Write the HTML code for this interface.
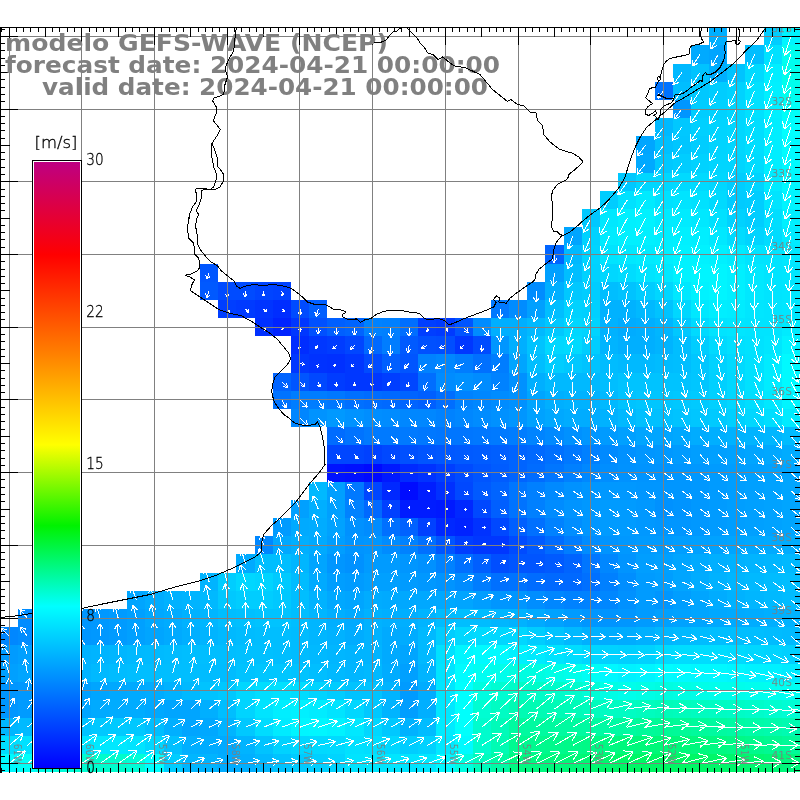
<!DOCTYPE html>
<html lang="pt"><head><meta charset="utf-8"><title>modelo GEFS-WAVE (NCEP)</title>
<style>html,body{margin:0;padding:0;background:#fff}svg{display:block;will-change:transform}.t{font-family:"DejaVu Sans","Liberation Sans",sans-serif;font-weight:bold;font-size:23.5px;fill:#808080}.h{font-family:"DejaVu Sans Light","DejaVu Sans","Liberation Sans",sans-serif;font-weight:200;fill:#000;stroke:#000;stroke-width:0.3px}.g{font-family:"DejaVu Sans Light","DejaVu Sans","Liberation Sans",sans-serif;font-weight:200;fill:#787878;stroke:#808080;stroke-width:0.25px}</style></head><body>
<svg width="800" height="800" viewBox="0 0 800 800">
<rect width="800" height="800" fill="#fff"/>
<g shape-rendering="crispEdges">
<rect x="709" y="28" width="18" height="17" fill="#00afff"/>
<rect x="764" y="28" width="18" height="17" fill="#00cdff"/>
<rect x="782" y="28" width="18" height="17" fill="#00f5ff"/>
<rect x="691" y="45" width="18" height="19" fill="#00aaff"/>
<rect x="709" y="45" width="18" height="19" fill="#00a5ff"/>
<rect x="745" y="45" width="19" height="19" fill="#00beff"/>
<rect x="764" y="45" width="18" height="19" fill="#00e1ff"/>
<rect x="782" y="45" width="18" height="19" fill="#00fef0"/>
<rect x="673" y="64" width="18" height="18" fill="#00b9ff"/>
<rect x="691" y="64" width="18" height="18" fill="#00c3ff"/>
<rect x="709" y="64" width="18" height="18" fill="#00afff"/>
<rect x="727" y="64" width="18" height="18" fill="#00c3ff"/>
<rect x="745" y="64" width="19" height="18" fill="#00daff"/>
<rect x="764" y="64" width="18" height="18" fill="#00eeff"/>
<rect x="782" y="64" width="18" height="18" fill="#00feeb"/>
<rect x="655" y="82" width="18" height="18" fill="#0073ff"/>
<rect x="673" y="82" width="18" height="18" fill="#00beff"/>
<rect x="691" y="82" width="18" height="18" fill="#00c8ff"/>
<rect x="709" y="82" width="18" height="18" fill="#00cdff"/>
<rect x="727" y="82" width="18" height="18" fill="#00d2ff"/>
<rect x="745" y="82" width="19" height="18" fill="#00e1ff"/>
<rect x="764" y="82" width="18" height="18" fill="#00f0ff"/>
<rect x="782" y="82" width="18" height="18" fill="#00feee"/>
<rect x="673" y="100" width="18" height="18" fill="#0096ff"/>
<rect x="691" y="100" width="18" height="18" fill="#00cdff"/>
<rect x="709" y="100" width="18" height="18" fill="#00d2ff"/>
<rect x="727" y="100" width="18" height="18" fill="#00d7ff"/>
<rect x="745" y="100" width="19" height="18" fill="#00e1ff"/>
<rect x="764" y="100" width="18" height="18" fill="#00f0ff"/>
<rect x="782" y="100" width="18" height="18" fill="#00fff8"/>
<rect x="655" y="118" width="18" height="18" fill="#00b9ff"/>
<rect x="673" y="118" width="18" height="18" fill="#00c8ff"/>
<rect x="691" y="118" width="18" height="18" fill="#00d0ff"/>
<rect x="709" y="118" width="18" height="18" fill="#00d4ff"/>
<rect x="727" y="118" width="18" height="18" fill="#00d7ff"/>
<rect x="745" y="118" width="19" height="18" fill="#00deff"/>
<rect x="764" y="118" width="18" height="18" fill="#00eeff"/>
<rect x="782" y="118" width="18" height="18" fill="#00ffff"/>
<rect x="636" y="136" width="19" height="18" fill="#00a6ff"/>
<rect x="655" y="136" width="18" height="18" fill="#00c0ff"/>
<rect x="673" y="136" width="18" height="18" fill="#00c6ff"/>
<rect x="691" y="136" width="18" height="18" fill="#00cdff"/>
<rect x="709" y="136" width="18" height="18" fill="#00d4ff"/>
<rect x="727" y="136" width="18" height="18" fill="#00d7ff"/>
<rect x="745" y="136" width="19" height="18" fill="#00deff"/>
<rect x="764" y="136" width="18" height="18" fill="#00eeff"/>
<rect x="782" y="136" width="18" height="18" fill="#00fcff"/>
<rect x="636" y="154" width="19" height="19" fill="#00a9ff"/>
<rect x="655" y="154" width="18" height="19" fill="#00c8ff"/>
<rect x="673" y="154" width="18" height="19" fill="#00cdff"/>
<rect x="691" y="154" width="18" height="19" fill="#00d2ff"/>
<rect x="709" y="154" width="18" height="19" fill="#00d5ff"/>
<rect x="727" y="154" width="18" height="19" fill="#00d5ff"/>
<rect x="745" y="154" width="19" height="19" fill="#00dcff"/>
<rect x="764" y="154" width="18" height="19" fill="#00eeff"/>
<rect x="782" y="154" width="18" height="19" fill="#00faff"/>
<rect x="618" y="173" width="18" height="18" fill="#00c8ff"/>
<rect x="636" y="173" width="19" height="18" fill="#00d7ff"/>
<rect x="655" y="173" width="18" height="18" fill="#00d7ff"/>
<rect x="673" y="173" width="18" height="18" fill="#00daff"/>
<rect x="691" y="173" width="18" height="18" fill="#00daff"/>
<rect x="709" y="173" width="18" height="18" fill="#00d7ff"/>
<rect x="727" y="173" width="18" height="18" fill="#00cdff"/>
<rect x="745" y="173" width="19" height="18" fill="#00d4ff"/>
<rect x="764" y="173" width="18" height="18" fill="#00ebff"/>
<rect x="782" y="173" width="18" height="18" fill="#00f8ff"/>
<rect x="600" y="191" width="18" height="18" fill="#00cdff"/>
<rect x="618" y="191" width="18" height="18" fill="#00e1ff"/>
<rect x="636" y="191" width="19" height="18" fill="#00ebff"/>
<rect x="655" y="191" width="18" height="18" fill="#00e1ff"/>
<rect x="673" y="191" width="18" height="18" fill="#00e4ff"/>
<rect x="691" y="191" width="18" height="18" fill="#00e1ff"/>
<rect x="709" y="191" width="18" height="18" fill="#00daff"/>
<rect x="727" y="191" width="18" height="18" fill="#00cbff"/>
<rect x="745" y="191" width="19" height="18" fill="#00cdff"/>
<rect x="764" y="191" width="18" height="18" fill="#00e4ff"/>
<rect x="782" y="191" width="18" height="18" fill="#00f5ff"/>
<rect x="582" y="209" width="18" height="18" fill="#00c8ff"/>
<rect x="600" y="209" width="18" height="18" fill="#00e8ff"/>
<rect x="618" y="209" width="18" height="18" fill="#00f0ff"/>
<rect x="636" y="209" width="19" height="18" fill="#00f2ff"/>
<rect x="655" y="209" width="18" height="18" fill="#00ebff"/>
<rect x="673" y="209" width="18" height="18" fill="#00ebff"/>
<rect x="691" y="209" width="18" height="18" fill="#00e8ff"/>
<rect x="709" y="209" width="18" height="18" fill="#00e1ff"/>
<rect x="727" y="209" width="18" height="18" fill="#00d2ff"/>
<rect x="745" y="209" width="19" height="18" fill="#00cdff"/>
<rect x="764" y="209" width="18" height="18" fill="#00deff"/>
<rect x="782" y="209" width="18" height="18" fill="#00f0ff"/>
<rect x="564" y="227" width="18" height="18" fill="#00a5ff"/>
<rect x="582" y="227" width="18" height="18" fill="#00d2ff"/>
<rect x="600" y="227" width="18" height="18" fill="#00ebff"/>
<rect x="618" y="227" width="18" height="18" fill="#00f0ff"/>
<rect x="636" y="227" width="19" height="18" fill="#00f0ff"/>
<rect x="655" y="227" width="18" height="18" fill="#00eeff"/>
<rect x="673" y="227" width="18" height="18" fill="#00f0ff"/>
<rect x="691" y="227" width="18" height="18" fill="#00eeff"/>
<rect x="709" y="227" width="18" height="18" fill="#00e8ff"/>
<rect x="727" y="227" width="18" height="18" fill="#00dcff"/>
<rect x="745" y="227" width="19" height="18" fill="#00d4ff"/>
<rect x="764" y="227" width="18" height="18" fill="#00dcff"/>
<rect x="782" y="227" width="18" height="18" fill="#00ebff"/>
<rect x="545" y="245" width="19" height="19" fill="#0064ff"/>
<rect x="564" y="245" width="18" height="19" fill="#00b9ff"/>
<rect x="582" y="245" width="18" height="19" fill="#00d4ff"/>
<rect x="600" y="245" width="18" height="19" fill="#00e4ff"/>
<rect x="618" y="245" width="18" height="19" fill="#00e8ff"/>
<rect x="636" y="245" width="19" height="19" fill="#00ebff"/>
<rect x="655" y="245" width="18" height="19" fill="#00eeff"/>
<rect x="673" y="245" width="18" height="19" fill="#00f2ff"/>
<rect x="691" y="245" width="18" height="19" fill="#00f2ff"/>
<rect x="709" y="245" width="18" height="19" fill="#00f0ff"/>
<rect x="727" y="245" width="18" height="19" fill="#00ebff"/>
<rect x="745" y="245" width="19" height="19" fill="#00e4ff"/>
<rect x="764" y="245" width="18" height="19" fill="#00e4ff"/>
<rect x="782" y="245" width="18" height="19" fill="#00e8ff"/>
<rect x="200" y="264" width="18" height="18" fill="#0056ff"/>
<rect x="545" y="264" width="19" height="18" fill="#00a0ff"/>
<rect x="564" y="264" width="18" height="18" fill="#00beff"/>
<rect x="582" y="264" width="18" height="18" fill="#00d2ff"/>
<rect x="600" y="264" width="18" height="18" fill="#00d7ff"/>
<rect x="618" y="264" width="18" height="18" fill="#00dcff"/>
<rect x="636" y="264" width="19" height="18" fill="#00e4ff"/>
<rect x="655" y="264" width="18" height="18" fill="#00e8ff"/>
<rect x="673" y="264" width="18" height="18" fill="#00f2ff"/>
<rect x="691" y="264" width="18" height="18" fill="#00f5ff"/>
<rect x="709" y="264" width="18" height="18" fill="#00f5ff"/>
<rect x="727" y="264" width="18" height="18" fill="#00f0ff"/>
<rect x="745" y="264" width="19" height="18" fill="#00e8ff"/>
<rect x="764" y="264" width="18" height="18" fill="#00e4ff"/>
<rect x="782" y="264" width="18" height="18" fill="#00e6ff"/>
<rect x="200" y="282" width="18" height="18" fill="#0059ff"/>
<rect x="218" y="282" width="18" height="18" fill="#004bff"/>
<rect x="236" y="282" width="19" height="18" fill="#004bff"/>
<rect x="255" y="282" width="18" height="18" fill="#0044ff"/>
<rect x="273" y="282" width="18" height="18" fill="#0041ff"/>
<rect x="527" y="282" width="18" height="18" fill="#008cff"/>
<rect x="545" y="282" width="19" height="18" fill="#00afff"/>
<rect x="564" y="282" width="18" height="18" fill="#00c8ff"/>
<rect x="582" y="282" width="18" height="18" fill="#00cdff"/>
<rect x="600" y="282" width="18" height="18" fill="#00beff"/>
<rect x="618" y="282" width="18" height="18" fill="#00c3ff"/>
<rect x="636" y="282" width="19" height="18" fill="#00cdff"/>
<rect x="655" y="282" width="18" height="18" fill="#00d7ff"/>
<rect x="673" y="282" width="18" height="18" fill="#00e8ff"/>
<rect x="691" y="282" width="18" height="18" fill="#00f2ff"/>
<rect x="709" y="282" width="18" height="18" fill="#00f5ff"/>
<rect x="727" y="282" width="18" height="18" fill="#00f0ff"/>
<rect x="745" y="282" width="19" height="18" fill="#00e8ff"/>
<rect x="764" y="282" width="18" height="18" fill="#00e4ff"/>
<rect x="782" y="282" width="18" height="18" fill="#00e6ff"/>
<rect x="218" y="300" width="18" height="18" fill="#003eff"/>
<rect x="236" y="300" width="19" height="18" fill="#003aff"/>
<rect x="255" y="300" width="18" height="18" fill="#0034ff"/>
<rect x="273" y="300" width="18" height="18" fill="#002dff"/>
<rect x="291" y="300" width="18" height="18" fill="#004bff"/>
<rect x="309" y="300" width="18" height="18" fill="#005fff"/>
<rect x="491" y="300" width="18" height="18" fill="#0079ff"/>
<rect x="509" y="300" width="18" height="18" fill="#008cff"/>
<rect x="527" y="300" width="18" height="18" fill="#00a0ff"/>
<rect x="545" y="300" width="19" height="18" fill="#00beff"/>
<rect x="564" y="300" width="18" height="18" fill="#00d2ff"/>
<rect x="582" y="300" width="18" height="18" fill="#00d0ff"/>
<rect x="600" y="300" width="18" height="18" fill="#00b2ff"/>
<rect x="618" y="300" width="18" height="18" fill="#00b2ff"/>
<rect x="636" y="300" width="19" height="18" fill="#00b9ff"/>
<rect x="655" y="300" width="18" height="18" fill="#00c3ff"/>
<rect x="673" y="300" width="18" height="18" fill="#00d7ff"/>
<rect x="691" y="300" width="18" height="18" fill="#00e8ff"/>
<rect x="709" y="300" width="18" height="18" fill="#00eeff"/>
<rect x="727" y="300" width="18" height="18" fill="#00ecff"/>
<rect x="745" y="300" width="19" height="18" fill="#00e6ff"/>
<rect x="764" y="300" width="18" height="18" fill="#00e4ff"/>
<rect x="782" y="300" width="18" height="18" fill="#00e6ff"/>
<rect x="255" y="318" width="18" height="18" fill="#0030ff"/>
<rect x="273" y="318" width="18" height="18" fill="#0023ff"/>
<rect x="291" y="318" width="18" height="18" fill="#0037ff"/>
<rect x="309" y="318" width="18" height="18" fill="#0050ff"/>
<rect x="327" y="318" width="18" height="18" fill="#005fff"/>
<rect x="345" y="318" width="19" height="18" fill="#0064ff"/>
<rect x="364" y="318" width="18" height="18" fill="#0082ff"/>
<rect x="382" y="318" width="18" height="18" fill="#0080ff"/>
<rect x="400" y="318" width="18" height="18" fill="#006eff"/>
<rect x="418" y="318" width="18" height="18" fill="#003eff"/>
<rect x="436" y="318" width="19" height="18" fill="#003aff"/>
<rect x="455" y="318" width="18" height="18" fill="#0055ff"/>
<rect x="473" y="318" width="18" height="18" fill="#008cff"/>
<rect x="491" y="318" width="18" height="18" fill="#00afff"/>
<rect x="509" y="318" width="18" height="18" fill="#00afff"/>
<rect x="527" y="318" width="18" height="18" fill="#00b9ff"/>
<rect x="545" y="318" width="19" height="18" fill="#00c8ff"/>
<rect x="564" y="318" width="18" height="18" fill="#00d7ff"/>
<rect x="582" y="318" width="18" height="18" fill="#00d4ff"/>
<rect x="600" y="318" width="18" height="18" fill="#00b2ff"/>
<rect x="618" y="318" width="18" height="18" fill="#00acff"/>
<rect x="636" y="318" width="19" height="18" fill="#00afff"/>
<rect x="655" y="318" width="18" height="18" fill="#00b6ff"/>
<rect x="673" y="318" width="18" height="18" fill="#00c8ff"/>
<rect x="691" y="318" width="18" height="18" fill="#00daff"/>
<rect x="709" y="318" width="18" height="18" fill="#00e4ff"/>
<rect x="727" y="318" width="18" height="18" fill="#00e6ff"/>
<rect x="745" y="318" width="19" height="18" fill="#00e4ff"/>
<rect x="764" y="318" width="18" height="18" fill="#00e4ff"/>
<rect x="782" y="318" width="18" height="18" fill="#00ebff"/>
<rect x="291" y="336" width="18" height="18" fill="#002dff"/>
<rect x="309" y="336" width="18" height="18" fill="#0037ff"/>
<rect x="327" y="336" width="18" height="18" fill="#003cff"/>
<rect x="345" y="336" width="19" height="18" fill="#0046ff"/>
<rect x="364" y="336" width="18" height="18" fill="#0069ff"/>
<rect x="382" y="336" width="18" height="18" fill="#007dff"/>
<rect x="400" y="336" width="18" height="18" fill="#005aff"/>
<rect x="418" y="336" width="18" height="18" fill="#0050ff"/>
<rect x="436" y="336" width="19" height="18" fill="#004eff"/>
<rect x="455" y="336" width="18" height="18" fill="#0037ff"/>
<rect x="473" y="336" width="18" height="18" fill="#004bff"/>
<rect x="491" y="336" width="18" height="18" fill="#0096ff"/>
<rect x="509" y="336" width="18" height="18" fill="#00afff"/>
<rect x="527" y="336" width="18" height="18" fill="#00c3ff"/>
<rect x="545" y="336" width="19" height="18" fill="#00d7ff"/>
<rect x="564" y="336" width="18" height="18" fill="#00daff"/>
<rect x="582" y="336" width="18" height="18" fill="#00cdff"/>
<rect x="600" y="336" width="18" height="18" fill="#00b4ff"/>
<rect x="618" y="336" width="18" height="18" fill="#00afff"/>
<rect x="636" y="336" width="19" height="18" fill="#00afff"/>
<rect x="655" y="336" width="18" height="18" fill="#00b4ff"/>
<rect x="673" y="336" width="18" height="18" fill="#00beff"/>
<rect x="691" y="336" width="18" height="18" fill="#00cdff"/>
<rect x="709" y="336" width="18" height="18" fill="#00daff"/>
<rect x="727" y="336" width="18" height="18" fill="#00e0ff"/>
<rect x="745" y="336" width="19" height="18" fill="#00e2ff"/>
<rect x="764" y="336" width="18" height="18" fill="#00e6ff"/>
<rect x="782" y="336" width="18" height="18" fill="#00f2ff"/>
<rect x="291" y="354" width="18" height="19" fill="#0037ff"/>
<rect x="309" y="354" width="18" height="19" fill="#0032ff"/>
<rect x="327" y="354" width="18" height="19" fill="#0030ff"/>
<rect x="345" y="354" width="19" height="19" fill="#0037ff"/>
<rect x="364" y="354" width="18" height="19" fill="#004bff"/>
<rect x="382" y="354" width="18" height="19" fill="#005fff"/>
<rect x="400" y="354" width="18" height="19" fill="#0055ff"/>
<rect x="418" y="354" width="18" height="19" fill="#0082ff"/>
<rect x="436" y="354" width="19" height="19" fill="#0087ff"/>
<rect x="455" y="354" width="18" height="19" fill="#007dff"/>
<rect x="473" y="354" width="18" height="19" fill="#0070ff"/>
<rect x="491" y="354" width="18" height="19" fill="#007dff"/>
<rect x="509" y="354" width="18" height="19" fill="#00a5ff"/>
<rect x="527" y="354" width="18" height="19" fill="#00beff"/>
<rect x="545" y="354" width="19" height="19" fill="#00cdff"/>
<rect x="564" y="354" width="18" height="19" fill="#00c8ff"/>
<rect x="582" y="354" width="18" height="19" fill="#00c3ff"/>
<rect x="600" y="354" width="18" height="19" fill="#00bcff"/>
<rect x="618" y="354" width="18" height="19" fill="#00b9ff"/>
<rect x="636" y="354" width="19" height="19" fill="#00b9ff"/>
<rect x="655" y="354" width="18" height="19" fill="#00bcff"/>
<rect x="673" y="354" width="18" height="19" fill="#00beff"/>
<rect x="691" y="354" width="18" height="19" fill="#00c6ff"/>
<rect x="709" y="354" width="18" height="19" fill="#00d2ff"/>
<rect x="727" y="354" width="18" height="19" fill="#00daff"/>
<rect x="745" y="354" width="19" height="19" fill="#00e1ff"/>
<rect x="764" y="354" width="18" height="19" fill="#00ebff"/>
<rect x="782" y="354" width="18" height="19" fill="#00faff"/>
<rect x="273" y="373" width="18" height="18" fill="#0064ff"/>
<rect x="291" y="373" width="18" height="18" fill="#0055ff"/>
<rect x="309" y="373" width="18" height="18" fill="#0048ff"/>
<rect x="327" y="373" width="18" height="18" fill="#003cff"/>
<rect x="345" y="373" width="19" height="18" fill="#0037ff"/>
<rect x="364" y="373" width="18" height="18" fill="#0037ff"/>
<rect x="382" y="373" width="18" height="18" fill="#003eff"/>
<rect x="400" y="373" width="18" height="18" fill="#0046ff"/>
<rect x="418" y="373" width="18" height="18" fill="#006eff"/>
<rect x="436" y="373" width="19" height="18" fill="#008cff"/>
<rect x="455" y="373" width="18" height="18" fill="#0091ff"/>
<rect x="473" y="373" width="18" height="18" fill="#008cff"/>
<rect x="491" y="373" width="18" height="18" fill="#0082ff"/>
<rect x="509" y="373" width="18" height="18" fill="#0091ff"/>
<rect x="527" y="373" width="18" height="18" fill="#00afff"/>
<rect x="545" y="373" width="19" height="18" fill="#00b9ff"/>
<rect x="564" y="373" width="18" height="18" fill="#00b9ff"/>
<rect x="582" y="373" width="18" height="18" fill="#00b9ff"/>
<rect x="600" y="373" width="18" height="18" fill="#00beff"/>
<rect x="618" y="373" width="18" height="18" fill="#00c3ff"/>
<rect x="636" y="373" width="19" height="18" fill="#00c3ff"/>
<rect x="655" y="373" width="18" height="18" fill="#00c3ff"/>
<rect x="673" y="373" width="18" height="18" fill="#00c3ff"/>
<rect x="691" y="373" width="18" height="18" fill="#00c6ff"/>
<rect x="709" y="373" width="18" height="18" fill="#00d0ff"/>
<rect x="727" y="373" width="18" height="18" fill="#00d8ff"/>
<rect x="745" y="373" width="19" height="18" fill="#00e1ff"/>
<rect x="764" y="373" width="18" height="18" fill="#00ecff"/>
<rect x="782" y="373" width="18" height="18" fill="#00faff"/>
<rect x="273" y="391" width="18" height="18" fill="#0073ff"/>
<rect x="291" y="391" width="18" height="18" fill="#007dff"/>
<rect x="309" y="391" width="18" height="18" fill="#007dff"/>
<rect x="327" y="391" width="18" height="18" fill="#0078ff"/>
<rect x="345" y="391" width="19" height="18" fill="#0070ff"/>
<rect x="364" y="391" width="18" height="18" fill="#006cff"/>
<rect x="382" y="391" width="18" height="18" fill="#0069ff"/>
<rect x="400" y="391" width="18" height="18" fill="#0064ff"/>
<rect x="418" y="391" width="18" height="18" fill="#005fff"/>
<rect x="436" y="391" width="19" height="18" fill="#006eff"/>
<rect x="455" y="391" width="18" height="18" fill="#0082ff"/>
<rect x="473" y="391" width="18" height="18" fill="#0087ff"/>
<rect x="491" y="391" width="18" height="18" fill="#008cff"/>
<rect x="509" y="391" width="18" height="18" fill="#0091ff"/>
<rect x="527" y="391" width="18" height="18" fill="#00a5ff"/>
<rect x="545" y="391" width="19" height="18" fill="#00afff"/>
<rect x="564" y="391" width="18" height="18" fill="#00b2ff"/>
<rect x="582" y="391" width="18" height="18" fill="#00b2ff"/>
<rect x="600" y="391" width="18" height="18" fill="#00b9ff"/>
<rect x="618" y="391" width="18" height="18" fill="#00c3ff"/>
<rect x="636" y="391" width="19" height="18" fill="#00c6ff"/>
<rect x="655" y="391" width="18" height="18" fill="#00c6ff"/>
<rect x="673" y="391" width="18" height="18" fill="#00c8ff"/>
<rect x="691" y="391" width="18" height="18" fill="#00caff"/>
<rect x="709" y="391" width="18" height="18" fill="#00d0ff"/>
<rect x="727" y="391" width="18" height="18" fill="#00d7ff"/>
<rect x="745" y="391" width="19" height="18" fill="#00deff"/>
<rect x="764" y="391" width="18" height="18" fill="#00e8ff"/>
<rect x="782" y="391" width="18" height="18" fill="#00f5ff"/>
<rect x="291" y="409" width="18" height="18" fill="#0086ff"/>
<rect x="309" y="409" width="18" height="18" fill="#0093ff"/>
<rect x="327" y="409" width="18" height="18" fill="#0099ff"/>
<rect x="345" y="409" width="19" height="18" fill="#0093ff"/>
<rect x="364" y="409" width="18" height="18" fill="#008eff"/>
<rect x="382" y="409" width="18" height="18" fill="#008cff"/>
<rect x="400" y="409" width="18" height="18" fill="#0087ff"/>
<rect x="418" y="409" width="18" height="18" fill="#0087ff"/>
<rect x="436" y="409" width="19" height="18" fill="#0082ff"/>
<rect x="455" y="409" width="18" height="18" fill="#0087ff"/>
<rect x="473" y="409" width="18" height="18" fill="#008cff"/>
<rect x="491" y="409" width="18" height="18" fill="#0091ff"/>
<rect x="509" y="409" width="18" height="18" fill="#0096ff"/>
<rect x="527" y="409" width="18" height="18" fill="#00a2ff"/>
<rect x="545" y="409" width="19" height="18" fill="#00a8ff"/>
<rect x="564" y="409" width="18" height="18" fill="#00acff"/>
<rect x="582" y="409" width="18" height="18" fill="#00acff"/>
<rect x="600" y="409" width="18" height="18" fill="#00b2ff"/>
<rect x="618" y="409" width="18" height="18" fill="#00b9ff"/>
<rect x="636" y="409" width="19" height="18" fill="#00c0ff"/>
<rect x="655" y="409" width="18" height="18" fill="#00c0ff"/>
<rect x="673" y="409" width="18" height="18" fill="#00c3ff"/>
<rect x="691" y="409" width="18" height="18" fill="#00c6ff"/>
<rect x="709" y="409" width="18" height="18" fill="#00caff"/>
<rect x="727" y="409" width="18" height="18" fill="#00d0ff"/>
<rect x="745" y="409" width="19" height="18" fill="#00d7ff"/>
<rect x="764" y="409" width="18" height="18" fill="#00deff"/>
<rect x="782" y="409" width="18" height="18" fill="#00ebff"/>
<rect x="327" y="427" width="18" height="18" fill="#006cff"/>
<rect x="345" y="427" width="19" height="18" fill="#0073ff"/>
<rect x="364" y="427" width="18" height="18" fill="#007aff"/>
<rect x="382" y="427" width="18" height="18" fill="#007aff"/>
<rect x="400" y="427" width="18" height="18" fill="#007aff"/>
<rect x="418" y="427" width="18" height="18" fill="#0078ff"/>
<rect x="436" y="427" width="19" height="18" fill="#0076ff"/>
<rect x="455" y="427" width="18" height="18" fill="#0076ff"/>
<rect x="473" y="427" width="18" height="18" fill="#0078ff"/>
<rect x="491" y="427" width="18" height="18" fill="#007aff"/>
<rect x="509" y="427" width="18" height="18" fill="#007dff"/>
<rect x="527" y="427" width="18" height="18" fill="#0084ff"/>
<rect x="545" y="427" width="19" height="18" fill="#008aff"/>
<rect x="564" y="427" width="18" height="18" fill="#0091ff"/>
<rect x="582" y="427" width="18" height="18" fill="#0096ff"/>
<rect x="600" y="427" width="18" height="18" fill="#009bff"/>
<rect x="618" y="427" width="18" height="18" fill="#00a0ff"/>
<rect x="636" y="427" width="19" height="18" fill="#00a5ff"/>
<rect x="655" y="427" width="18" height="18" fill="#00a5ff"/>
<rect x="673" y="427" width="18" height="18" fill="#00a8ff"/>
<rect x="691" y="427" width="18" height="18" fill="#00acff"/>
<rect x="709" y="427" width="18" height="18" fill="#00afff"/>
<rect x="727" y="427" width="18" height="18" fill="#00b2ff"/>
<rect x="745" y="427" width="19" height="18" fill="#00b4ff"/>
<rect x="764" y="427" width="18" height="18" fill="#00b6ff"/>
<rect x="782" y="427" width="18" height="18" fill="#00bcff"/>
<rect x="327" y="445" width="18" height="19" fill="#0046ff"/>
<rect x="345" y="445" width="19" height="19" fill="#0046ff"/>
<rect x="364" y="445" width="18" height="19" fill="#0041ff"/>
<rect x="382" y="445" width="18" height="19" fill="#0048ff"/>
<rect x="400" y="445" width="18" height="19" fill="#0050ff"/>
<rect x="418" y="445" width="18" height="19" fill="#0055ff"/>
<rect x="436" y="445" width="19" height="19" fill="#0058ff"/>
<rect x="455" y="445" width="18" height="19" fill="#005aff"/>
<rect x="473" y="445" width="18" height="19" fill="#005cff"/>
<rect x="491" y="445" width="18" height="19" fill="#005fff"/>
<rect x="509" y="445" width="18" height="19" fill="#0064ff"/>
<rect x="527" y="445" width="18" height="19" fill="#0069ff"/>
<rect x="545" y="445" width="19" height="19" fill="#0070ff"/>
<rect x="564" y="445" width="18" height="19" fill="#0078ff"/>
<rect x="582" y="445" width="18" height="19" fill="#0080ff"/>
<rect x="600" y="445" width="18" height="19" fill="#008aff"/>
<rect x="618" y="445" width="18" height="19" fill="#0091ff"/>
<rect x="636" y="445" width="19" height="19" fill="#0096ff"/>
<rect x="655" y="445" width="18" height="19" fill="#0098ff"/>
<rect x="673" y="445" width="18" height="19" fill="#009bff"/>
<rect x="691" y="445" width="18" height="19" fill="#009eff"/>
<rect x="709" y="445" width="18" height="19" fill="#00a0ff"/>
<rect x="727" y="445" width="18" height="19" fill="#00a2ff"/>
<rect x="745" y="445" width="19" height="19" fill="#00a5ff"/>
<rect x="764" y="445" width="18" height="19" fill="#00a8ff"/>
<rect x="782" y="445" width="18" height="19" fill="#00acff"/>
<rect x="327" y="464" width="18" height="18" fill="#0013ff"/>
<rect x="345" y="464" width="19" height="18" fill="#0010ff"/>
<rect x="364" y="464" width="18" height="18" fill="#000aff"/>
<rect x="382" y="464" width="18" height="18" fill="#0019ff"/>
<rect x="400" y="464" width="18" height="18" fill="#002aff"/>
<rect x="418" y="464" width="18" height="18" fill="#0032ff"/>
<rect x="436" y="464" width="19" height="18" fill="#003eff"/>
<rect x="455" y="464" width="18" height="18" fill="#004bff"/>
<rect x="473" y="464" width="18" height="18" fill="#0055ff"/>
<rect x="491" y="464" width="18" height="18" fill="#005cff"/>
<rect x="509" y="464" width="18" height="18" fill="#0064ff"/>
<rect x="527" y="464" width="18" height="18" fill="#006cff"/>
<rect x="545" y="464" width="19" height="18" fill="#0076ff"/>
<rect x="564" y="464" width="18" height="18" fill="#0080ff"/>
<rect x="582" y="464" width="18" height="18" fill="#0088ff"/>
<rect x="600" y="464" width="18" height="18" fill="#008eff"/>
<rect x="618" y="464" width="18" height="18" fill="#0092ff"/>
<rect x="636" y="464" width="19" height="18" fill="#0094ff"/>
<rect x="655" y="464" width="18" height="18" fill="#0094ff"/>
<rect x="673" y="464" width="18" height="18" fill="#0096ff"/>
<rect x="691" y="464" width="18" height="18" fill="#0098ff"/>
<rect x="709" y="464" width="18" height="18" fill="#009bff"/>
<rect x="727" y="464" width="18" height="18" fill="#009eff"/>
<rect x="745" y="464" width="19" height="18" fill="#00a0ff"/>
<rect x="764" y="464" width="18" height="18" fill="#00a2ff"/>
<rect x="782" y="464" width="18" height="18" fill="#00a5ff"/>
<rect x="309" y="482" width="18" height="18" fill="#00b9ff"/>
<rect x="327" y="482" width="18" height="18" fill="#009fff"/>
<rect x="345" y="482" width="19" height="18" fill="#0079ff"/>
<rect x="364" y="482" width="18" height="18" fill="#0046ff"/>
<rect x="382" y="482" width="18" height="18" fill="#0028ff"/>
<rect x="400" y="482" width="18" height="18" fill="#000cff"/>
<rect x="418" y="482" width="18" height="18" fill="#001eff"/>
<rect x="436" y="482" width="19" height="18" fill="#0030ff"/>
<rect x="455" y="482" width="18" height="18" fill="#0048ff"/>
<rect x="473" y="482" width="18" height="18" fill="#005aff"/>
<rect x="491" y="482" width="18" height="18" fill="#0064ff"/>
<rect x="509" y="482" width="18" height="18" fill="#0076ff"/>
<rect x="527" y="482" width="18" height="18" fill="#0080ff"/>
<rect x="545" y="482" width="19" height="18" fill="#008aff"/>
<rect x="564" y="482" width="18" height="18" fill="#0092ff"/>
<rect x="582" y="482" width="18" height="18" fill="#0096ff"/>
<rect x="600" y="482" width="18" height="18" fill="#0098ff"/>
<rect x="618" y="482" width="18" height="18" fill="#0098ff"/>
<rect x="636" y="482" width="19" height="18" fill="#0096ff"/>
<rect x="655" y="482" width="18" height="18" fill="#0096ff"/>
<rect x="673" y="482" width="18" height="18" fill="#0096ff"/>
<rect x="691" y="482" width="18" height="18" fill="#0098ff"/>
<rect x="709" y="482" width="18" height="18" fill="#009bff"/>
<rect x="727" y="482" width="18" height="18" fill="#009eff"/>
<rect x="745" y="482" width="19" height="18" fill="#00a0ff"/>
<rect x="764" y="482" width="18" height="18" fill="#00a2ff"/>
<rect x="782" y="482" width="18" height="18" fill="#00a5ff"/>
<rect x="291" y="500" width="18" height="18" fill="#00a0ff"/>
<rect x="309" y="500" width="18" height="18" fill="#00afff"/>
<rect x="327" y="500" width="18" height="18" fill="#00a0ff"/>
<rect x="345" y="500" width="19" height="18" fill="#0082ff"/>
<rect x="364" y="500" width="18" height="18" fill="#0069ff"/>
<rect x="382" y="500" width="18" height="18" fill="#0041ff"/>
<rect x="400" y="500" width="18" height="18" fill="#001cff"/>
<rect x="418" y="500" width="18" height="18" fill="#001cff"/>
<rect x="436" y="500" width="19" height="18" fill="#0019ff"/>
<rect x="455" y="500" width="18" height="18" fill="#0028ff"/>
<rect x="473" y="500" width="18" height="18" fill="#0048ff"/>
<rect x="491" y="500" width="18" height="18" fill="#005fff"/>
<rect x="509" y="500" width="18" height="18" fill="#0073ff"/>
<rect x="527" y="500" width="18" height="18" fill="#0080ff"/>
<rect x="545" y="500" width="19" height="18" fill="#008cff"/>
<rect x="564" y="500" width="18" height="18" fill="#0094ff"/>
<rect x="582" y="500" width="18" height="18" fill="#0098ff"/>
<rect x="600" y="500" width="18" height="18" fill="#009bff"/>
<rect x="618" y="500" width="18" height="18" fill="#009bff"/>
<rect x="636" y="500" width="19" height="18" fill="#0098ff"/>
<rect x="655" y="500" width="18" height="18" fill="#0091ff"/>
<rect x="673" y="500" width="18" height="18" fill="#0094ff"/>
<rect x="691" y="500" width="18" height="18" fill="#0098ff"/>
<rect x="709" y="500" width="18" height="18" fill="#009bff"/>
<rect x="727" y="500" width="18" height="18" fill="#009eff"/>
<rect x="745" y="500" width="19" height="18" fill="#00a0ff"/>
<rect x="764" y="500" width="18" height="18" fill="#00a2ff"/>
<rect x="782" y="500" width="18" height="18" fill="#00a5ff"/>
<rect x="273" y="518" width="18" height="18" fill="#009bff"/>
<rect x="291" y="518" width="18" height="18" fill="#00aaff"/>
<rect x="309" y="518" width="18" height="18" fill="#00acff"/>
<rect x="327" y="518" width="18" height="18" fill="#00a2ff"/>
<rect x="345" y="518" width="19" height="18" fill="#0091ff"/>
<rect x="364" y="518" width="18" height="18" fill="#008cff"/>
<rect x="382" y="518" width="18" height="18" fill="#0070ff"/>
<rect x="400" y="518" width="18" height="18" fill="#0062ff"/>
<rect x="418" y="518" width="18" height="18" fill="#0041ff"/>
<rect x="436" y="518" width="19" height="18" fill="#0028ff"/>
<rect x="455" y="518" width="18" height="18" fill="#0023ff"/>
<rect x="473" y="518" width="18" height="18" fill="#0032ff"/>
<rect x="491" y="518" width="18" height="18" fill="#0048ff"/>
<rect x="509" y="518" width="18" height="18" fill="#005fff"/>
<rect x="527" y="518" width="18" height="18" fill="#0070ff"/>
<rect x="545" y="518" width="19" height="18" fill="#0082ff"/>
<rect x="564" y="518" width="18" height="18" fill="#008eff"/>
<rect x="582" y="518" width="18" height="18" fill="#0096ff"/>
<rect x="600" y="518" width="18" height="18" fill="#009bff"/>
<rect x="618" y="518" width="18" height="18" fill="#009bff"/>
<rect x="636" y="518" width="19" height="18" fill="#0098ff"/>
<rect x="655" y="518" width="18" height="18" fill="#0096ff"/>
<rect x="673" y="518" width="18" height="18" fill="#0096ff"/>
<rect x="691" y="518" width="18" height="18" fill="#0098ff"/>
<rect x="709" y="518" width="18" height="18" fill="#009bff"/>
<rect x="727" y="518" width="18" height="18" fill="#009eff"/>
<rect x="745" y="518" width="19" height="18" fill="#00a0ff"/>
<rect x="764" y="518" width="18" height="18" fill="#00a2ff"/>
<rect x="782" y="518" width="18" height="18" fill="#00a5ff"/>
<rect x="255" y="536" width="18" height="18" fill="#0087ff"/>
<rect x="273" y="536" width="18" height="18" fill="#00a8ff"/>
<rect x="291" y="536" width="18" height="18" fill="#00afff"/>
<rect x="309" y="536" width="18" height="18" fill="#00aaff"/>
<rect x="327" y="536" width="18" height="18" fill="#009eff"/>
<rect x="345" y="536" width="19" height="18" fill="#0094ff"/>
<rect x="364" y="536" width="18" height="18" fill="#0096ff"/>
<rect x="382" y="536" width="18" height="18" fill="#008cff"/>
<rect x="400" y="536" width="18" height="18" fill="#0082ff"/>
<rect x="418" y="536" width="18" height="18" fill="#0070ff"/>
<rect x="436" y="536" width="19" height="18" fill="#0055ff"/>
<rect x="455" y="536" width="18" height="18" fill="#003eff"/>
<rect x="473" y="536" width="18" height="18" fill="#0037ff"/>
<rect x="491" y="536" width="18" height="18" fill="#0037ff"/>
<rect x="509" y="536" width="18" height="18" fill="#004bff"/>
<rect x="527" y="536" width="18" height="18" fill="#005aff"/>
<rect x="545" y="536" width="19" height="18" fill="#006cff"/>
<rect x="564" y="536" width="18" height="18" fill="#007dff"/>
<rect x="582" y="536" width="18" height="18" fill="#008cff"/>
<rect x="600" y="536" width="18" height="18" fill="#0094ff"/>
<rect x="618" y="536" width="18" height="18" fill="#0098ff"/>
<rect x="636" y="536" width="19" height="18" fill="#009bff"/>
<rect x="655" y="536" width="18" height="18" fill="#009bff"/>
<rect x="673" y="536" width="18" height="18" fill="#009eff"/>
<rect x="691" y="536" width="18" height="18" fill="#00a0ff"/>
<rect x="709" y="536" width="18" height="18" fill="#00a2ff"/>
<rect x="727" y="536" width="18" height="18" fill="#00a5ff"/>
<rect x="745" y="536" width="19" height="18" fill="#00a8ff"/>
<rect x="764" y="536" width="18" height="18" fill="#00aaff"/>
<rect x="782" y="536" width="18" height="18" fill="#00acff"/>
<rect x="236" y="554" width="19" height="19" fill="#00aaff"/>
<rect x="255" y="554" width="18" height="19" fill="#00beff"/>
<rect x="273" y="554" width="18" height="19" fill="#00beff"/>
<rect x="291" y="554" width="18" height="19" fill="#00b6ff"/>
<rect x="309" y="554" width="18" height="19" fill="#00a5ff"/>
<rect x="327" y="554" width="18" height="19" fill="#0096ff"/>
<rect x="345" y="554" width="19" height="19" fill="#0091ff"/>
<rect x="364" y="554" width="18" height="19" fill="#009bff"/>
<rect x="382" y="554" width="18" height="19" fill="#009bff"/>
<rect x="400" y="554" width="18" height="19" fill="#0096ff"/>
<rect x="418" y="554" width="18" height="19" fill="#0091ff"/>
<rect x="436" y="554" width="19" height="19" fill="#0082ff"/>
<rect x="455" y="554" width="18" height="19" fill="#0070ff"/>
<rect x="473" y="554" width="18" height="19" fill="#005fff"/>
<rect x="491" y="554" width="18" height="19" fill="#004eff"/>
<rect x="509" y="554" width="18" height="19" fill="#0055ff"/>
<rect x="527" y="554" width="18" height="19" fill="#0055ff"/>
<rect x="545" y="554" width="19" height="19" fill="#005aff"/>
<rect x="564" y="554" width="18" height="19" fill="#0064ff"/>
<rect x="582" y="554" width="18" height="19" fill="#0076ff"/>
<rect x="600" y="554" width="18" height="19" fill="#0087ff"/>
<rect x="618" y="554" width="18" height="19" fill="#0094ff"/>
<rect x="636" y="554" width="19" height="19" fill="#009eff"/>
<rect x="655" y="554" width="18" height="19" fill="#00a0ff"/>
<rect x="673" y="554" width="18" height="19" fill="#00a5ff"/>
<rect x="691" y="554" width="18" height="19" fill="#00aaff"/>
<rect x="709" y="554" width="18" height="19" fill="#00afff"/>
<rect x="727" y="554" width="18" height="19" fill="#00b2ff"/>
<rect x="745" y="554" width="19" height="19" fill="#00b4ff"/>
<rect x="764" y="554" width="18" height="19" fill="#00b6ff"/>
<rect x="782" y="554" width="18" height="19" fill="#00b9ff"/>
<rect x="200" y="573" width="18" height="18" fill="#00b4ff"/>
<rect x="218" y="573" width="18" height="18" fill="#00cdff"/>
<rect x="236" y="573" width="19" height="18" fill="#00d7ff"/>
<rect x="255" y="573" width="18" height="18" fill="#00d4ff"/>
<rect x="273" y="573" width="18" height="18" fill="#00caff"/>
<rect x="291" y="573" width="18" height="18" fill="#00bcff"/>
<rect x="309" y="573" width="18" height="18" fill="#00aaff"/>
<rect x="327" y="573" width="18" height="18" fill="#009eff"/>
<rect x="345" y="573" width="19" height="18" fill="#009bff"/>
<rect x="364" y="573" width="18" height="18" fill="#00a0ff"/>
<rect x="382" y="573" width="18" height="18" fill="#00a0ff"/>
<rect x="400" y="573" width="18" height="18" fill="#009bff"/>
<rect x="418" y="573" width="18" height="18" fill="#0098ff"/>
<rect x="436" y="573" width="19" height="18" fill="#0094ff"/>
<rect x="455" y="573" width="18" height="18" fill="#008cff"/>
<rect x="473" y="573" width="18" height="18" fill="#007dff"/>
<rect x="491" y="573" width="18" height="18" fill="#0070ff"/>
<rect x="509" y="573" width="18" height="18" fill="#0073ff"/>
<rect x="527" y="573" width="18" height="18" fill="#006cff"/>
<rect x="545" y="573" width="19" height="18" fill="#0069ff"/>
<rect x="564" y="573" width="18" height="18" fill="#0069ff"/>
<rect x="582" y="573" width="18" height="18" fill="#0070ff"/>
<rect x="600" y="573" width="18" height="18" fill="#0080ff"/>
<rect x="618" y="573" width="18" height="18" fill="#008eff"/>
<rect x="636" y="573" width="19" height="18" fill="#009bff"/>
<rect x="655" y="573" width="18" height="18" fill="#009eff"/>
<rect x="673" y="573" width="18" height="18" fill="#00a5ff"/>
<rect x="691" y="573" width="18" height="18" fill="#00acff"/>
<rect x="709" y="573" width="18" height="18" fill="#00b2ff"/>
<rect x="727" y="573" width="18" height="18" fill="#00b6ff"/>
<rect x="745" y="573" width="19" height="18" fill="#00b9ff"/>
<rect x="764" y="573" width="18" height="18" fill="#00bcff"/>
<rect x="782" y="573" width="18" height="18" fill="#00beff"/>
<rect x="127" y="591" width="18" height="18" fill="#00a5ff"/>
<rect x="145" y="591" width="19" height="18" fill="#00acff"/>
<rect x="164" y="591" width="18" height="18" fill="#00b2ff"/>
<rect x="182" y="591" width="18" height="18" fill="#00b4ff"/>
<rect x="200" y="591" width="18" height="18" fill="#00b9ff"/>
<rect x="218" y="591" width="18" height="18" fill="#00c8ff"/>
<rect x="236" y="591" width="19" height="18" fill="#00cdff"/>
<rect x="255" y="591" width="18" height="18" fill="#00cdff"/>
<rect x="273" y="591" width="18" height="18" fill="#00c8ff"/>
<rect x="291" y="591" width="18" height="18" fill="#00beff"/>
<rect x="309" y="591" width="18" height="18" fill="#00b2ff"/>
<rect x="327" y="591" width="18" height="18" fill="#00a8ff"/>
<rect x="345" y="591" width="19" height="18" fill="#00a5ff"/>
<rect x="364" y="591" width="18" height="18" fill="#00acff"/>
<rect x="382" y="591" width="18" height="18" fill="#00aaff"/>
<rect x="400" y="591" width="18" height="18" fill="#00a8ff"/>
<rect x="418" y="591" width="18" height="18" fill="#00a8ff"/>
<rect x="436" y="591" width="19" height="18" fill="#00a8ff"/>
<rect x="455" y="591" width="18" height="18" fill="#00a5ff"/>
<rect x="473" y="591" width="18" height="18" fill="#009eff"/>
<rect x="491" y="591" width="18" height="18" fill="#0096ff"/>
<rect x="509" y="591" width="18" height="18" fill="#0096ff"/>
<rect x="527" y="591" width="18" height="18" fill="#008eff"/>
<rect x="545" y="591" width="19" height="18" fill="#0087ff"/>
<rect x="564" y="591" width="18" height="18" fill="#0082ff"/>
<rect x="582" y="591" width="18" height="18" fill="#0082ff"/>
<rect x="600" y="591" width="18" height="18" fill="#0087ff"/>
<rect x="618" y="591" width="18" height="18" fill="#0091ff"/>
<rect x="636" y="591" width="19" height="18" fill="#009bff"/>
<rect x="655" y="591" width="18" height="18" fill="#0096ff"/>
<rect x="673" y="591" width="18" height="18" fill="#009eff"/>
<rect x="691" y="591" width="18" height="18" fill="#00a5ff"/>
<rect x="709" y="591" width="18" height="18" fill="#00acff"/>
<rect x="727" y="591" width="18" height="18" fill="#00b2ff"/>
<rect x="745" y="591" width="19" height="18" fill="#00b6ff"/>
<rect x="764" y="591" width="18" height="18" fill="#00b9ff"/>
<rect x="782" y="591" width="18" height="18" fill="#00bcff"/>
<rect x="18" y="609" width="18" height="18" fill="#008cff"/>
<rect x="36" y="609" width="19" height="18" fill="#0091ff"/>
<rect x="55" y="609" width="18" height="18" fill="#0094ff"/>
<rect x="73" y="609" width="18" height="18" fill="#0096ff"/>
<rect x="91" y="609" width="18" height="18" fill="#0098ff"/>
<rect x="109" y="609" width="18" height="18" fill="#009bff"/>
<rect x="127" y="609" width="18" height="18" fill="#00a0ff"/>
<rect x="145" y="609" width="19" height="18" fill="#00a8ff"/>
<rect x="164" y="609" width="18" height="18" fill="#00acff"/>
<rect x="182" y="609" width="18" height="18" fill="#00b2ff"/>
<rect x="200" y="609" width="18" height="18" fill="#00b6ff"/>
<rect x="218" y="609" width="18" height="18" fill="#00beff"/>
<rect x="236" y="609" width="19" height="18" fill="#00c0ff"/>
<rect x="255" y="609" width="18" height="18" fill="#00c3ff"/>
<rect x="273" y="609" width="18" height="18" fill="#00c3ff"/>
<rect x="291" y="609" width="18" height="18" fill="#00beff"/>
<rect x="309" y="609" width="18" height="18" fill="#00b6ff"/>
<rect x="327" y="609" width="18" height="18" fill="#00afff"/>
<rect x="345" y="609" width="19" height="18" fill="#00aaff"/>
<rect x="364" y="609" width="18" height="18" fill="#00b2ff"/>
<rect x="382" y="609" width="18" height="18" fill="#00afff"/>
<rect x="400" y="609" width="18" height="18" fill="#00afff"/>
<rect x="418" y="609" width="18" height="18" fill="#00b4ff"/>
<rect x="436" y="609" width="19" height="18" fill="#00bcff"/>
<rect x="455" y="609" width="18" height="18" fill="#00beff"/>
<rect x="473" y="609" width="18" height="18" fill="#00bcff"/>
<rect x="491" y="609" width="18" height="18" fill="#00b6ff"/>
<rect x="509" y="609" width="18" height="18" fill="#00b2ff"/>
<rect x="527" y="609" width="18" height="18" fill="#00aaff"/>
<rect x="545" y="609" width="19" height="18" fill="#00a2ff"/>
<rect x="564" y="609" width="18" height="18" fill="#009bff"/>
<rect x="582" y="609" width="18" height="18" fill="#0096ff"/>
<rect x="600" y="609" width="18" height="18" fill="#0094ff"/>
<rect x="618" y="609" width="18" height="18" fill="#0096ff"/>
<rect x="636" y="609" width="19" height="18" fill="#009bff"/>
<rect x="655" y="609" width="18" height="18" fill="#00a0ff"/>
<rect x="673" y="609" width="18" height="18" fill="#00a2ff"/>
<rect x="691" y="609" width="18" height="18" fill="#00a5ff"/>
<rect x="709" y="609" width="18" height="18" fill="#00a8ff"/>
<rect x="727" y="609" width="18" height="18" fill="#00aaff"/>
<rect x="745" y="609" width="19" height="18" fill="#00acff"/>
<rect x="764" y="609" width="18" height="18" fill="#00afff"/>
<rect x="782" y="609" width="18" height="18" fill="#00b2ff"/>
<rect x="0" y="627" width="18" height="18" fill="#0087ff"/>
<rect x="18" y="627" width="18" height="18" fill="#008cff"/>
<rect x="36" y="627" width="19" height="18" fill="#0091ff"/>
<rect x="55" y="627" width="18" height="18" fill="#0094ff"/>
<rect x="73" y="627" width="18" height="18" fill="#0096ff"/>
<rect x="91" y="627" width="18" height="18" fill="#0098ff"/>
<rect x="109" y="627" width="18" height="18" fill="#009bff"/>
<rect x="127" y="627" width="18" height="18" fill="#00a0ff"/>
<rect x="145" y="627" width="19" height="18" fill="#00a5ff"/>
<rect x="164" y="627" width="18" height="18" fill="#00aaff"/>
<rect x="182" y="627" width="18" height="18" fill="#00afff"/>
<rect x="200" y="627" width="18" height="18" fill="#00b4ff"/>
<rect x="218" y="627" width="18" height="18" fill="#00b9ff"/>
<rect x="236" y="627" width="19" height="18" fill="#00bcff"/>
<rect x="255" y="627" width="18" height="18" fill="#00beff"/>
<rect x="273" y="627" width="18" height="18" fill="#00beff"/>
<rect x="291" y="627" width="18" height="18" fill="#00bcff"/>
<rect x="309" y="627" width="18" height="18" fill="#00b6ff"/>
<rect x="327" y="627" width="18" height="18" fill="#00b2ff"/>
<rect x="345" y="627" width="19" height="18" fill="#00acff"/>
<rect x="364" y="627" width="18" height="18" fill="#00b2ff"/>
<rect x="382" y="627" width="18" height="18" fill="#00aaff"/>
<rect x="400" y="627" width="18" height="18" fill="#00acff"/>
<rect x="418" y="627" width="18" height="18" fill="#00b9ff"/>
<rect x="436" y="627" width="19" height="18" fill="#00cdff"/>
<rect x="455" y="627" width="18" height="18" fill="#00d7ff"/>
<rect x="473" y="627" width="18" height="18" fill="#00daff"/>
<rect x="491" y="627" width="18" height="18" fill="#00d7ff"/>
<rect x="509" y="627" width="18" height="18" fill="#00d7ff"/>
<rect x="527" y="627" width="18" height="18" fill="#00cdff"/>
<rect x="545" y="627" width="19" height="18" fill="#00c3ff"/>
<rect x="564" y="627" width="18" height="18" fill="#00b9ff"/>
<rect x="582" y="627" width="18" height="18" fill="#00b0ff"/>
<rect x="600" y="627" width="18" height="18" fill="#00acff"/>
<rect x="618" y="627" width="18" height="18" fill="#00acff"/>
<rect x="636" y="627" width="19" height="18" fill="#00b0ff"/>
<rect x="655" y="627" width="18" height="18" fill="#00b6ff"/>
<rect x="673" y="627" width="18" height="18" fill="#00b9ff"/>
<rect x="691" y="627" width="18" height="18" fill="#00bcff"/>
<rect x="709" y="627" width="18" height="18" fill="#00beff"/>
<rect x="727" y="627" width="18" height="18" fill="#00beff"/>
<rect x="745" y="627" width="19" height="18" fill="#00beff"/>
<rect x="764" y="627" width="18" height="18" fill="#00bcff"/>
<rect x="782" y="627" width="18" height="18" fill="#00baff"/>
<rect x="0" y="645" width="18" height="19" fill="#009bff"/>
<rect x="18" y="645" width="18" height="19" fill="#00a0ff"/>
<rect x="36" y="645" width="19" height="19" fill="#00a5ff"/>
<rect x="55" y="645" width="18" height="19" fill="#00aaff"/>
<rect x="73" y="645" width="18" height="19" fill="#00b2ff"/>
<rect x="91" y="645" width="18" height="19" fill="#00b4ff"/>
<rect x="109" y="645" width="18" height="19" fill="#00b6ff"/>
<rect x="127" y="645" width="18" height="19" fill="#00b9ff"/>
<rect x="145" y="645" width="19" height="19" fill="#00baff"/>
<rect x="164" y="645" width="18" height="19" fill="#00bcff"/>
<rect x="182" y="645" width="18" height="19" fill="#00beff"/>
<rect x="200" y="645" width="18" height="19" fill="#00beff"/>
<rect x="218" y="645" width="18" height="19" fill="#00beff"/>
<rect x="236" y="645" width="19" height="19" fill="#00c0ff"/>
<rect x="255" y="645" width="18" height="19" fill="#00c0ff"/>
<rect x="273" y="645" width="18" height="19" fill="#00beff"/>
<rect x="291" y="645" width="18" height="19" fill="#00bcff"/>
<rect x="309" y="645" width="18" height="19" fill="#00b9ff"/>
<rect x="327" y="645" width="18" height="19" fill="#00b6ff"/>
<rect x="345" y="645" width="19" height="19" fill="#00b4ff"/>
<rect x="364" y="645" width="18" height="19" fill="#00b4ff"/>
<rect x="382" y="645" width="18" height="19" fill="#00aaff"/>
<rect x="400" y="645" width="18" height="19" fill="#00a5ff"/>
<rect x="418" y="645" width="18" height="19" fill="#00b9ff"/>
<rect x="436" y="645" width="19" height="19" fill="#00e1ff"/>
<rect x="455" y="645" width="18" height="19" fill="#00f5ff"/>
<rect x="473" y="645" width="18" height="19" fill="#00faff"/>
<rect x="491" y="645" width="18" height="19" fill="#00faff"/>
<rect x="509" y="645" width="18" height="19" fill="#00f0ff"/>
<rect x="527" y="645" width="18" height="19" fill="#00ebff"/>
<rect x="545" y="645" width="19" height="19" fill="#00e4ff"/>
<rect x="564" y="645" width="18" height="19" fill="#00deff"/>
<rect x="582" y="645" width="18" height="19" fill="#00d7ff"/>
<rect x="600" y="645" width="18" height="19" fill="#00d2ff"/>
<rect x="618" y="645" width="18" height="19" fill="#00d0ff"/>
<rect x="636" y="645" width="19" height="19" fill="#00d2ff"/>
<rect x="655" y="645" width="18" height="19" fill="#00daff"/>
<rect x="673" y="645" width="18" height="19" fill="#00dcff"/>
<rect x="691" y="645" width="18" height="19" fill="#00dcff"/>
<rect x="709" y="645" width="18" height="19" fill="#00dcff"/>
<rect x="727" y="645" width="18" height="19" fill="#00daff"/>
<rect x="745" y="645" width="19" height="19" fill="#00d7ff"/>
<rect x="764" y="645" width="18" height="19" fill="#00d4ff"/>
<rect x="782" y="645" width="18" height="19" fill="#00d0ff"/>
<rect x="0" y="664" width="18" height="18" fill="#00a0ff"/>
<rect x="18" y="664" width="18" height="18" fill="#00a5ff"/>
<rect x="36" y="664" width="19" height="18" fill="#00acff"/>
<rect x="55" y="664" width="18" height="18" fill="#00b0ff"/>
<rect x="73" y="664" width="18" height="18" fill="#00b4ff"/>
<rect x="91" y="664" width="18" height="18" fill="#00b9ff"/>
<rect x="109" y="664" width="18" height="18" fill="#00bcff"/>
<rect x="127" y="664" width="18" height="18" fill="#00beff"/>
<rect x="145" y="664" width="19" height="18" fill="#00beff"/>
<rect x="164" y="664" width="18" height="18" fill="#00beff"/>
<rect x="182" y="664" width="18" height="18" fill="#00beff"/>
<rect x="200" y="664" width="18" height="18" fill="#00bcff"/>
<rect x="218" y="664" width="18" height="18" fill="#00bcff"/>
<rect x="236" y="664" width="19" height="18" fill="#00c3ff"/>
<rect x="255" y="664" width="18" height="18" fill="#00c6ff"/>
<rect x="273" y="664" width="18" height="18" fill="#00c6ff"/>
<rect x="291" y="664" width="18" height="18" fill="#00c3ff"/>
<rect x="309" y="664" width="18" height="18" fill="#00beff"/>
<rect x="327" y="664" width="18" height="18" fill="#00b9ff"/>
<rect x="345" y="664" width="19" height="18" fill="#00b6ff"/>
<rect x="364" y="664" width="18" height="18" fill="#00b9ff"/>
<rect x="382" y="664" width="18" height="18" fill="#00acff"/>
<rect x="400" y="664" width="18" height="18" fill="#00a0ff"/>
<rect x="418" y="664" width="18" height="18" fill="#00b4ff"/>
<rect x="436" y="664" width="19" height="18" fill="#00e4ff"/>
<rect x="455" y="664" width="18" height="18" fill="#00fcff"/>
<rect x="473" y="664" width="18" height="18" fill="#00fef2"/>
<rect x="491" y="664" width="18" height="18" fill="#00feeb"/>
<rect x="509" y="664" width="18" height="18" fill="#00fde1"/>
<rect x="527" y="664" width="18" height="18" fill="#00fde1"/>
<rect x="545" y="664" width="19" height="18" fill="#00fee6"/>
<rect x="564" y="664" width="18" height="18" fill="#00feeb"/>
<rect x="582" y="664" width="18" height="18" fill="#00fef5"/>
<rect x="600" y="664" width="18" height="18" fill="#00f8ff"/>
<rect x="618" y="664" width="18" height="18" fill="#00f2ff"/>
<rect x="636" y="664" width="19" height="18" fill="#00f5ff"/>
<rect x="655" y="664" width="18" height="18" fill="#00fcff"/>
<rect x="673" y="664" width="18" height="18" fill="#00faff"/>
<rect x="691" y="664" width="18" height="18" fill="#00f8ff"/>
<rect x="709" y="664" width="18" height="18" fill="#00f8ff"/>
<rect x="727" y="664" width="18" height="18" fill="#00f5ff"/>
<rect x="745" y="664" width="19" height="18" fill="#00f2ff"/>
<rect x="764" y="664" width="18" height="18" fill="#00f0ff"/>
<rect x="782" y="664" width="18" height="18" fill="#00ebff"/>
<rect x="0" y="682" width="18" height="18" fill="#0096ff"/>
<rect x="18" y="682" width="18" height="18" fill="#0098ff"/>
<rect x="36" y="682" width="19" height="18" fill="#009bff"/>
<rect x="55" y="682" width="18" height="18" fill="#009eff"/>
<rect x="73" y="682" width="18" height="18" fill="#00a0ff"/>
<rect x="91" y="682" width="18" height="18" fill="#00a5ff"/>
<rect x="109" y="682" width="18" height="18" fill="#00a8ff"/>
<rect x="127" y="682" width="18" height="18" fill="#00aaff"/>
<rect x="145" y="682" width="19" height="18" fill="#00acff"/>
<rect x="164" y="682" width="18" height="18" fill="#00b2ff"/>
<rect x="182" y="682" width="18" height="18" fill="#00b9ff"/>
<rect x="200" y="682" width="18" height="18" fill="#00c3ff"/>
<rect x="218" y="682" width="18" height="18" fill="#00c8ff"/>
<rect x="236" y="682" width="19" height="18" fill="#00d7ff"/>
<rect x="255" y="682" width="18" height="18" fill="#00deff"/>
<rect x="273" y="682" width="18" height="18" fill="#00e1ff"/>
<rect x="291" y="682" width="18" height="18" fill="#00dcff"/>
<rect x="309" y="682" width="18" height="18" fill="#00d4ff"/>
<rect x="327" y="682" width="18" height="18" fill="#00cdff"/>
<rect x="345" y="682" width="19" height="18" fill="#00c3ff"/>
<rect x="364" y="682" width="18" height="18" fill="#00c3ff"/>
<rect x="382" y="682" width="18" height="18" fill="#00b4ff"/>
<rect x="400" y="682" width="18" height="18" fill="#009bff"/>
<rect x="418" y="682" width="18" height="18" fill="#00acff"/>
<rect x="436" y="682" width="19" height="18" fill="#00e6ff"/>
<rect x="455" y="682" width="18" height="18" fill="#00ffff"/>
<rect x="473" y="682" width="18" height="18" fill="#00fde1"/>
<rect x="491" y="682" width="18" height="18" fill="#00fdd2"/>
<rect x="509" y="682" width="18" height="18" fill="#00fcc8"/>
<rect x="527" y="682" width="18" height="18" fill="#00fcc8"/>
<rect x="545" y="682" width="19" height="18" fill="#00fcca"/>
<rect x="564" y="682" width="18" height="18" fill="#00fcce"/>
<rect x="582" y="682" width="18" height="18" fill="#00fdd7"/>
<rect x="600" y="682" width="18" height="18" fill="#00fee6"/>
<rect x="618" y="682" width="18" height="18" fill="#00feeb"/>
<rect x="636" y="682" width="19" height="18" fill="#00fee6"/>
<rect x="655" y="682" width="18" height="18" fill="#00fde1"/>
<rect x="673" y="682" width="18" height="18" fill="#00fee4"/>
<rect x="691" y="682" width="18" height="18" fill="#00fee8"/>
<rect x="709" y="682" width="18" height="18" fill="#00feeb"/>
<rect x="727" y="682" width="18" height="18" fill="#00feeb"/>
<rect x="745" y="682" width="19" height="18" fill="#00feee"/>
<rect x="764" y="682" width="18" height="18" fill="#00fef0"/>
<rect x="782" y="682" width="18" height="18" fill="#00fef2"/>
<rect x="0" y="700" width="18" height="18" fill="#0096ff"/>
<rect x="18" y="700" width="18" height="18" fill="#009bff"/>
<rect x="36" y="700" width="19" height="18" fill="#00a0ff"/>
<rect x="55" y="700" width="18" height="18" fill="#00a2ff"/>
<rect x="73" y="700" width="18" height="18" fill="#00a5ff"/>
<rect x="91" y="700" width="18" height="18" fill="#00aaff"/>
<rect x="109" y="700" width="18" height="18" fill="#00acff"/>
<rect x="127" y="700" width="18" height="18" fill="#00acff"/>
<rect x="145" y="700" width="19" height="18" fill="#00a8ff"/>
<rect x="164" y="700" width="18" height="18" fill="#00a5ff"/>
<rect x="182" y="700" width="18" height="18" fill="#00a5ff"/>
<rect x="200" y="700" width="18" height="18" fill="#00afff"/>
<rect x="218" y="700" width="18" height="18" fill="#00beff"/>
<rect x="236" y="700" width="19" height="18" fill="#00d4ff"/>
<rect x="255" y="700" width="18" height="18" fill="#00e4ff"/>
<rect x="273" y="700" width="18" height="18" fill="#00eeff"/>
<rect x="291" y="700" width="18" height="18" fill="#00f0ff"/>
<rect x="309" y="700" width="18" height="18" fill="#00ecff"/>
<rect x="327" y="700" width="18" height="18" fill="#00e4ff"/>
<rect x="345" y="700" width="19" height="18" fill="#00d7ff"/>
<rect x="364" y="700" width="18" height="18" fill="#00c8ff"/>
<rect x="382" y="700" width="18" height="18" fill="#00b4ff"/>
<rect x="400" y="700" width="18" height="18" fill="#009eff"/>
<rect x="418" y="700" width="18" height="18" fill="#00afff"/>
<rect x="436" y="700" width="19" height="18" fill="#00e8ff"/>
<rect x="455" y="700" width="18" height="18" fill="#00fffc"/>
<rect x="473" y="700" width="18" height="18" fill="#00fdd2"/>
<rect x="491" y="700" width="18" height="18" fill="#00fcc3"/>
<rect x="509" y="700" width="18" height="18" fill="#00fbb4"/>
<rect x="527" y="700" width="18" height="18" fill="#00fbb4"/>
<rect x="545" y="700" width="19" height="18" fill="#00fbb6"/>
<rect x="564" y="700" width="18" height="18" fill="#00fbb8"/>
<rect x="582" y="700" width="18" height="18" fill="#00fcbc"/>
<rect x="600" y="700" width="18" height="18" fill="#00fcc3"/>
<rect x="618" y="700" width="18" height="18" fill="#00fcc3"/>
<rect x="636" y="700" width="19" height="18" fill="#00fcbe"/>
<rect x="655" y="700" width="18" height="18" fill="#00fbb9"/>
<rect x="673" y="700" width="18" height="18" fill="#00fcbc"/>
<rect x="691" y="700" width="18" height="18" fill="#00fcc0"/>
<rect x="709" y="700" width="18" height="18" fill="#00fcc3"/>
<rect x="727" y="700" width="18" height="18" fill="#00fcc6"/>
<rect x="745" y="700" width="19" height="18" fill="#00fcca"/>
<rect x="764" y="700" width="18" height="18" fill="#00fdcf"/>
<rect x="782" y="700" width="18" height="18" fill="#00fdd4"/>
<rect x="0" y="718" width="18" height="18" fill="#00b6ff"/>
<rect x="18" y="718" width="18" height="18" fill="#00baff"/>
<rect x="36" y="718" width="19" height="18" fill="#00beff"/>
<rect x="55" y="718" width="18" height="18" fill="#00c1ff"/>
<rect x="73" y="718" width="18" height="18" fill="#00c3ff"/>
<rect x="91" y="718" width="18" height="18" fill="#00c8ff"/>
<rect x="109" y="718" width="18" height="18" fill="#00caff"/>
<rect x="127" y="718" width="18" height="18" fill="#00c8ff"/>
<rect x="145" y="718" width="19" height="18" fill="#00beff"/>
<rect x="164" y="718" width="18" height="18" fill="#00afff"/>
<rect x="182" y="718" width="18" height="18" fill="#00a5ff"/>
<rect x="200" y="718" width="18" height="18" fill="#00a8ff"/>
<rect x="218" y="718" width="18" height="18" fill="#00b4ff"/>
<rect x="236" y="718" width="19" height="18" fill="#00c8ff"/>
<rect x="255" y="718" width="18" height="18" fill="#00dcff"/>
<rect x="273" y="718" width="18" height="18" fill="#00ebff"/>
<rect x="291" y="718" width="18" height="18" fill="#00f5ff"/>
<rect x="309" y="718" width="18" height="18" fill="#00f6ff"/>
<rect x="327" y="718" width="18" height="18" fill="#00f2ff"/>
<rect x="345" y="718" width="19" height="18" fill="#00e8ff"/>
<rect x="364" y="718" width="18" height="18" fill="#00d7ff"/>
<rect x="382" y="718" width="18" height="18" fill="#00c8ff"/>
<rect x="400" y="718" width="18" height="18" fill="#00b2ff"/>
<rect x="418" y="718" width="18" height="18" fill="#00bcff"/>
<rect x="436" y="718" width="19" height="18" fill="#00ebff"/>
<rect x="455" y="718" width="18" height="18" fill="#00fffc"/>
<rect x="473" y="718" width="18" height="18" fill="#00fccd"/>
<rect x="491" y="718" width="18" height="18" fill="#00fbb9"/>
<rect x="509" y="718" width="18" height="18" fill="#00faa0"/>
<rect x="527" y="718" width="18" height="18" fill="#00faa0"/>
<rect x="545" y="718" width="19" height="18" fill="#00faa0"/>
<rect x="564" y="718" width="18" height="18" fill="#00faa0"/>
<rect x="582" y="718" width="18" height="18" fill="#00faa2"/>
<rect x="600" y="718" width="18" height="18" fill="#00faa4"/>
<rect x="618" y="718" width="18" height="18" fill="#00faa0"/>
<rect x="636" y="718" width="19" height="18" fill="#00fa9a"/>
<rect x="655" y="718" width="18" height="18" fill="#00fa96"/>
<rect x="673" y="718" width="18" height="18" fill="#00fa98"/>
<rect x="691" y="718" width="18" height="18" fill="#00fa9c"/>
<rect x="709" y="718" width="18" height="18" fill="#00faa0"/>
<rect x="727" y="718" width="18" height="18" fill="#00faa4"/>
<rect x="745" y="718" width="19" height="18" fill="#00fba8"/>
<rect x="764" y="718" width="18" height="18" fill="#00fbac"/>
<rect x="782" y="718" width="18" height="18" fill="#00fbb1"/>
<rect x="0" y="736" width="18" height="18" fill="#00deff"/>
<rect x="18" y="736" width="18" height="18" fill="#00e1ff"/>
<rect x="36" y="736" width="19" height="18" fill="#00e2ff"/>
<rect x="55" y="736" width="18" height="18" fill="#00e3ff"/>
<rect x="73" y="736" width="18" height="18" fill="#00e4ff"/>
<rect x="91" y="736" width="18" height="18" fill="#00e8ff"/>
<rect x="109" y="736" width="18" height="18" fill="#00e8ff"/>
<rect x="127" y="736" width="18" height="18" fill="#00e4ff"/>
<rect x="145" y="736" width="19" height="18" fill="#00d7ff"/>
<rect x="164" y="736" width="18" height="18" fill="#00c0ff"/>
<rect x="182" y="736" width="18" height="18" fill="#00afff"/>
<rect x="200" y="736" width="18" height="18" fill="#00acff"/>
<rect x="218" y="736" width="18" height="18" fill="#00aaff"/>
<rect x="236" y="736" width="19" height="18" fill="#00b4ff"/>
<rect x="255" y="736" width="18" height="18" fill="#00c3ff"/>
<rect x="273" y="736" width="18" height="18" fill="#00d2ff"/>
<rect x="291" y="736" width="18" height="18" fill="#00d7ff"/>
<rect x="309" y="736" width="18" height="18" fill="#00d9ff"/>
<rect x="327" y="736" width="18" height="18" fill="#00daff"/>
<rect x="345" y="736" width="19" height="18" fill="#00e1ff"/>
<rect x="364" y="736" width="18" height="18" fill="#00deff"/>
<rect x="382" y="736" width="18" height="18" fill="#00d7ff"/>
<rect x="400" y="736" width="18" height="18" fill="#00cdff"/>
<rect x="418" y="736" width="18" height="18" fill="#00d2ff"/>
<rect x="436" y="736" width="19" height="18" fill="#00e8ff"/>
<rect x="455" y="736" width="18" height="18" fill="#00faff"/>
<rect x="473" y="736" width="18" height="18" fill="#00fccd"/>
<rect x="491" y="736" width="18" height="18" fill="#00fbb4"/>
<rect x="509" y="736" width="18" height="18" fill="#00f991"/>
<rect x="527" y="736" width="18" height="18" fill="#00f98f"/>
<rect x="545" y="736" width="19" height="18" fill="#00f98c"/>
<rect x="564" y="736" width="18" height="18" fill="#00f989"/>
<rect x="582" y="736" width="18" height="18" fill="#00f986"/>
<rect x="600" y="736" width="18" height="18" fill="#00f982"/>
<rect x="618" y="736" width="18" height="18" fill="#00f87d"/>
<rect x="636" y="736" width="19" height="18" fill="#00f87a"/>
<rect x="655" y="736" width="18" height="18" fill="#00f878"/>
<rect x="673" y="736" width="18" height="18" fill="#00f87a"/>
<rect x="691" y="736" width="18" height="18" fill="#00f87e"/>
<rect x="709" y="736" width="18" height="18" fill="#00f982"/>
<rect x="727" y="736" width="18" height="18" fill="#00f986"/>
<rect x="745" y="736" width="19" height="18" fill="#00f98c"/>
<rect x="764" y="736" width="18" height="18" fill="#00f992"/>
<rect x="782" y="736" width="18" height="18" fill="#00fa98"/>
<rect x="0" y="754" width="18" height="18" fill="#00faff"/>
<rect x="18" y="754" width="18" height="18" fill="#00fff8"/>
<rect x="36" y="754" width="19" height="18" fill="#00fee6"/>
<rect x="55" y="754" width="18" height="18" fill="#00fdda"/>
<rect x="73" y="754" width="18" height="18" fill="#00fdd2"/>
<rect x="91" y="754" width="18" height="18" fill="#00fccd"/>
<rect x="109" y="754" width="18" height="18" fill="#00fccd"/>
<rect x="127" y="754" width="18" height="18" fill="#00fdd7"/>
<rect x="145" y="754" width="19" height="18" fill="#00ffff"/>
<rect x="164" y="754" width="18" height="18" fill="#00cdff"/>
<rect x="182" y="754" width="18" height="18" fill="#00b6ff"/>
<rect x="200" y="754" width="18" height="18" fill="#00b4ff"/>
<rect x="218" y="754" width="18" height="18" fill="#00acff"/>
<rect x="236" y="754" width="19" height="18" fill="#00afff"/>
<rect x="255" y="754" width="18" height="18" fill="#00b9ff"/>
<rect x="273" y="754" width="18" height="18" fill="#00c3ff"/>
<rect x="291" y="754" width="18" height="18" fill="#00cbff"/>
<rect x="309" y="754" width="18" height="18" fill="#00cfff"/>
<rect x="327" y="754" width="18" height="18" fill="#00d4ff"/>
<rect x="345" y="754" width="19" height="18" fill="#00e4ff"/>
<rect x="364" y="754" width="18" height="18" fill="#00e6ff"/>
<rect x="382" y="754" width="18" height="18" fill="#00e6ff"/>
<rect x="400" y="754" width="18" height="18" fill="#00e4ff"/>
<rect x="418" y="754" width="18" height="18" fill="#00e8ff"/>
<rect x="436" y="754" width="19" height="18" fill="#00f8ff"/>
<rect x="455" y="754" width="18" height="18" fill="#00fde1"/>
<rect x="473" y="754" width="18" height="18" fill="#00fcbe"/>
<rect x="491" y="754" width="18" height="18" fill="#00faa5"/>
<rect x="509" y="754" width="18" height="18" fill="#00f982"/>
<rect x="527" y="754" width="18" height="18" fill="#00f980"/>
<rect x="545" y="754" width="19" height="18" fill="#00f87c"/>
<rect x="564" y="754" width="18" height="18" fill="#00f878"/>
<rect x="582" y="754" width="18" height="18" fill="#00f873"/>
<rect x="600" y="754" width="18" height="18" fill="#00f76c"/>
<rect x="618" y="754" width="18" height="18" fill="#00f766"/>
<rect x="636" y="754" width="19" height="18" fill="#00f764"/>
<rect x="655" y="754" width="18" height="18" fill="#00f764"/>
<rect x="673" y="754" width="18" height="18" fill="#00f764"/>
<rect x="691" y="754" width="18" height="18" fill="#00f766"/>
<rect x="709" y="754" width="18" height="18" fill="#00f769"/>
<rect x="727" y="754" width="18" height="18" fill="#00f76c"/>
<rect x="745" y="754" width="19" height="18" fill="#00f870"/>
<rect x="764" y="754" width="18" height="18" fill="#00f876"/>
<rect x="782" y="754" width="18" height="18" fill="#00f87d"/>
</g>
<clipPath id="mc"><rect x="0" y="28" width="800" height="744"/></clipPath>
<path clip-path="url(#mc)" d="M718.2 36.3L711 48.8M711 48.8L716.8 45.5M711 48.8L710.9 42.1M772.7 36.3L767 52.1M767 52.1L772.7 47.5M767 52.1L765.6 44.9M790.9 36.3L784.7 55.5M784.7 55.5L791 50M784.7 55.5L782.8 47.3M700 54.5L692.2 66.1M692.2 66.1L698.1 63.3M692.2 66.1L692.5 59.6M718.2 54.5L711.4 66.2M711.4 66.2L717 63.1M711.4 66.2L711.3 59.9M754.5 54.5L748.4 68.9M748.4 68.9L754.1 64.8M748.4 68.9L747.5 61.9M772.7 54.5L766.4 71.9M766.4 71.9L772.5 66.9M766.4 71.9L764.9 64.2M790.9 54.5L784.2 75M784.2 75L790.9 69.3M784.2 75L782.3 66.5M681.8 72.7L672.9 85M672.9 85L679.2 82.3M672.9 85L673.5 78.1M700 72.7L691 86M691 86L697.5 83M691 86L691.4 78.9M718.2 72.7L711 85.1M711 85.1L716.8 81.9M711 85.1L710.9 78.5M736.4 72.7L729.3 87.1M729.3 87.1L735.3 83.2M729.3 87.1L728.7 80M754.5 72.7L747.5 89.2M747.5 89.2L753.8 84.6M747.5 89.2L746.5 81.6M772.7 72.7L766 91.1M766 91.1L772.4 85.9M766 91.1L764.5 83M790.9 72.7L784.2 93.4M784.2 93.4L790.8 87.6M784.2 93.4L782.2 84.8M663.6 90.8L657.8 98.3M657.8 98.3L662.6 96.5M657.8 98.3L658.4 93.2M681.8 90.8L672.6 103.5M672.6 103.5L679.1 100.7M672.6 103.5L673.2 96.5M700 90.8L690.8 104.5M690.8 104.5L697.4 101.4M690.8 104.5L691.2 97.2M718.2 90.8L709.8 105.4M709.8 105.4L716.2 101.9M709.8 105.4L709.6 98.1M736.4 90.8L728.8 106.4M728.8 106.4L735.1 102.3M728.8 106.4L728.1 98.9M754.5 90.8L747.3 107.9M747.3 107.9L753.7 103.3M747.3 107.9L746.2 100.1M772.7 90.8L766 109.4M766 109.4L772.4 104.2M766 109.4L764.4 101.3M790.9 90.8L784.2 111.5M784.2 111.5L790.9 105.7M784.2 111.5L782.2 102.9M681.8 109L674.6 119M674.6 119L680.1 116.7M674.6 119L675.1 113M700 109L690.6 123M690.6 123L697.2 119.9M690.6 123L691 115.6M718.2 109L709.5 124M709.5 124L716.1 120.4M709.5 124L709.4 116.5M736.4 109L728.6 124.9M728.6 124.9L735 120.8M728.6 124.9L727.9 117.3M754.5 109L747.3 126.1M747.3 126.1L753.7 121.4M747.3 126.1L746.2 118.3M772.7 109L766 127.6M766 127.6L772.4 122.4M766 127.6L764.4 119.5M790.9 109L784.3 129.2M784.3 129.2L790.9 123.5M784.3 129.2L782.4 120.8M663.6 127.2L654.3 139.2M654.3 139.2L660.7 136.7M654.3 139.2L655.1 132.4M681.8 127.2L672.2 140.5M672.2 140.5L678.8 137.7M672.2 140.5L672.8 133.3M700 127.2L690.4 141.4M690.4 141.4L697.2 138.3M690.4 141.4L690.8 134M718.2 127.2L709.5 142.3M709.5 142.3L716.1 138.6M709.5 142.3L709.3 134.8M736.4 127.2L728.6 143.1M728.6 143.1L735 139M728.6 143.1L727.9 135.5M754.5 127.2L747.4 144M747.4 144L753.7 139.4M747.4 144L746.3 136.3M772.7 127.2L766 145.6M766 145.6L772.4 140.5M766 145.6L764.5 137.6M790.9 127.2L784.4 147.1M784.4 147.1L790.9 141.5M784.4 147.1L782.5 138.8M645.5 145.4L637.1 156.1M637.1 156.1L643 153.8M637.1 156.1L637.8 149.8M663.6 145.4L654.3 158.1M654.3 158.1L660.8 155.4M654.3 158.1L654.9 151.1M681.8 145.4L672.5 158.7M672.5 158.7L679 155.8M672.5 158.7L673 151.6M700 145.4L691.2 159.8M691.2 159.8L697.7 156.4M691.2 159.8L691.3 152.4M718.2 145.4L710 160.8M710 160.8L716.5 156.9M710 160.8L709.6 153.3M736.4 145.4L728.9 161.4M728.9 161.4L735.2 157.2M728.9 161.4L728.1 153.9M754.5 145.4L747.7 162.3M747.7 162.3L753.9 157.6M747.7 162.3L746.5 154.6M772.7 145.4L766 163.8M766 163.8L772.4 158.6M766 163.8L764.5 155.8M790.9 145.4L784.5 165.1M784.5 165.1L790.9 159.5M784.5 165.1L782.6 156.8M645.5 163.6L636.9 174.5M636.9 174.5L642.9 172.2M636.9 174.5L637.7 168.1M663.6 163.6L653.9 176.8M653.9 176.8L660.5 174M653.9 176.8L654.6 169.6M681.8 163.6L672.2 177.4M672.2 177.4L678.9 174.4M672.2 177.4L672.7 170M700 163.6L691 178.3M691 178.3L697.6 174.8M691 178.3L691 170.8M718.2 163.6L710 179M710 179L716.4 175.1M710 179L709.6 171.5M736.4 163.6L729 179.4M729 179.4L735.2 175.2M729 179.4L728.2 171.9M754.5 163.6L747.8 180.3M747.8 180.3L753.9 175.7M747.8 180.3L746.6 172.7M772.7 163.6L766 182M766 182L772.4 176.8M766 182L764.5 173.9M790.9 163.6L784.6 183.1M784.6 183.1L790.9 177.6M784.6 183.1L782.7 174.9M627.3 181.8L617.8 195.2M617.8 195.2L624.5 192.3M617.8 195.2L618.4 188M645.5 181.8L634.6 195.7M634.6 195.7L641.7 193M634.6 195.7L635.5 188.1M663.6 181.8L653.1 196M653.1 196L660.1 193.1M653.1 196L653.8 188.4M681.8 181.8L671.5 196.4M671.5 196.4L678.6 193.3M671.5 196.4L672.1 188.8M700 181.8L690.6 197M690.6 197L697.4 193.5M690.6 197L690.7 189.4M718.2 181.8L709.9 197.4M709.9 197.4L716.4 193.5M709.9 197.4L709.5 189.8M736.4 181.8L729.2 197M729.2 197L735.3 192.9M729.2 197L728.5 189.7M754.5 181.8L748 197.9M748 197.9L754 193.4M748 197.9L746.8 190.5M772.7 181.8L766.1 199.9M766.1 199.9L772.4 194.8M766.1 199.9L764.6 192M790.9 181.8L784.6 201.1M784.6 201.1L791 195.6M784.6 201.1L782.7 192.9M609.1 199.9L600.2 214.2M600.2 214.2L606.7 210.9M600.2 214.2L600.3 206.9M627.3 199.9L617.6 215.7M617.6 215.7L624.5 212.1M617.6 215.7L617.7 207.8M645.5 199.9L635.4 216.4M635.4 216.4L642.6 212.7M635.4 216.4L635.5 208.3M663.6 199.9L654.1 215.8M654.1 215.8L661 212.1M654.1 215.8L654.1 207.9M681.8 199.9L672.7 216.3M672.7 216.3L679.6 212.4M672.7 216.3L672.5 208.4M700 199.9L691.6 216.4M691.6 216.4L698.3 212.3M691.6 216.4L691.1 208.6M718.2 199.9L710.6 216.2M710.6 216.2L717 211.9M710.6 216.2L709.8 208.5M736.4 199.9L729.8 215.3M729.8 215.3L735.8 211M729.8 215.3L728.8 208.1M754.5 199.9L748.5 215.7M748.5 215.7L754.3 211.1M748.5 215.7L747.2 208.4M772.7 199.9L766.6 217.6M766.6 217.6L772.7 212.6M766.6 217.6L765 209.9M790.9 199.9L785 219.2M785 219.2L791.2 213.6M785 219.2L783 211.1M590.9 218.1L583.2 232.6M583.2 232.6L589.4 228.9M583.2 232.6L582.8 225.4M609.1 218.1L600.1 235M600.1 235L607 230.8M600.1 235L599.7 226.9M627.3 218.1L618.1 235.6M618.1 235.6L625.1 231.3M618.1 235.6L617.6 227.4M645.5 218.1L636.3 235.8M636.3 235.8L643.3 231.4M636.3 235.8L635.8 227.5M663.6 218.1L654.6 235.2M654.6 235.2L661.5 231M654.6 235.2L654.1 227.1M681.8 218.1L673.2 235.4M673.2 235.4L680 231.1M673.2 235.4L672.6 227.3M700 218.1L691.9 235.4M691.9 235.4L698.6 230.9M691.9 235.4L691.1 227.4M718.2 218.1L711 235.1M711 235.1L717.3 230.5M711 235.1L709.9 227.4M736.4 218.1L730.2 234.2M730.2 234.2L736.1 229.6M730.2 234.2L728.9 226.9M754.5 218.1L749 234M749 234L754.6 229.3M749 234L747.5 226.8M772.7 218.1L767.2 235.5M767.2 235.5L773 230.4M767.2 235.5L765.4 227.9M790.9 218.1L785.5 237.1M785.5 237.1L791.5 231.5M785.5 237.1L783.3 229.1M572.7 236.3L568.1 249.1M568.1 249.1L573 245M568.1 249.1L566.9 242.8M590.9 236.3L584.4 252.3M584.4 252.3L590.4 247.8M584.4 252.3L583.3 244.9M609.1 236.3L601.5 254.1M601.5 254.1L608.1 249.3M601.5 254.1L600.4 246.1M627.3 236.3L619.2 254.3M619.2 254.3L626 249.6M619.2 254.3L618.2 246.2M645.5 236.3L638.3 254.7M638.3 254.7L644.8 249.7M638.3 254.7L636.9 246.6M663.6 236.3L656.8 254.7M656.8 254.7L663.2 249.5M656.8 254.7L655.3 246.6M681.8 236.3L674.7 254.7M674.7 254.7L681.2 249.7M674.7 254.7L673.3 246.6M700 236.3L693.4 254.7M693.4 254.7L699.7 249.6M693.4 254.7L691.8 246.7M718.2 236.3L712.2 254.4M712.2 254.4L718.3 249.2M712.2 254.4L710.4 246.6M736.4 236.3L731.1 253.6M731.1 253.6L736.8 248.4M731.1 253.6L729.2 246.1M754.5 236.3L749.7 253M749.7 253L755.2 247.9M749.7 253L747.8 245.8M772.7 236.3L768 253.8M768 253.8L773.6 248.4M768 253.8L765.9 246.3M790.9 236.3L786.2 255M786.2 255L792 249.3M786.2 255L783.9 247.3M554.5 254.5L554.1 262.7M554.1 262.7L556.8 258.7M554.1 262.7L551.9 258.5M572.7 254.5L568 268.9M568 268.9L573.2 264.4M568 268.9L566.5 262.3M590.9 254.5L584.9 270.8M584.9 270.8L590.7 266.1M584.9 270.8L583.5 263.4M609.1 254.5L602.3 271.9M602.3 271.9L608.5 267.1M602.3 271.9L600.9 264.1M627.3 254.5L621.1 272.5M621.1 272.5L627.3 267.4M621.1 272.5L619.4 264.7M645.5 254.5L641.4 273.4M641.4 273.4L647 267.5M641.4 273.4L638.8 265.7M663.6 254.5L658.6 273.4M658.6 273.4L664.4 267.7M658.6 273.4L656.3 265.5M681.8 254.5L676.7 273.7M676.7 273.7L682.6 267.9M676.7 273.7L674.4 265.7M700 254.5L695 273.7M695 273.7L700.9 267.9M695 273.7L692.7 265.8M718.2 254.5L713.7 273.7M713.7 273.7L719.4 267.8M713.7 273.7L711.2 265.9M736.4 254.5L732.3 273.3M732.3 273.3L737.8 267.5M732.3 273.3L729.7 265.7M754.5 254.5L750.6 272.8M750.6 272.8L756 267M750.6 272.8L748.1 265.3M772.7 254.5L769 272.8M769 272.8L774.4 267M769 272.8L766.4 265.4M790.9 254.5L787.6 273.3M787.6 273.3L792.9 267.2M787.6 273.3L784.7 265.8M209.1 272.7L206.7 279.3M206.7 279.3L210.1 276.6M206.7 279.3L205.8 275M554.5 272.7L552.9 285.7M552.9 285.7L556.8 280.8M552.9 285.7L550.4 280M572.7 272.7L567.9 287.5M567.9 287.5L573.2 282.9M567.9 287.5L566.3 280.7M590.9 272.7L585.4 289M585.4 289L591.1 284.2M585.4 289L583.8 281.7M609.1 272.7L603.7 289.5M603.7 289.5L609.4 284.5M603.7 289.5L601.9 282.1M627.3 272.7L623.1 290.2M623.1 290.2L628.5 284.7M623.1 290.2L620.7 282.9M645.5 272.7L642.5 291.2M642.5 291.2L647.6 285.1M642.5 291.2L639.6 283.8M663.6 272.7L660.7 291.5M660.7 291.5L665.8 285.4M660.7 291.5L657.6 284.1M681.8 272.7L678.7 292.3M678.7 292.3L684 286M678.7 292.3L675.6 284.6M700 272.7L696.9 292.6M696.9 292.6L702.2 286.2M696.9 292.6L693.7 284.8M718.2 272.7L715.3 292.6M715.3 292.6L720.6 286.1M715.3 292.6L712.1 284.9M736.4 272.7L733.8 292.2M733.8 292.2L738.9 285.8M733.8 292.2L730.5 284.7M754.5 272.7L752.1 291.6M752.1 291.6L757.1 285.3M752.1 291.6L748.9 284.2M772.7 272.7L770.4 291.2M770.4 291.2L775.3 285M770.4 291.2L767.2 284M790.9 272.7L788.6 291.4M788.6 291.4L793.5 285.2M788.6 291.4L785.4 284.2M209.1 290.8L206.6 297.7M206.6 297.7L210.1 294.9M206.6 297.7L205.7 293.3M227.3 290.8L227.3 297M227.3 297L229.2 293.7M227.3 297L225.3 293.7M245.5 290.8L244.9 297M244.9 297L247.2 293.9M244.9 297L243.2 293.5M263.6 290.8L263.6 296.4M263.6 296.4L265.4 293.5M263.6 296.4L261.9 293.5M281.8 290.8L282.6 296.1M282.6 296.1L283.9 293.1M282.6 296.1L280.5 293.6M536.4 290.8L536.4 302.3M536.4 302.3L539.3 297.4M536.4 302.3L533.4 297.4M554.5 290.8L550.8 304.7M550.8 304.7L555.6 300.1M550.8 304.7L549 298.4M572.7 290.8L568.2 306.6M568.2 306.6L573.5 301.7M568.2 306.6L566.3 299.7M590.9 290.8L586 307M586 307L591.4 302M586 307L584.2 299.8M609.1 290.8L605.6 306.1M605.6 306.1L610.4 301M605.6 306.1L603.4 299.4M627.3 290.8L624.8 306.7M624.8 306.7L629.3 301.2M624.8 306.7L622.1 300.1M645.5 290.8L644 307.6M644 307.6L648.3 301.7M644 307.6L640.8 301M663.6 290.8L662.2 308.5M662.2 308.5L666.7 302.3M662.2 308.5L658.9 301.7M681.8 290.8L680.5 309.9M680.5 309.9L685.1 303.3M680.5 309.9L676.8 302.7M700 290.8L698.8 310.7M698.8 310.7L703.5 303.9M698.8 310.7L695 303.4M718.2 290.8L717.1 311M717.1 311L721.8 304M717.1 311L713.2 303.6M736.4 290.8L735.5 310.6M735.5 310.6L740 303.7M735.5 310.6L731.6 303.3M754.5 290.8L753.9 309.9M753.9 309.9L758.2 303.2M753.9 309.9L750 302.9M772.7 290.8L772.2 309.6M772.2 309.6L776.5 302.9M772.2 309.6L768.3 302.7M790.9 290.8L790.6 309.8M790.6 309.8L794.8 303M790.6 309.8L786.6 302.9M227.3 309L229.8 313.5M229.8 313.5L229.9 310.3M229.8 313.5L227.1 311.9M245.5 309L248.8 312.4M248.8 312.4L248.1 309.5M248.8 312.4L246 311.7M263.6 309L266.7 312M266.7 312L266 309.5M266.7 312L264.1 311.4M281.8 309L284.4 311.6M284.4 311.6L283.9 309.4M284.4 311.6L282.2 311.1M300 309L300 315.2M300 315.2L302 311.9M300 315.2L298 311.9M318.2 309L316.2 316.6M316.2 316.6L319.5 313.3M316.2 316.6L314.9 312.1M500 309L500 319M500 319L502.7 314.5M500 319L497.3 314.5M518.2 309L518.2 320.5M518.2 320.5L521.1 315.6M518.2 320.5L515.2 315.6M536.4 309L534.1 322M534.1 322L538.2 317.3M534.1 322L531.8 316.1M554.5 309L550.5 324.1M550.5 324.1L555.5 319.3M550.5 324.1L548.6 317.4M572.7 309L568.1 325.7M568.1 325.7L573.5 320.5M568.1 325.7L566.1 318.5M590.9 309L586.2 325.5M586.2 325.5L591.6 320.4M586.2 325.5L584.3 318.3M609.1 309L606.3 323.4M606.3 323.4L610.8 318.4M606.3 323.4L604 317.1M627.3 309L625.7 323.6M625.7 323.6L629.8 318.2M625.7 323.6L622.9 317.5M645.5 309L645.2 324.2M645.2 324.2L648.8 318.4M645.2 324.2L641.8 318.3M663.6 309L663.5 325.1M663.5 325.1L667.2 319M663.5 325.1L659.9 318.9M681.8 309L681.8 326.7M681.8 326.7L685.7 320.2M681.8 326.7L677.9 320.2M700 309L700.2 328.1M700.2 328.1L704.2 321.2M700.2 328.1L696 321.3M718.2 309L718.5 328.6M718.5 328.6L722.6 321.5M718.5 328.6L714.2 321.7M736.4 309L737 328.4M737 328.4L741 321.3M737 328.4L732.6 321.6M754.5 309L755.5 327.9M755.5 327.9L759.3 320.9M755.5 327.9L751.1 321.3M772.7 309L774 327.7M774 327.7L777.6 320.7M774 327.7L769.5 321.2M790.9 309L792.6 327.9M792.6 327.9L796.1 320.7M792.6 327.9L787.9 321.4M263.6 327.2L265.6 330.6M265.6 330.6L265.7 328.2M265.6 330.6L263.5 329.4M281.8 327.2L282.8 329.9M282.8 329.9L283.1 328.2M282.8 329.9L281.4 328.8M300 327.2L300 331.7M300 331.7L301.4 329.3M300 331.7L298.6 329.3M318.2 327.2L318.2 333.8M318.2 333.8L320.3 330.3M318.2 333.8L316.1 330.3M336.4 327.2L336.4 335M336.4 335L338.8 331M336.4 335L334 331M354.5 327.2L354.5 335.4M354.5 335.4L357 331.3M354.5 335.4L352.1 331.3M372.7 327.2L372.7 337.9M372.7 337.9L375.6 333.2M372.7 337.9L369.9 333.2M390.9 327.2L390.9 337.7M390.9 337.7L393.7 333.1M390.9 337.7L388.1 333.1M409.1 327.2L409.1 336.2M409.1 336.2L411.7 332M409.1 336.2L406.5 332M427.3 327.2L427.3 332.3M427.3 332.3L428.9 329.6M427.3 332.3L425.6 329.6M445.5 327.2L447.8 331.3M447.8 331.3L447.9 328.4M447.8 331.3L445.3 329.9M463.6 327.2L468.1 332.6M468.1 332.6L467.5 328.3M468.1 332.6L464 331.2M481.8 327.2L489.2 336M489.2 336L488.3 330.3M489.2 336L483.8 334.1M500 327.2L500 341.6M500 341.6L503.4 335.9M500 341.6L496.6 335.9M518.2 327.2L517.4 341.6M517.4 341.6L521.1 336.1M517.4 341.6L514.3 335.7M536.4 327.2L533.7 342.2M533.7 342.2L538.2 337M533.7 342.2L531.3 335.8M554.5 327.2L550.3 343.1M550.3 343.1L555.5 338.1M550.3 343.1L548.3 336.1M572.7 327.2L568.1 344.3M568.1 344.3L573.6 339M568.1 344.3L566.1 337M590.9 327.2L586.4 344M586.4 344L591.8 338.8M586.4 344L584.3 336.8M609.1 327.2L606.8 341.6M606.8 341.6L611.1 336.5M606.8 341.6L604.3 335.4M627.3 327.2L626.5 341.3M626.5 341.3L630.2 335.9M626.5 341.3L623.5 335.6M645.5 327.2L646.2 341.6M646.2 341.6L649.3 335.7M646.2 341.6L642.5 336.1M663.6 327.2L664.5 342.1M664.5 342.1L667.7 336.1M664.5 342.1L660.7 336.5M681.8 327.2L683 343.6M683 343.6L686.2 337.2M683 343.6L678.8 337.7M700 327.2L701.4 345.1M701.4 345.1L704.8 338.2M701.4 345.1L696.9 338.8M718.2 327.2L719.8 345.9M719.8 345.9L723.3 338.8M719.8 345.9L715.2 339.5M736.4 327.2L738.5 346M738.5 346L741.8 338.7M738.5 346L733.6 339.7M754.5 327.2L757.2 345.8M757.2 345.8L760.2 338.5M757.2 345.8L752.2 339.6M772.7 327.2L775.8 345.7M775.8 345.7L778.7 338.3M775.8 345.7L770.7 339.7M790.9 327.2L794.6 346.2M794.6 346.2L797.4 338.6M794.6 346.2L789.2 340.1M300 345.4L298.7 348.9M298.7 348.9L300.5 347.4M298.7 348.9L298.3 346.6M318.2 345.4L315 348.6M315 348.6L317.7 347.9M315 348.6L315.7 345.9M336.4 345.4L332.9 348.9M332.9 348.9L335.8 348.1M332.9 348.9L333.6 345.9M354.5 345.4L350.5 349.5M350.5 349.5L353.9 348.6M350.5 349.5L351.3 346M372.7 345.4L369.8 353.5M369.8 353.5L373.6 350.4M369.8 353.5L368.8 348.7M390.9 345.4L390 355.6M390 355.6L393.2 351.3M390 355.6L387.7 350.8M409.1 345.4L407.8 352.7M407.8 352.7L410.8 349.3M407.8 352.7L406.2 348.5M427.3 345.4L421.3 348.2M421.3 348.2L425.4 348.6M421.3 348.2L423.6 344.8M445.5 345.4L439.6 348.1M439.6 348.1L443.6 348.5M439.6 348.1L441.9 344.8M463.6 345.4L460.4 348.6M460.4 348.6L463.2 347.9M460.4 348.6L461.1 345.9M481.8 345.4L481.8 351.5M481.8 351.5L483.8 348.3M481.8 351.5L479.9 348.3M500 345.4L499.6 357.7M499.6 357.7L502.8 352.7M499.6 357.7L496.7 352.5M518.2 345.4L515.7 359.6M515.7 359.6L520 354.6M515.7 359.6L513.3 353.4M536.4 345.4L532.2 360.9M532.2 360.9L537.3 355.9M532.2 360.9L530.3 354M554.5 345.4L550 362.5M550 362.5L555.4 357.2M550 362.5L547.9 355.2M572.7 345.4L568.1 362.7M568.1 362.7L573.6 357.4M568.1 362.7L566 355.3M590.9 345.4L589.4 362.2M589.4 362.2L593.8 356.2M589.4 362.2L586.2 355.6M609.1 345.4L608.9 360.2M608.9 360.2L612.5 354.5M608.9 360.2L605.5 354.4M627.3 345.4L628.2 359.7M628.2 359.7L631.2 353.9M628.2 359.7L624.4 354.3M645.5 345.4L647.5 359.6M647.5 359.6L650 353.5M647.5 359.6L643.3 354.5M663.6 345.4L665.9 360M665.9 360L668.4 353.8M665.9 360L661.6 354.8M681.8 345.4L684.4 360.8M684.4 360.8L687 354.3M684.4 360.8L679.9 355.5M700 345.4L703 362M703 362L705.6 355.1M703 362L698.1 356.4M718.2 345.4L721.6 363M721.6 363L724.2 355.8M721.6 363L716.5 357.3M736.4 345.4L740.5 363.3M740.5 363.3L742.9 355.9M740.5 363.3L735.1 357.7M754.5 345.4L759.4 363.3M759.4 363.3L761.5 355.8M759.4 363.3L753.7 357.9M772.7 345.4L778.3 363.5M778.3 363.5L780.2 355.7M778.3 363.5L772.3 358.1M790.9 345.4L797.4 364.2M797.4 364.2L799.1 356.1M797.4 364.2L791.1 358.9M300 363.6L304.5 364.4M304.5 364.4L302.3 362.5M304.5 364.4L301.8 365.4M318.2 363.6L317.5 367.6M317.5 367.6L319.1 365.7M317.5 367.6L316.6 365.2M336.4 363.6L333.6 366.4M333.6 366.4L335.9 365.8M333.6 366.4L334.2 364M354.5 363.6L351.3 366.8M351.3 366.8L354.1 366.1M351.3 366.8L352 364.1M372.7 363.6L368.4 367.9M368.4 367.9L372.1 367M368.4 367.9L369.3 364.2M390.9 363.6L388.2 370.9M388.2 370.9L391.8 368M388.2 370.9L387.4 366.4M409.1 363.6L404.1 368.5M404.1 368.5L408.4 367.5M404.1 368.5L405.2 364.3M427.3 363.6L419.1 370.4M419.1 370.4L424.5 369.6M419.1 370.4L420.9 365.2M445.5 363.6L435.4 368.3M435.4 368.3L441 368.9M435.4 368.3L438.5 363.6M463.6 363.6L454.3 367.9M454.3 367.9L459.7 368.5M454.3 367.9L457.3 363.5M481.8 363.6L474.8 369.5M474.8 369.5L479.8 368.7M474.8 369.5L476.4 364.7M500 363.6L492.7 370.8M492.7 370.8L498 369.5M492.7 370.8L494 365.6M518.2 363.6L513.5 376.3M513.5 376.3L518.5 372.3M513.5 376.3L512.3 370.1M536.4 363.6L531.5 378.4M531.5 378.4L536.8 373.8M531.5 378.4L530 371.6M554.5 363.6L550.2 379.8M550.2 379.8L555.5 374.7M550.2 379.8L548.2 372.8M572.7 363.6L571.3 379.9M571.3 379.9L575.5 374.1M571.3 379.9L568.1 373.4M590.9 363.6L590.9 379.6M590.9 379.6L594.6 373.5M590.9 379.6L587.2 373.5M609.1 363.6L609.8 379M609.8 379L613.1 372.9M609.8 379L606 373.2M627.3 363.6L628.7 378.7M628.7 378.7L631.7 372.5M628.7 378.7L624.6 373.2M645.5 363.6L647.6 378.6M647.6 378.6L650.2 372.3M647.6 378.6L643.3 373.3M663.6 363.6L666.1 378.8M666.1 378.8L668.7 372.4M666.1 378.8L661.6 373.5M681.8 363.6L684.5 379M684.5 379L687 372.4M684.5 379L679.9 373.7M700 363.6L703.1 379.5M703.1 379.5L705.6 372.8M703.1 379.5L698.3 374.2M718.2 363.6L721.8 380.5M721.8 380.5L724.2 373.4M721.8 380.5L716.7 375M736.4 363.6L740.8 380.9M740.8 380.9L743 373.6M740.8 380.9L735.4 375.5M754.5 363.6L760 381.3M760 381.3L761.9 373.6M760 381.3L754.1 376M772.7 363.6L779.2 381.8M779.2 381.8L780.8 373.8M779.2 381.8L772.9 376.6M790.9 363.6L798.6 382.6M798.6 382.6L799.9 374.3M798.6 382.6L791.8 377.5M281.8 381.8L287.6 387.6M287.6 387.6L286.5 382.9M287.6 387.6L283 386.4M300 381.8L304.9 386.7M304.9 386.7L303.9 382.5M304.9 386.7L300.7 385.7M318.2 381.8L320.2 387.3M320.2 387.3L320.9 383.7M320.2 387.3L317.4 385M336.4 381.8L336.4 386.7M336.4 386.7L337.9 384.1M336.4 386.7L334.8 384.1M354.5 381.8L354.5 386.3M354.5 386.3L356 383.9M354.5 386.3L353.1 383.9M372.7 381.8L371.2 386M371.2 386L373.4 384.2M371.2 386L370.6 383.3M390.9 381.8L387.3 385.4M387.3 385.4L390.4 384.6M387.3 385.4L388.1 382.3M409.1 381.8L407.1 387.2M407.1 387.2L409.9 384.9M407.1 387.2L406.4 383.7M427.3 381.8L424.2 390.2M424.2 390.2L428.1 387.1M424.2 390.2L423.2 385.3M445.5 381.8L440.6 392.2M440.6 392.2L445.4 389M440.6 392.2L440 386.5M463.6 381.8L456 390.9M456 390.9L461.5 389M456 390.9L456.9 385.1M481.8 381.8L473.7 389.9M473.7 389.9L479.3 388.5M473.7 389.9L475.1 384.3M500 381.8L492.8 389.7M492.8 389.7L498.1 388.1M492.8 389.7L493.9 384.3M518.2 381.8L513.1 392.6M513.1 392.6L518 389.3M513.1 392.6L512.5 386.7M536.4 381.8L532.6 395.6M532.6 395.6L537.4 391.1M532.6 395.6L530.8 389.3M554.5 381.8L553.2 396.9M553.2 396.9L557.3 391.3M553.2 396.9L550.2 390.7M572.7 381.8L572.3 396.9M572.3 396.9L576 391.2M572.3 396.9L569 391M590.9 381.8L591.4 396.9M591.4 396.9L594.8 390.9M591.4 396.9L587.7 391.2M609.1 381.8L610.5 397.3M610.5 397.3L613.6 391M610.5 397.3L606.4 391.7M627.3 381.8L629.7 397.6M629.7 397.6L632.4 391M629.7 397.6L625.1 392.1M645.5 381.8L648.8 397.4M648.8 397.4L651.1 390.7M648.8 397.4L643.9 392.2M663.6 381.8L667.3 397.4M667.3 397.4L669.5 390.6M667.3 397.4L662.3 392.3M681.8 381.8L685.8 397.3M685.8 397.3L687.9 390.5M685.8 397.3L680.8 392.3M700 381.8L704.4 397.4M704.4 397.4L706.3 390.5M704.4 397.4L699.2 392.5M718.2 381.8L723.2 398.1M723.2 398.1L725 390.9M723.2 398.1L717.7 393.1M736.4 381.8L742.4 398.5M742.4 398.5L743.9 391M742.4 398.5L736.5 393.6M754.5 381.8L761.6 398.8M761.6 398.8L762.8 391.1M761.6 398.8L755.3 394.2M772.7 381.8L781 399.3M781 399.3L781.8 391.2M781 399.3L774.2 394.8M790.9 381.8L800.6 399.9M800.6 399.9L801 391.4M800.6 399.9L793.3 395.5M281.8 399.9L286.5 408.1M286.5 408.1L286.6 403M286.5 408.1L282.1 405.6M300 399.9L307.3 407.2M307.3 407.2L306 402M307.3 407.2L302 405.9M318.2 399.9L323.5 408.7M323.5 408.7L323.5 403.4M323.5 408.7L318.7 406.2M336.4 399.9L341 408.6M341 408.6L341.3 403.4M341 408.6L336.5 405.9M354.5 399.9L357.7 408.6M357.7 408.6L358.7 403.6M357.7 408.6L353.8 405.4M372.7 399.9L375.8 408.3M375.8 408.3L376.7 403.4M375.8 408.3L371.9 405.2M390.9 399.9L393.9 408M393.9 408L394.8 403.2M393.9 408L390.1 405M409.1 399.9L409.1 408.2M409.1 408.2L411.5 404.1M409.1 408.2L406.6 404.1M427.3 399.9L428.6 407.6M428.6 407.6L430.3 403.3M428.6 407.6L425.6 404.1M445.5 399.9L445.5 409M445.5 409L448 404.7M445.5 409L442.9 404.7M463.6 399.9L463.6 410.6M463.6 410.6L466.5 405.9M463.6 410.6L460.8 405.9M481.8 399.9L480.6 411M480.6 411L484 406.5M480.6 411L478.3 405.9M500 399.9L498.3 411.3M498.3 411.3L502 406.9M498.3 411.3L496.1 406M518.2 399.9L518.6 411.9M518.6 411.9L521.4 406.7M518.6 411.9L515.4 406.9M536.4 399.9L537 413.5M537 413.5L540 407.9M537 413.5L533.4 408.2M554.5 399.9L556.4 414.2M556.4 414.2L559.1 408.1M556.4 414.2L552.3 409M572.7 399.9L574.6 414.4M574.6 414.4L577.3 408.3M574.6 414.4L570.5 409.2M590.9 399.9L592.9 414.4M592.9 414.4L595.6 408.3M592.9 414.4L588.7 409.2M609.1 399.9L612 414.9M612 414.9L614.3 408.4M612 414.9L607.4 409.8M627.3 399.9L631.2 415.5M631.2 415.5L633.2 408.7M631.2 415.5L626.1 410.5M645.5 399.9L650.2 415.5M650.2 415.5L651.9 408.5M650.2 415.5L644.9 410.7M663.6 399.9L668.7 415.4M668.7 415.4L670.3 408.4M668.7 415.4L663.3 410.7M681.8 399.9L687.3 415.4M687.3 415.4L688.7 408.3M687.3 415.4L681.7 410.8M700 399.9L705.9 415.5M705.9 415.5L707.2 408.3M705.9 415.5L700.2 411M718.2 399.9L724.6 415.8M724.6 415.8L725.8 408.5M724.6 415.8L718.7 411.3M736.4 399.9L743.8 416M743.8 416L744.6 408.4M743.8 416L737.5 411.7M754.5 399.9L763.1 416M763.1 416L763.5 408.3M763.1 416L756.4 412M772.7 399.9L782.6 416.3M782.6 416.3L782.6 408.3M782.6 416.3L775.5 412.5M790.9 399.9L802.2 416.6M802.2 416.6L801.7 408.3M802.2 416.6L794.6 413.1M300 418.1L307.8 425.9M307.8 425.9L306.4 420.5M307.8 425.9L302.3 424.5M318.2 418.1L326.1 427.2M326.1 427.2L325 421.4M326.1 427.2L320.4 425.4M336.4 418.1L343.8 428.2M343.8 428.2L343.3 422.2M343.8 428.2L338.2 425.9M354.5 418.1L362.6 427.1M362.6 427.1L361.5 421.3M362.6 427.1L357 425.3M372.7 418.1L380.4 426.9M380.4 426.9L379.4 421.2M380.4 426.9L374.9 425.1M390.9 418.1L398.3 426.9M398.3 426.9L397.4 421.2M398.3 426.9L392.9 425.1M409.1 418.1L416.2 426.6M416.2 426.6L415.3 421.1M416.2 426.6L410.9 424.8M427.3 418.1L434.4 426.6M434.4 426.6L433.5 421.1M434.4 426.6L429.1 424.8M445.5 418.1L450 427.8M450 427.8L450.5 422.3M450 427.8L445.4 424.7M463.6 418.1L468.3 428.2M468.3 428.2L468.9 422.6M468.3 428.2L463.7 425M481.8 418.1L486.7 428.5M486.7 428.5L487.3 422.8M486.7 428.5L481.9 425.3M500 418.1L505 428.9M505 428.9L505.7 423.1M505 428.9L500.2 425.6M518.2 418.1L520.7 430.2M520.7 430.2L522.7 424.5M520.7 430.2L516.7 425.8M536.4 418.1L540.9 430.6M540.9 430.6L542.1 424.4M540.9 430.6L536 426.7M554.5 418.1L559.3 431.1M559.3 431.1L560.5 424.8M559.3 431.1L554.3 427M572.7 418.1L577.6 431.4M577.6 431.4L578.8 425M577.6 431.4L572.5 427.3M590.9 418.1L595.7 431.4M595.7 431.4L597 425M595.7 431.4L590.7 427.3M609.1 418.1L615.2 431.4M615.2 431.4L615.9 424.8M615.2 431.4L609.7 427.6M627.3 418.1L633.4 432M633.4 432L634.3 425.2M633.4 432L627.8 428.1M645.5 418.1L651.6 432.6M651.6 432.6L652.6 425.7M651.6 432.6L645.9 428.5M663.6 418.1L670.7 432.2M670.7 432.2L671.2 425.2M670.7 432.2L664.8 428.5M681.8 418.1L689.6 432.1M689.6 432.1L689.9 425M689.6 432.1L683.5 428.6M700 418.1L708.2 432.2M708.2 432.2L708.3 425M708.2 432.2L701.9 428.7M718.2 418.1L726 432.8M726 432.8L726.4 425.5M726 432.8L719.7 429M736.4 418.1L745.2 432.8M745.2 432.8L745.2 425.4M745.2 432.8L738.6 429.3M754.5 418.1L764.4 432.8M764.4 432.8L764 425.2M764.4 432.8L757.5 429.6M772.7 418.1L783.7 432.7M783.7 432.7L782.9 425M783.7 432.7L776.5 429.8M790.9 418.1L803.3 432.9M803.3 432.9L802.1 424.9M803.3 432.9L795.7 430.3M336.4 436.3L342.7 442.6M342.7 442.6L341.5 437.8M342.7 442.6L337.8 441.4M354.5 436.3L360.6 443.6M360.6 443.6L359.8 438.5M360.6 443.6L355.7 441.9M372.7 436.3L379.3 443.9M379.3 443.9L378.4 438.7M379.3 443.9L374.2 442.2M390.9 436.3L398 443.4M398 443.4L396.7 438.2M398 443.4L392.9 442.1M409.1 436.3L416.2 443.4M416.2 443.4L414.9 438.2M416.2 443.4L411 442.1M427.3 436.3L433.6 443.8M433.6 443.8L432.8 438.7M433.6 443.8L428.6 442.1M445.5 436.3L451 444.3M451 444.3L450.6 439.1M451 444.3L446.2 442.1M463.6 436.3L469.4 444.1M469.4 444.1L468.9 438.9M469.4 444.1L464.6 442.1M481.8 436.3L488.3 443.7M488.3 443.7L487.4 438.6M488.3 443.7L483.3 442.1M500 436.3L507.1 443.4M507.1 443.4L505.8 438.2M507.1 443.4L501.9 442.1M518.2 436.3L526 442.9M526 442.9L524.3 437.8M526 442.9L520.7 442.1M536.4 436.3L542.3 445.4M542.3 445.4L542.1 439.8M542.3 445.4L537.3 443M554.5 436.3L561.7 445.1M561.7 445.1L560.9 439.5M561.7 445.1L556.3 443.2M572.7 436.3L581.1 444.8M581.1 444.8L579.7 439.1M581.1 444.8L575.4 443.3M590.9 436.3L600.4 444.2M600.4 444.2L598.4 438.6M600.4 444.2L594.4 443.3M609.1 436.3L617.6 445.8M617.6 445.8L616.4 439.8M617.6 445.8L611.8 444M627.3 436.3L634.6 447.2M634.6 447.2L634.3 441M634.6 447.2L629 444.6M645.5 436.3L652.9 447.7M652.9 447.7L652.6 441.3M652.9 447.7L647.2 444.9M663.6 436.3L671 447.7M671 447.7L670.8 441.3M671 447.7L665.3 444.9M681.8 436.3L689.7 447.6M689.7 447.6L689.3 441.2M689.7 447.6L683.9 445M700 436.3L709.1 447.1M709.1 447.1L708.1 440.7M709.1 447.1L702.9 445M718.2 436.3L726.4 448.1M726.4 448.1L726 441.5M726.4 448.1L720.4 445.4M736.4 436.3L744.7 448.3M744.7 448.3L744.3 441.6M744.7 448.3L738.6 445.6M754.5 436.3L763 448.4M763 448.4L762.6 441.7M763 448.4L756.9 445.7M772.7 436.3L781.8 448.2M781.8 448.2L781.1 441.4M781.8 448.2L775.5 445.7M790.9 436.3L800.8 448.1M800.8 448.1L799.8 441.3M800.8 448.1L794.3 445.9M336.4 454.5L340.1 458.9M340.1 458.9L339.5 455.4M340.1 458.9L336.7 457.7M354.5 454.5L358.1 459.1M358.1 459.1L357.6 455.5M358.1 459.1L354.7 457.7M372.7 454.5L375.8 458.8M375.8 458.8L375.6 455.5M375.8 458.8L372.8 457.5M390.9 454.5L394.7 459M394.7 459L394.1 455.4M394.7 459L391.2 457.8M409.1 454.5L414 458.9M414 458.9L412.8 455M414 458.9L410 458.1M427.3 454.5L432.6 459M432.6 459L431.2 454.9M432.6 459L428.3 458.3M445.5 454.5L450.6 459.6M450.6 459.6L449.5 455.3M450.6 459.6L446.2 458.5M463.6 454.5L468.8 459.8M468.8 459.8L467.8 455.4M468.8 459.8L464.4 458.6M481.8 454.5L487.5 459.5M487.5 459.5L486.1 455.1M487.5 459.5L483 458.7M500 454.5L506 459.5M506 459.5L504.5 455.1M506 459.5L501.4 458.8M518.2 454.5L524.9 459.2M524.9 459.2L523 454.8M524.9 459.2L520.2 458.9M536.4 454.5L542.7 460.4M542.7 460.4L541.3 455.7M542.7 460.4L537.9 459.3M554.5 454.5L561.8 460.1M561.8 460.1L560 455.4M561.8 460.1L556.8 459.5M572.7 454.5L580.8 460.1M580.8 460.1L578.7 455.3M580.8 460.1L575.6 459.8M590.9 454.5L599.5 460.5M599.5 460.5L597.3 455.5M599.5 460.5L594.1 460.1M609.1 454.5L617.1 462.5M617.1 462.5L615.7 457M617.1 462.5L611.6 461.1M627.3 454.5L635.6 463M635.6 463L634.2 457.3M635.6 463L629.9 461.5M645.5 454.5L654 463.4M654 463.4L652.7 457.6M654 463.4L648.2 461.8M663.6 454.5L672.2 463.6M672.2 463.6L670.9 457.7M672.2 463.6L666.4 461.9M681.8 454.5L690.4 463.9M690.4 463.9L689.2 457.9M690.4 463.9L684.6 462.1M700 454.5L708.7 464.1M708.7 464.1L707.5 458.1M708.7 464.1L702.8 462.3M718.2 454.5L727 464.3M727 464.3L725.8 458.1M727 464.3L721 462.4M736.4 454.5L745.3 464.4M745.3 464.4L744.1 458.2M745.3 464.4L739.3 462.5M754.5 454.5L763.6 464.6M763.6 464.6L762.4 458.3M763.6 464.6L757.5 462.7M772.7 454.5L782 464.7M782 464.7L780.7 458.4M782 464.7L775.8 462.9M790.9 454.5L800.4 465M800.4 465L799.1 458.6M800.4 465L794.1 463.1M336.4 472.7L337.1 474M337.1 474L337.2 473.1M337.1 474L336.3 473.6M354.5 472.7L355.2 473.8M355.2 473.8L355.2 473M355.2 473.8L354.5 473.4M372.7 472.7h1M390.9 472.7L392.9 472.8M392.9 472.8L391.9 472.1M392.9 472.8L391.8 473.4M409.1 472.7L412.5 473.3M412.5 473.3L410.9 471.9M412.5 473.3L410.5 474M427.3 472.7L431 474.4M431 474.4L429.6 472.3M431 474.4L428.5 474.7M445.5 472.7L449.6 475.6M449.6 475.6L448.4 472.7M449.6 475.6L446.5 475.4M463.6 472.7L468.5 476.5M468.5 476.5L467.1 472.9M468.5 476.5L464.7 476M481.8 472.7L487.5 476.7M487.5 476.7L485.8 472.7M487.5 476.7L483.2 476.4M500 472.7L506.2 477M506.2 477L504.3 472.8M506.2 477L501.6 476.7M518.2 472.7L524.9 477.4M524.9 477.4L523 473M524.9 477.4L520.2 477M536.4 472.7L544.1 477.1M544.1 477.1L541.6 472.8M544.1 477.1L539.1 477.2M554.5 472.7L562.9 477.5M562.9 477.5L560.4 473M562.9 477.5L557.7 477.6M572.7 472.7L581.8 477.9M581.8 477.9L579.2 473.2M581.8 477.9L576.4 478M590.9 472.7L600.6 478.3M600.6 478.3L597.9 473.3M600.6 478.3L594.9 478.4M609.1 472.7L618.6 479.4M618.6 479.4L616.3 474.1M618.6 479.4L612.9 478.9M627.3 472.7L637 479.6M637 479.6L634.7 474.2M637 479.6L631.1 479.2M645.5 472.7L655.3 479.8M655.3 479.8L653 474.4M655.3 479.8L649.3 479.3M663.6 472.7L673.4 479.9M673.4 479.9L671.1 474.4M673.4 479.9L667.5 479.3M681.8 472.7L691.6 480.2M691.6 480.2L689.4 474.6M691.6 480.2L685.7 479.5M700 472.7L709.8 480.4M709.8 480.4L707.7 474.7M709.8 480.4L703.8 479.6M718.2 472.7L728.1 480.6M728.1 480.6L726 474.9M728.1 480.6L722 479.8M736.4 472.7L746.4 480.9M746.4 480.9L744.3 475.1M746.4 480.9L740.2 480M754.5 472.7L764.6 481.2M764.6 481.2L762.6 475.3M764.6 481.2L758.4 480.2M772.7 472.7L782.7 481.4M782.7 481.4L780.8 475.4M782.7 481.4L776.5 480.3M790.9 472.7L801 481.7M801 481.7L799.1 475.7M801 481.7L794.7 480.5M318.2 490.8L311.8 477.1M311.8 477.1L311 483.9M311.8 477.1L317.4 480.9M336.4 490.8L327.9 480.8M327.9 480.8L328.9 487M327.9 480.8L333.8 482.8M354.5 490.8L347.5 483.8M347.5 483.8L348.8 488.9M347.5 483.8L352.6 485.1M372.7 490.8L367 489.8M367 489.8L369.7 492.2M367 489.8L370.4 488.6M390.9 490.8L387.6 490.8M387.6 490.8L389.4 491.9M387.6 490.8L389.4 489.8M409.1 490.8h1M427.3 490.8L429.7 491.1M429.7 491.1L428.5 490.2M429.7 491.1L428.4 491.7M445.5 490.8L448.5 493.4M448.5 493.4L447.7 491.1M448.5 493.4L446.1 493M463.6 490.8L468.2 494.7M468.2 494.7L467 491.2M468.2 494.7L464.5 494.1M481.8 490.8L487.6 495.4M487.6 495.4L486 491.2M487.6 495.4L483.2 494.8M500 490.8L506.7 495.6M506.7 495.6L504.8 491.2M506.7 495.6L502 495.2M518.2 490.8L526.1 496.4M526.1 496.4L524 491.6M526.1 496.4L520.9 496M536.4 490.8L545.3 496.4M545.3 496.4L542.8 491.5M545.3 496.4L539.9 496.3M554.5 490.8L564.1 496.9M564.1 496.9L561.6 491.8M564.1 496.9L558.4 496.8M572.7 490.8L582.8 497.4M582.8 497.4L580.2 492.1M582.8 497.4L576.9 497.2M590.9 490.8L601 497.9M601 497.9L598.6 492.4M601 497.9L595 497.5M609.1 490.8L619.3 498M619.3 498L616.9 492.5M619.3 498L613.3 497.6M627.3 490.8L637.5 498.1M637.5 498.1L635 492.5M637.5 498.1L631.4 497.6M645.5 490.8L655.5 498.1M655.5 498.1L653.1 492.5M655.5 498.1L649.5 497.6M663.6 490.8L673.6 498.1M673.6 498.1L671.3 492.6M673.6 498.1L667.6 497.6M681.8 490.8L691.7 498.2M691.7 498.2L689.4 492.7M691.7 498.2L685.8 497.6M700 490.8L710 498.4M710 498.4L707.7 492.8M710 498.4L704 497.7M718.2 490.8L728.3 498.6M728.3 498.6L726 492.9M728.3 498.6L722.2 497.9M736.4 490.8L746.6 498.9M746.6 498.9L744.4 493.1M746.6 498.9L740.4 498.1M754.5 490.8L764.8 499.1M764.8 499.1L762.6 493.2M764.8 499.1L758.6 498.2M772.7 490.8L783 499.3M783 499.3L780.9 493.4M783 499.3L776.8 498.4M790.9 490.8L801.3 499.6M801.3 499.6L799.2 493.5M801.3 499.6L795 498.6M300 509L294.2 497.2M294.2 497.2L293.7 503.4M294.2 497.2L299.5 500.6M318.2 509L312.8 495.7M312.8 495.7L311.8 502.2M312.8 495.7L318.1 499.7M336.4 509L330.4 497.3M330.4 497.3L330 503.5M330.4 497.3L335.7 500.6M354.5 509L349.9 499.4M349.9 499.4L349.4 504.9M349.9 499.4L354.5 502.4M372.7 509L368.4 501.6M368.4 501.6L368.3 506.4M368.4 501.6L372.7 503.9M390.9 509L389.5 503.9M389.5 503.9L388.6 507M389.5 503.9L391.9 506.2M409.1 509L409.1 506.7M409.1 506.7L408.4 507.9M409.1 506.7L409.8 507.9M427.3 509L429.3 507.9M429.3 507.9L427.8 507.8M429.3 507.9L428.6 509.1M445.5 509L447.5 509M447.5 509L446.4 508.4M447.5 509L446.4 509.7M463.6 509L466.9 509.6M466.9 509.6L465.3 508.3M466.9 509.6L465 510.3M481.8 509L486.4 512.8M486.4 512.8L485.2 509.4M486.4 512.8L482.7 512.3M500 509L506.2 513.8M506.2 513.8L504.5 509.5M506.2 513.8L501.5 513.3M518.2 509L525.9 514.5M525.9 514.5L523.8 509.8M525.9 514.5L520.8 514.1M536.4 509L545.2 514.8M545.2 514.8L542.8 509.9M545.2 514.8L539.7 514.6M554.5 509L564.1 515.4M564.1 515.4L561.7 510.2M564.1 515.4L558.3 515.2M572.7 509L582.8 515.9M582.8 515.9L580.3 510.5M582.8 515.9L576.8 515.5M590.9 509L601.1 516.2M601.1 516.2L598.7 510.7M601.1 516.2L595.1 515.8M609.1 509L619.5 516.3M619.5 516.3L617 510.7M619.5 516.3L613.4 515.9M627.3 509L637.7 516.4M637.7 516.4L635.2 510.8M637.7 516.4L631.6 515.9M645.5 509L655.6 516.3M655.6 516.3L653.2 510.7M655.6 516.3L649.6 515.8M663.6 509L673.3 516M673.3 516L671 510.6M673.3 516L667.5 515.5M681.8 509L691.7 516.1M691.7 516.1L689.3 510.7M691.7 516.1L685.8 515.6M700 509L710.1 516.4M710.1 516.4L707.7 510.8M710.1 516.4L704.1 515.8M718.2 509L728.4 516.7M728.4 516.7L726.1 511M728.4 516.7L722.3 516M736.4 509L746.7 517M746.7 517L744.4 511.2M746.7 517L740.5 516.2M754.5 509L764.9 517.2M764.9 517.2L762.7 511.4M764.9 517.2L758.7 516.4M772.7 509L783 517.4M783 517.4L780.9 511.5M783 517.4L776.8 516.5M790.9 509L801.3 517.8M801.3 517.8L799.2 511.7M801.3 517.8L795 516.8M281.8 527.2L278.7 514.9M278.7 514.9L276.9 520.7M278.7 514.9L283.1 519.2M300 527.2L295.5 514M295.5 514L294.1 520.4M295.5 514L300.4 518.2M318.2 527.2L313.6 513.8M313.6 513.8L312.2 520.2M313.6 513.8L318.6 518M336.4 527.2L333.1 514.3M333.1 514.3L331.3 520.3M333.1 514.3L337.6 518.7M354.5 527.2L351.7 515.6M351.7 515.6L349.9 521.3M351.7 515.6L355.8 519.8M372.7 527.2L370.7 515.9M370.7 515.9L368.7 521.3M370.7 515.9L374.5 520.2M390.9 527.2L390.9 518M390.9 518L388.3 522.3M390.9 518L393.5 522.3M409.1 527.2L409.8 519.2M409.8 519.2L407 523M409.8 519.2L411.9 523.4M427.3 527.2L429.1 522.2M429.1 522.2L426.5 524.3M429.1 522.2L429.7 525.4M445.5 527.2L447.6 524.7M447.6 524.7L445.6 525.4M447.6 524.7L447.2 526.7M463.6 527.2L466.4 526.5M466.4 526.5L464.7 526M466.4 526.5L465.2 527.7M481.8 527.2L485.9 527.4M485.9 527.4L483.8 526M485.9 527.4L483.7 528.6M500 527.2L505.6 529.2M505.6 529.2L503.3 526.4M505.6 529.2L502 529.9M518.2 527.2L524.9 531.1M524.9 531.1L522.7 527.1M524.9 531.1L520.3 531.2M536.4 527.2L543.9 532.5M543.9 532.5L541.8 527.9M543.9 532.5L538.8 532.1M554.5 527.2L563.4 533.1M563.4 533.1L561.1 528.2M563.4 533.1L557.9 532.9M572.7 527.2L582.6 533.5M582.6 533.5L580 528.3M582.6 533.5L576.8 533.3M590.9 527.2L601 534.3M601 534.3L598.6 528.8M601 534.3L595 533.9M609.1 527.2L619.5 534.5M619.5 534.5L617 528.9M619.5 534.5L613.4 534.1M627.3 527.2L638.2 533.8M638.2 533.8L635.3 528.4M638.2 533.8L632.1 533.8M645.5 527.2L656 533.9M656 533.9L653.3 528.5M656 533.9L650 533.8M663.6 527.2L673.9 534M673.9 534L671.3 528.6M673.9 534L667.9 533.8M681.8 527.2L692 534.2M692 534.2L689.5 528.8M692 534.2L686 533.9M700 527.2L710.1 534.6M710.1 534.6L707.7 529M710.1 534.6L704.1 534M718.2 527.2L728.4 534.8M728.4 534.8L726.1 529.2M728.4 534.8L722.3 534.2M736.4 527.2L746.7 535.1M746.7 535.1L744.4 529.4M746.7 535.1L740.5 534.4M754.5 527.2L764.9 535.4M764.9 535.4L762.7 529.5M764.9 535.4L758.7 534.6M772.7 527.2L783 535.6M783 535.6L780.9 529.7M783 535.6L776.8 534.7M790.9 527.2L801.3 535.9M801.3 535.9L799.2 529.9M801.3 535.9L795 534.9M263.6 545.4L261.3 534.5M261.3 534.5L259.5 539.9M261.3 534.5L265.2 538.6M281.8 545.4L278.9 531.9M278.9 531.9L276.8 538M278.9 531.9L283.3 536.6M300 545.4L297 531.3M297 531.3L294.9 537.6M297 531.3L301.5 536.2M318.2 545.4L316.5 531.5M316.5 531.5L313.8 537.5M316.5 531.5L320.5 536.6M336.4 545.4L336.4 532.4M336.4 532.4L333.2 537.7M336.4 532.4L339.6 537.7M354.5 545.4L355.6 533.3M355.6 533.3L352.1 538.1M355.6 533.3L358.2 538.6M372.7 545.4L372.7 533.1M372.7 533.1L369.6 538.2M372.7 533.1L375.8 538.2M390.9 545.4L392.9 534.1M392.9 534.1L389.1 538.4M392.9 534.1L395 539.4M409.1 545.4L411.9 535.1M411.9 535.1L407.9 538.9M411.9 535.1L413.4 540.4M427.3 545.4L430.4 536.7M430.4 536.7L426.5 539.9M430.4 536.7L431.4 541.7M445.5 545.4L449 539.3M449 539.3L445.2 541.4M449 539.3L449 543.7M463.6 545.4L467.2 541.8M467.2 541.8L464.2 542.5M467.2 541.8L466.5 544.9M481.8 545.4L485.8 543.3M485.8 543.3L483 543.1M485.8 543.3L484.4 545.7M500 545.4L504.5 545M504.5 545L502 543.8M504.5 545L502.2 546.6M518.2 545.4L524 547.5M524 547.5L521.6 544.5M524 547.5L520.2 548.2M536.4 545.4L543.1 548.5M543.1 548.5L540.5 544.8M543.1 548.5L538.6 549M554.5 545.4L562.2 549.8M562.2 549.8L559.8 545.5M562.2 549.8L557.3 549.9M572.7 545.4L581.6 550.5M581.6 550.5L579 545.8M581.6 550.5L576.2 550.6M590.9 545.4L600.9 551.1M600.9 551.1L598.1 546.1M600.9 551.1L595.1 551.2M609.1 545.4L619.4 551.8M619.4 551.8L616.7 546.5M619.4 551.8L613.5 551.7M627.3 545.4L638.3 551.4M638.3 551.4L635.2 546.1M638.3 551.4L632.2 551.6M645.5 545.4L656.8 551.2M656.8 551.2L653.6 546M656.8 551.2L650.7 551.6M663.6 545.4L674.8 551.4M674.8 551.4L671.7 546.2M674.8 551.4L668.7 551.7M681.8 545.4L692.9 552.2M692.9 552.2L690 546.7M692.9 552.2L686.7 552.1M700 545.4L710.6 553.1M710.6 553.1L708.2 547.4M710.6 553.1L704.4 552.6M718.2 545.4L728.8 553.4M728.8 553.4L726.5 547.5M728.8 553.4L722.6 552.7M736.4 545.4L747.1 553.7M747.1 553.7L744.8 547.7M747.1 553.7L740.8 552.9M754.5 545.4L765.4 554M765.4 554L763.1 547.9M765.4 554L759 553.1M772.7 545.4L783.5 554.2M783.5 554.2L781.3 548.1M783.5 554.2L777.1 553.3M790.9 545.4L801.7 554.5M801.7 554.5L799.6 548.3M801.7 554.5L795.3 553.5M245.5 563.6L241.4 550.2M241.4 550.2L239.8 556.5M241.4 550.2L246.2 554.6M263.6 563.6L259.1 548.6M259.1 548.6L257.4 555.4M259.1 548.6L264.3 553.3M281.8 563.6L278.6 548.3M278.6 548.3L276.3 554.9M278.6 548.3L283.3 553.4M300 563.6L298.2 548.7M298.2 548.7L295.4 554.9M298.2 548.7L302.4 554.1M318.2 563.6L316.5 550.1M316.5 550.1L313.9 555.9M316.5 550.1L320.4 555.1M336.4 563.6L337.4 551.3M337.4 551.3L333.9 556.1M337.4 551.3L340.1 556.7M354.5 563.6L356.6 551.8M356.6 551.8L352.8 556.3M356.6 551.8L358.7 557.3M372.7 563.6L376 551.3M376 551.3L371.6 555.5M376 551.3L377.7 557.2M390.9 563.6L395.7 551.8M395.7 551.8L390.8 555.4M395.7 551.8L396.6 557.8M409.1 563.6L414.9 552.7M414.9 552.7L409.7 555.8M414.9 552.7L415.2 558.7M427.3 563.6L434.1 553.8M434.1 553.8L428.7 556.2M434.1 553.8L433.7 559.7M445.5 563.6L453 556M453 556L447.7 557.3M453 556L451.7 561.4M463.6 563.6L470.9 557.9M470.9 557.9L465.9 558.5M470.9 557.9L469.1 562.6M481.8 563.6L488.4 559.4M488.4 559.4L483.8 559.5M488.4 559.4L486.3 563.6M500 563.6L505.8 560.9M505.8 560.9L501.9 560.4M505.8 560.9L503.6 564.2M518.2 563.6L525.1 563M525.1 563L521.3 561.1M525.1 563L521.6 565.5M536.4 563.6L543.3 564.2M543.3 564.2L539.8 561.6M543.3 564.2L539.4 566.1M554.5 563.6L561.7 565.5M561.7 565.5L558.5 562.2M561.7 565.5L557.3 566.7M572.7 563.6L580.5 566.4M580.5 566.4L577.5 562.7M580.5 566.4L575.8 567.3M590.9 563.6L600 566.9M600 566.9L596.7 562.8M600 566.9L594.9 567.9M609.1 563.6L619.7 567M619.7 567L616 562.8M619.7 567L614.2 568.3M627.3 563.6L638.7 567.7M638.7 567.7L635 563.1M638.7 567.7L632.9 568.9M645.5 563.6L657.5 568.4M657.5 568.4L653.8 563.5M657.5 568.4L651.4 569.4M663.6 563.6L675.5 569.2M675.5 569.2L672.1 564M675.5 569.2L669.3 569.8M681.8 563.6L693.7 570.1M693.7 570.1L690.5 564.6M693.7 570.1L687.4 570.3M700 563.6L711.8 571M711.8 571L708.9 565.2M711.8 571L705.4 570.9M718.2 563.6L730.2 571.5M730.2 571.5L727.3 565.6M730.2 571.5L723.6 571.2M736.4 563.6L748.3 572M748.3 572L745.6 565.9M748.3 572L741.6 571.5M754.5 563.6L766.4 572.4M766.4 572.4L763.9 566.2M766.4 572.4L759.7 571.8M772.7 563.6L784.5 572.9M784.5 572.9L782.1 566.5M784.5 572.9L777.7 572M790.9 563.6L802.5 573.3M802.5 573.3L800.3 566.9M802.5 573.3L795.8 572.3M209.1 581.8L204.8 567.6M204.8 567.6L203.1 574.1M204.8 567.6L209.8 572.1M227.3 581.8L222.3 565.6M222.3 565.6L220.6 572.8M222.3 565.6L227.8 570.6M245.5 581.8L240.3 564.8M240.3 564.8L238.4 572.2M240.3 564.8L245.9 569.9M263.6 581.8L260 564.7M260 564.7L257.6 571.8M260 564.7L265.1 570.2M281.8 581.8L278.4 565.5M278.4 565.5L276 572.4M278.4 565.5L283.3 570.8M300 581.8L298.1 566.4M298.1 566.4L295.3 572.7M298.1 566.4L302.4 571.9M318.2 581.8L316.5 567.9M316.5 567.9L313.8 573.8M316.5 567.9L320.5 573M336.4 581.8L337.5 568.8M337.5 568.8L333.9 573.8M337.5 568.8L340.2 574.4M354.5 581.8L356.8 569.2M356.8 569.2L352.7 573.8M356.8 569.2L358.9 574.9M372.7 581.8L376.8 569.2M376.8 569.2L372.1 573.3M376.8 569.2L378.2 575.3M390.9 581.8L396.5 569.8M396.5 569.8L391.3 573.3M396.5 569.8L397.1 576M409.1 581.8L415.8 571M415.8 571L410.4 573.7M415.8 571L415.7 577.1M427.3 581.8L435.6 572.5M435.6 572.5L429.8 574.2M435.6 572.5L434.5 578.4M445.5 581.8L455 574.3M455 574.3L449.1 575M455 574.3L452.9 579.8M463.6 581.8L473.6 576M473.6 576L467.8 575.9M473.6 576L470.8 581M481.8 581.8L491.2 577.6M491.2 577.6L485.9 576.9M491.2 577.6L488.1 582M500 581.8L508.6 578.6M508.6 578.6L503.7 577.6M508.6 578.6L505.5 582.5M518.2 581.8L527.5 580.1M527.5 580.1L522.7 578.3M527.5 580.1L523.6 583.5M536.4 581.8L545.2 581M545.2 581L540.7 578.8M545.2 581L541.2 583.9M554.5 581.8L563.2 581.8M563.2 581.8L559 579.2M563.2 581.8L559 584.3M572.7 581.8L581.3 582.5M581.3 582.5L577.4 579.6M581.3 582.5L576.9 584.6M590.9 581.8L600 583.4M600 583.4L596.1 580M600 583.4L595.2 585.2M609.1 581.8L619.5 583.6M619.5 583.6L615.3 580M619.5 583.6L614.4 585.5M627.3 581.8L638.6 584.4M638.6 584.4L634.5 580.3M638.6 584.4L633.1 586.2M645.5 581.8L657.7 585.3M657.7 585.3L653.5 580.8M657.7 585.3L651.8 586.8M663.6 581.8L675.8 586.2M675.8 586.2L671.9 581.4M675.8 586.2L669.8 587.4M681.8 581.8L694.2 587.3M694.2 587.3L690.6 582.1M694.2 587.3L687.9 588.1M700 581.8L712.5 588.4M712.5 588.4L709.1 582.8M712.5 588.4L706 588.7M718.2 581.8L730.8 589.2M730.8 589.2L727.6 583.3M730.8 589.2L724.1 589.2M736.4 581.8L748.9 589.9M748.9 589.9L745.9 583.8M748.9 589.9L742.2 589.6M754.5 581.8L767 590.5M767 590.5L764.2 584.2M767 590.5L760.1 590M772.7 581.8L785 591.2M785 591.2L782.4 584.7M785 591.2L778.1 590.4M790.9 581.8L802.9 591.8M802.9 591.8L800.6 585.2M802.9 591.8L796 590.7M136.4 599.9L131.7 587.2M131.7 587.2L130.5 593.4M131.7 587.2L136.7 591.2M154.5 599.9L150.3 586.4M150.3 586.4L148.8 592.8M150.3 586.4L155.2 590.8M172.7 599.9L169 585.8M169 585.8L167.1 592.2M169 585.8L173.8 590.5M190.9 599.9L187.8 585.5M187.8 585.5L185.6 591.8M187.8 585.5L192.4 590.4M209.1 599.9L205.9 585.1M205.9 585.1L203.7 591.6M205.9 585.1L210.6 590.1M227.3 599.9L225.3 583.6M225.3 583.6L222.3 590.2M225.3 583.6L229.7 589.3M245.5 599.9L242.6 583.3M242.6 583.3L240 590.2M242.6 583.3L247.4 588.9M263.6 599.9L261.1 583.3M261.1 583.3L258.3 590.1M261.1 583.3L265.8 588.9M281.8 599.9L279.7 583.6M279.7 583.6L276.8 590.3M279.7 583.6L284.2 589.3M300 599.9L298.6 584.4M298.6 584.4L295.6 590.7M298.6 584.4L302.7 590M318.2 599.9L317 585.4M317 585.4L314.1 591.3M317 585.4L320.9 590.8M336.4 599.9L338.3 586.3M338.3 586.3L334.2 591.3M338.3 586.3L340.8 592.2M354.5 599.9L357.5 586.7M357.5 586.7L353.1 591.3M357.5 586.7L359.5 592.7M372.7 599.9L376.4 586.3M376.4 586.3L371.7 590.8M376.4 586.3L378.2 592.6M390.9 599.9L396.1 587M396.1 587L391 590.9M396.1 587L397.2 593.4M409.1 599.9L416 588M416 588L410.4 591.1M416 588L416.1 594.4M427.3 599.9L436.1 589.4M436.1 589.4L430.1 591.5M436.1 589.4L435.1 595.7M445.5 599.9L456.3 591.4M456.3 591.4L449.9 592.2M456.3 591.4L454 597.5M463.6 599.9L475.6 593.6M475.6 593.6L469.3 593.2M475.6 593.6L472.3 599M481.8 599.9L493.9 595.1M493.9 595.1L487.7 594.1M493.9 595.1L490.1 600M500 599.9L511.7 596.1M511.7 596.1L505.9 594.8M511.7 596.1L507.8 600.7M518.2 599.9L530.3 597.8M530.3 597.8L524.7 595.6M530.3 597.8L525.8 601.7M536.4 599.9L548 598.9M548 598.9L542.8 596.4M548 598.9L543.3 602.3M554.5 599.9L565.6 599.5M565.6 599.5L560.7 596.8M565.6 599.5L560.9 602.6M572.7 599.9L583.4 599.9M583.4 599.9L578.7 597.1M583.4 599.9L578.7 602.8M590.9 599.9L601.6 600.3M601.6 600.3L597 597.3M601.6 600.3L596.8 603M609.1 599.9L620.2 600.9M620.2 600.9L615.6 597.6M620.2 600.9L615.1 603.4M627.3 599.9L639.1 601.5M639.1 601.5L634.5 597.8M639.1 601.5L633.7 603.8M645.5 599.9L658 602.1M658 602.1L653.4 598.1M658 602.1L652.3 604.3M663.6 599.9L675.6 603M675.6 603L671.4 598.7M675.6 603L669.8 604.7M681.8 599.9L694.1 604.1M694.1 604.1L690.1 599.4M694.1 604.1L688.1 605.4M700 599.9L712.5 605.2M712.5 605.2L708.7 600.1M712.5 605.2L706.2 606.1M718.2 599.9L730.7 606.5M730.7 606.5L727.3 600.9M730.7 606.5L724.2 606.9M736.4 599.9L749 607.3M749 607.3L745.8 601.4M749 607.3L742.3 607.4M754.5 599.9L767.2 608M767.2 608L764.1 601.9M767.2 608L760.4 607.8M772.7 599.9L785 608.9M785 608.9L782.3 602.6M785 608.9L778.1 608.3M790.9 599.9L802.7 609.9M802.7 609.9L800.5 603.3M802.7 609.9L795.9 608.8M27.3 618.1L19.9 609.3M19.9 609.3L20.8 615M19.9 609.3L25.3 611.2M45.5 618.1L39.2 608M39.2 608L39.3 613.9M39.2 608L44.4 610.7M63.6 618.1L58.8 607M58.8 607L58 612.8M58.8 607L63.7 610.4M81.8 618.1L78.6 606.2M78.6 606.2L77 612M78.6 606.2L82.9 610.4M100 618.1L96.8 606M96.8 606L95.1 611.9M96.8 606L101.1 610.2M118.2 618.1L114.9 605.8M114.9 605.8L113.2 611.7M114.9 605.8L119.3 610.1M136.4 618.1L133 605.4M133 605.4L131.2 611.4M133 605.4L137.5 609.8M154.5 618.1L151.2 604.7M151.2 604.7L149.3 610.9M151.2 604.7L155.8 609.3M172.7 618.1L169.5 604.3M169.5 604.3L167.5 610.6M169.5 604.3L174.1 609M190.9 618.1L187.9 603.8M187.9 603.8L185.7 610.1M187.9 603.8L192.4 608.7M209.1 618.1L207.3 603.3M207.3 603.3L204.5 609.5M207.3 603.3L211.4 608.6M227.3 618.1L227.1 602.5M227.1 602.5L223.6 608.5M227.1 602.5L230.8 608.4M245.5 618.1L245.4 602.3M245.4 602.3L241.8 608.4M245.4 602.3L249.1 608.4M263.6 618.1L262.2 602.1M262.2 602.1L259.1 608.5M262.2 602.1L266.4 607.9M281.8 618.1L282.9 602.1M282.9 602.1L278.8 608M282.9 602.1L286.2 608.5M300 618.1L301.3 602.6M301.3 602.6L297.2 608.2M301.3 602.6L304.4 608.8M318.2 618.1L317.7 603.2M317.7 603.2L314.4 609.1M317.7 603.2L321.4 608.9M336.4 618.1L338 603.8M338 603.8L334 609.1M338 603.8L340.7 609.8M354.5 618.1L358.2 604.6M358.2 604.6L353.5 609.1M358.2 604.6L359.9 610.9M372.7 618.1L375.8 603.8M375.8 603.8L371.2 608.7M375.8 603.8L377.9 610.1M390.9 618.1L395.4 604.4M395.4 604.4L390.4 608.8M395.4 604.4L396.8 610.9M409.1 618.1L415.2 605.1M415.2 605.1L409.7 608.8M415.2 605.1L415.9 611.7M427.3 618.1L435.8 606M435.8 606L429.6 608.7M435.8 606L435.3 612.7M445.5 618.1L456.9 607.8M456.9 607.8L450.1 609.1M456.9 607.8L454.9 614.4M463.6 618.1L477.2 610.3M477.2 610.3L470.2 610.2M477.2 610.3L473.8 616.4M481.8 618.1L496.1 612.3M496.1 612.3L489.3 611.2M496.1 612.3L492 617.9M500 618.1L514.4 614M514.4 614L507.8 612.2M514.4 614L509.8 619M518.2 618.1L532.7 616.1M532.7 616.1L526.5 613.5M532.7 616.1L527.5 620.3M536.4 618.1L550.3 616.9M550.3 616.9L544.4 614.1M550.3 616.9L545 620.7M554.5 618.1L567.8 617.7M567.8 617.7L562.3 614.6M567.8 617.7L562.6 621.1M572.7 618.1L585.5 618.1M585.5 618.1L580.2 615M585.5 618.1L580.2 621.3M590.9 618.1L603.2 618.5M603.2 618.5L598.2 615.3M603.2 618.5L598 621.5M609.1 618.1L621.2 618.5M621.2 618.5L616.3 615.3M621.2 618.5L616 621.4M627.3 618.1L639.6 619.1M639.6 619.1L634.7 615.6M639.6 619.1L634.2 621.8M645.5 618.1L658.1 619.8M658.1 619.8L653.3 616M658.1 619.8L652.5 622.2M663.6 618.1L676.6 620.4M676.6 620.4L671.9 616.3M676.6 620.4L670.8 622.6M681.8 618.1L694.7 621.4M694.7 621.4L690.3 616.9M694.7 621.4L688.7 623.2M700 618.1L712.8 622.6M712.8 622.6L708.7 617.7M712.8 622.6L706.6 623.9M718.2 618.1L730.7 624M730.7 624L727.1 618.6M730.7 624L724.3 624.6M736.4 618.1L748.7 624.7M748.7 624.7L745.3 619.2M748.7 624.7L742.2 625M754.5 618.1L766.6 625.5M766.6 625.5L763.6 619.7M766.6 625.5L760 625.5M772.7 618.1L784.5 626.4M784.5 626.4L781.8 620.3M784.5 626.4L777.9 625.9M790.9 618.1L802.1 627.5M802.1 627.5L799.9 621.2M802.1 627.5L795.5 626.5M9.1 636.3L1.2 628.4M1.2 628.4L2.6 633.9M1.2 628.4L6.7 629.8M27.3 636.3L20.7 626.9M20.7 626.9L21.1 632.6M20.7 626.9L25.9 629.2M45.5 636.3L40.4 625.5M40.4 625.5L39.8 631.4M40.4 625.5L45.3 628.8M63.6 636.3L60.5 624.6M60.5 624.6L58.9 630.3M60.5 624.6L64.8 628.7M81.8 636.3L80.7 624M80.7 624L78.1 629.4M80.7 624L84.3 628.9M100 636.3L100 623.8M100 623.8L96.9 629M100 623.8L103.1 629M118.2 636.3L117.6 623.6M117.6 623.6L114.7 629M117.6 623.6L121 628.7M136.4 636.3L135.2 623.2M135.2 623.2L132.5 628.8M135.2 623.2L138.9 628.3M154.5 636.3L153.8 622.8M153.8 622.8L150.8 628.4M153.8 622.8L157.4 628M172.7 636.3L172.3 622.3M172.3 622.3L169.1 628M172.3 622.3L175.8 627.8M190.9 636.3L190.9 621.9M190.9 621.9L187.5 627.6M190.9 621.9L194.3 627.6M209.1 636.3L210.4 621.6M210.4 621.6L206.4 627M210.4 621.6L213.3 627.6M227.3 636.3L229.5 621.3M229.5 621.3L225.2 626.6M229.5 621.3L232.1 627.6M245.5 636.3L248.7 621.2M248.7 621.2L243.9 626.3M248.7 621.2L250.9 627.7M263.6 636.3L268.2 621.4M268.2 621.4L263 626M268.2 621.4L269.9 628.1M281.8 636.3L287.7 621.8M287.7 621.8L282.1 626M287.7 621.8L288.8 628.7M300 636.3L306.4 622.2M306.4 622.2L300.7 626.2M306.4 622.2L307.2 629.1M318.2 636.3L325 623M325 623L319.2 626.6M325 623L325.4 629.7M336.4 636.3L343 623.3M343 623.3L337.3 626.8M343 623.3L343.5 629.9M354.5 636.3L361 623.7M361 623.7L355.4 627.2M361 623.7L361.4 630.2M372.7 636.3L375.3 621.9M375.3 621.9L370.9 626.9M375.3 621.9L377.7 628.1M390.9 636.3L394.5 622.8M394.5 622.8L389.9 627.3M394.5 622.8L396.3 629M409.1 636.3L413.9 623M413.9 623L408.8 627.1M413.9 623L415.2 629.4M427.3 636.3L433.7 622.5M433.7 622.5L428 626.4M433.7 622.5L434.4 629.3M445.5 636.3L455.1 622.5M455.1 622.5L448.4 625.5M455.1 622.5L454.6 629.8M463.6 636.3L477.2 624.9M477.2 624.9L469.7 626.1M477.2 624.9L474.7 632.1M481.8 636.3L497.3 627.3M497.3 627.3L489.7 627.2M497.3 627.3L493.6 634.1M500 636.3L516.4 629.7M516.4 629.7L508.9 628.5M516.4 629.7L511.8 635.7M518.2 636.3L535.8 634.8M535.8 634.8L529 631.4M535.8 634.8L529.6 639.2M536.4 636.3L553.2 635.7M553.2 635.7L546.8 632.1M553.2 635.7L547 639.7M554.5 636.3L570.6 636.3M570.6 636.3L564.5 632.6M570.6 636.3L564.5 640M572.7 636.3L587.9 636.8M587.9 636.8L582.2 633.1M587.9 636.8L581.9 640.2M590.9 636.3L605.4 636.8M605.4 636.8L599.8 633.2M605.4 636.8L599.6 640M609.1 636.3L623.2 636.8M623.2 636.8L617.7 633.2M623.2 636.8L617.5 640M627.3 636.3L641.4 637.2M641.4 637.2L636 633.5M641.4 637.2L635.6 640.2M645.5 636.3L659.9 637.6M659.9 637.6L654.5 633.7M659.9 637.6L653.9 640.5M663.6 636.3L678.5 638.3M678.5 638.3L673.2 634M678.5 638.3L672.2 641M681.8 636.3L696.8 638.9M696.8 638.9L691.6 634.4M696.8 638.9L690.4 641.4M700 636.3L715 640M715 640L710.1 635.1M715 640L708.4 642.1M718.2 636.3L733 641.1M733 641.1L728.4 635.9M733 641.1L726.2 642.7M736.4 636.3L750.6 642.7M750.6 642.7L746.6 636.9M750.6 642.7L743.7 643.5M754.5 636.3L768.1 644.1M768.1 644.1L764.7 638M768.1 644.1L761.1 644.2M772.7 636.3L785.4 645.2M785.4 645.2L782.6 638.8M785.4 645.2L778.5 644.7M790.9 636.3L802.6 646.1M802.6 646.1L800.4 639.6M802.6 646.1L795.8 645.1M9.1 654.5L1.8 644.1M1.8 644.1L2.2 650.2M1.8 644.1L7.4 646.5M27.3 654.5L22.8 642.1M22.8 642.1L21.6 648.3M22.8 642.1L27.6 646.1M45.5 654.5L42.3 641.3M42.3 641.3L40.4 647.3M42.3 641.3L46.8 645.8M63.6 654.5L62 640.6M62 640.6L59.3 646.5M62 640.6L66 645.7M81.8 654.5L81.8 639.9M81.8 639.9L78.4 645.6M81.8 639.9L85.3 645.6M100 654.5L100.5 639.7M100.5 639.7L96.8 645.3M100.5 639.7L103.8 645.6M118.2 654.5L119.4 639.6M119.4 639.6L115.4 645.1M119.4 639.6L122.4 645.7M136.4 654.5L137.7 639.3M137.7 639.3L133.7 644.9M137.7 639.3L140.7 645.5M154.5 654.5L155.9 639.2M155.9 639.2L151.8 644.8M155.9 639.2L158.9 645.4M172.7 654.5L174.1 639.1M174.1 639.1L170 644.7M174.1 639.1L177.1 645.3M190.9 654.5L192.3 638.9M192.3 638.9L188.2 644.6M192.3 638.9L195.3 645.2M209.1 654.5L211 639M211 639L206.7 644.5M211 639L213.8 645.4M227.3 654.5L230.5 639.2M230.5 639.2L225.8 644.3M230.5 639.2L232.8 645.8M245.5 654.5L250.1 639.4M250.1 639.4L244.8 644.1M250.1 639.4L251.8 646.2M263.6 654.5L269.5 639.9M269.5 639.9L263.9 644.1M269.5 639.9L270.6 646.8M281.8 654.5L288.9 640.6M288.9 640.6L283 644.3M288.9 640.6L289.4 647.5M300 654.5L307.8 641.2M307.8 641.2L301.7 644.5M307.8 641.2L307.9 648.1M318.2 654.5L326.7 641.9M326.7 641.9L320.5 644.8M326.7 641.9L326.3 648.7M336.4 654.5L345.1 642.3M345.1 642.3L338.8 645M345.1 642.3L344.5 649.1M354.5 654.5L363.5 642.7M363.5 642.7L357.2 645.2M363.5 642.7L362.7 649.4M372.7 654.5L376.6 640.2M376.6 640.2L371.7 644.9M376.6 640.2L378.4 646.7M390.9 654.5L395.2 641.2M395.2 641.2L390.3 645.5M395.2 641.2L396.7 647.5M409.1 654.5L413.7 641.7M413.7 641.7L408.8 645.7M413.7 641.7L414.9 648M427.3 654.5L433 640.4M433 640.4L427.5 644.5M433 640.4L434 647.2M445.5 654.5L454.1 638.1M454.1 638.1L447.4 642.2M454.1 638.1L454.5 646M463.6 654.5L476 638.6M476 638.6L468.2 641.6M476 638.6L475 646.9M481.8 654.5L497.1 640.7M497.1 640.7L488.8 642.4M497.1 640.7L494.6 648.8M500 654.5L516.8 642.7M516.8 642.7L508.4 643.3M516.8 642.7L513.4 650.4M518.2 654.5L536.5 647.1M536.5 647.1L528.4 645.8M536.5 647.1L531.5 653.7M536.4 654.5L554.7 648.5M554.7 648.5L546.8 646.7M554.7 648.5L549.4 654.6M554.5 654.5L572.9 650.6M572.9 650.6L565.4 648M572.9 650.6L567.1 656M572.7 654.5L591 653.8M591 653.8L584.2 650.1M591 653.8L584.4 658.1M590.9 654.5L608.6 654.5M608.6 654.5L602.1 650.6M608.6 654.5L602.1 658.4M609.1 654.5L626.3 655.1M626.3 655.1L620.1 651M626.3 655.1L619.8 658.7M627.3 654.5L644.4 655.1M644.4 655.1L638.1 651M644.4 655.1L637.9 658.7M645.5 654.5L662.7 655.1M662.7 655.1L656.4 651M662.7 655.1L656.2 658.7M663.6 654.5L681.5 655.7M681.5 655.7L675.2 651.3M681.5 655.7L674.7 659.2M681.8 654.5L699.8 656.4M699.8 656.4L693.6 651.7M699.8 656.4L692.8 659.6M700 654.5L717.8 657.6M717.8 657.6L712 652.6M717.8 657.6L710.6 660.4M718.2 654.5L735.7 658.9M735.7 658.9L730.3 653.4M735.7 658.9L728.3 661.1M736.4 654.5L753.4 660M753.4 660L748.4 654.2M753.4 660L745.9 661.7M754.5 654.5L770.9 661.1M770.9 661.1L766.4 655M770.9 661.1L763.4 662.3M772.7 654.5L788.4 662.1M788.4 662.1L784.3 655.8M788.4 662.1L780.9 662.8M790.9 654.5L805.7 663M805.7 663L802.1 656.5M805.7 663L798.3 663.2M9.1 672.7L4.6 660.3M4.6 660.3L3.4 666.4M4.6 660.3L9.4 664.2M27.3 672.7L24.9 659.3M24.9 659.3L22.6 665.2M24.9 659.3L29.1 664.1M45.5 672.7L44.2 658.6M44.2 658.6L41.3 664.5M44.2 658.6L48.1 663.9M63.6 672.7L63.6 658.2M63.6 658.2L60.2 663.9M63.6 658.2L67.1 663.9M81.8 672.7L83.1 657.9M83.1 657.9L79.1 663.4M83.1 657.9L86.1 664M100 672.7L101.1 657.5M101.1 657.5L97.1 663.1M101.1 657.5L104.2 663.6M118.2 672.7L120.6 657.4M120.6 657.4L116.1 662.7M120.6 657.4L123.2 663.8M136.4 672.7L141 657.8M141 657.8L135.8 662.4M141 657.8L142.7 664.5M154.5 672.7L159.4 657.8M159.4 657.8L154.1 662.4M159.4 657.8L161 664.6M172.7 672.7L177.1 657.7M177.1 657.7L172 662.4M177.1 657.7L178.9 664.4M190.9 672.7L194.2 657.4M194.2 657.4L189.4 662.5M194.2 657.4L196.4 664M209.1 672.7L214.9 658.3M214.9 658.3L209.3 662.5M214.9 658.3L216 665.2M227.3 672.7L233.9 658.7M233.9 658.7L228.1 662.5M233.9 658.7L234.6 665.6M245.5 672.7L253.1 658.6M253.1 658.6L247 662.2M253.1 658.6L253.4 665.7M263.6 672.7L272.3 658.9M272.3 658.9L265.9 662.1M272.3 658.9L272.1 666M281.8 672.7L291.7 659.8M291.7 659.8L285 662.4M291.7 659.8L290.9 666.9M300 672.7L310 660.1M310 660.1L303.3 662.6M310 660.1L309.1 667.2M318.2 672.7L328.2 660.7M328.2 660.7L321.6 663M328.2 660.7L327.1 667.6M336.4 672.7L345.1 660.2M345.1 660.2L338.8 663M345.1 660.2L344.6 667.1M354.5 672.7L362 659.7M362 659.7L356.1 663M362 659.7L362.1 666.5M372.7 672.7L379.1 658.9M379.1 658.9L373.5 662.7M379.1 658.9L379.9 665.7M390.9 672.7L396.9 659.8M396.9 659.8L391.5 663.5M396.9 659.8L397.6 666.3M409.1 672.7L414 660.5M414 660.5L409 664.2M414 660.5L415 666.6M427.3 672.7L432.8 658.9M432.8 658.9L427.4 663M432.8 658.9L433.9 665.6M445.5 672.7L453.7 655.8M453.7 655.8L447 660.1M453.7 655.8L454.4 663.7M463.6 672.7L474.6 655.1M474.6 655.1L467 659M474.6 655.1L474.5 663.6M481.8 672.7L495.6 656.2M495.6 656.2L487.4 659.1M495.6 656.2L494.3 664.8M500 672.7L515.7 657.5M515.7 657.5L507.1 659.5M515.7 657.5L513.4 666.1M518.2 672.7L536.4 659.9M536.4 659.9L527.4 660.6M536.4 659.9L532.7 668.1M536.4 672.7L556 662.2M556 662.2L547 661.8M556 662.2L551.3 669.9M554.5 672.7L575.2 665.1M575.2 665.1L566.5 663.4M575.2 665.1L569.6 672.1M572.7 672.7L594 668.1M594 668.1L585.7 665.3M594 668.1L587.6 674.2M590.9 672.7L612.2 670.8M612.2 670.8L604.4 667M612.2 670.8L605.2 675.9M609.1 672.7L629.5 672M629.5 672L622.1 667.9M629.5 672L622.4 676.5M627.3 672.7L647.2 672.3M647.2 672.3L640 668.2M647.2 672.3L640.1 676.7M645.5 672.7L665.6 672.7M665.6 672.7L658.4 668.4M665.6 672.7L658.4 677M663.6 672.7L684.4 673M684.4 673L677.1 668.5M684.4 673L677 677.3M681.8 672.7L702.3 673.4M702.3 673.4L695.2 668.8M702.3 673.4L694.9 677.5M700 672.7L720.3 674.3M720.3 674.3L713.5 669.4M720.3 674.3L712.8 678M718.2 672.7L738.4 675.1M738.4 675.1L731.8 670M738.4 675.1L730.7 678.6M736.4 672.7L756.2 676.2M756.2 676.2L749.9 670.7M756.2 676.2L748.4 679.2M754.5 672.7L773.9 677.1M773.9 677.1L768 671.4M773.9 677.1L766.1 679.7M772.7 672.7L791.6 678.3M791.6 678.3L786.1 672.2M791.6 678.3L783.7 680.3M790.9 672.7L809.1 679.3M809.1 679.3L804 673M809.1 679.3L801.1 680.8M9.1 690.8L9.1 678.5M9.1 678.5L6 683.7M9.1 678.5L12.2 683.7M27.3 690.8L29.4 678.5M29.4 678.5L25.5 683.1M29.4 678.5L31.6 684.2M45.5 690.8L48.2 678.4M48.2 678.4L44 682.9M48.2 678.4L50.1 684.2M63.6 690.8L66.9 678.3M66.9 678.3L62.5 682.6M66.9 678.3L68.7 684.2M81.8 690.8L85.7 678.3M85.7 678.3L81 682.4M85.7 678.3L87.2 684.3M100 690.8L105.5 678.4M105.5 678.4L100.3 682.1M105.5 678.4L106.3 684.8M118.2 690.8L124.9 678.8M124.9 678.8L119.3 682M124.9 678.8L125.1 685.2M136.4 690.8L143.3 678.7M143.3 678.7L137.6 681.9M143.3 678.7L143.4 685.2M154.5 690.8L161.7 678.7M161.7 678.7L156 681.8M161.7 678.7L161.8 685.2M172.7 690.8L180.3 678.3M180.3 678.3L174.4 681.5M180.3 678.3L180.3 685M190.9 690.8L199 678M199 678L192.8 681.1M199 678L198.8 684.8M209.1 690.8L219.8 678.9M219.8 678.9L213 681M219.8 678.9L218.5 685.9M227.3 690.8L238.6 679M238.6 679L231.6 680.9M238.6 679L237 686M245.5 690.8L258 678.4M258 678.4L250.6 680.2M258 678.4L256.1 685.8M263.6 690.8L277 678.4M277 678.4L269.4 680M277 678.4L274.8 685.9M281.8 690.8L295.6 678.5M295.6 678.5L287.9 680M295.6 678.5L293.3 686M300 690.8L313.6 679M313.6 679L306 680.3M313.6 679L311.3 686.3M318.2 690.8L331.5 679.6M331.5 679.6L324.1 680.8M331.5 679.6L329.1 686.8M336.4 690.8L348.6 679.3M348.6 679.3L341.4 680.9M348.6 679.3L346.6 686.4M354.5 690.8L365.5 679.2M365.5 679.2L358.7 681.1M365.5 679.2L364 686.1M372.7 690.8L383 678.6M383 678.6L376.3 680.9M383 678.6L381.9 685.6M390.9 690.8L400 679.2M400 679.2L393.7 681.6M400 679.2L399.2 685.9M409.1 690.8L416.4 680.4M416.4 680.4L410.8 682.9M416.4 680.4L416 686.5M427.3 690.8L434.3 678.6M434.3 678.6L428.6 681.8M434.3 678.6L434.5 685.1M445.5 690.8L454.9 674.5M454.9 674.5L447.9 678.3M454.9 674.5L455.1 682.4M463.6 690.8L475.4 673.5M475.4 673.5L467.6 677.1M475.4 673.5L474.9 682M481.8 690.8L496.1 673.8M496.1 673.8L487.6 676.8M496.1 673.8L494.7 682.7M500 690.8L516.1 674.7M516.1 674.7L507.3 676.9M516.1 674.7L513.9 683.6M518.2 690.8L536 675.9M536 675.9L526.8 677.4M536 675.9L532.9 684.7M536.4 690.8L555.4 677.5M555.4 677.5L546.1 678.2M555.4 677.5L551.6 686M554.5 690.8L575 680M575 680L565.7 679.5M575 680L570.2 687.9M572.7 690.8L594.3 683M594.3 683L585.3 681.2M594.3 683L588.5 690.1M590.9 690.8L613 686.1M613 686.1L604.4 683.2M613 686.1L606.4 692.3M609.1 690.8L631 688.9M631 688.9L623 685M631 688.9L623.8 694.2M627.3 690.8L649 689.5M649 689.5L641.2 685.4M649 689.5L641.7 694.5M645.5 690.8L667.4 690.1M667.4 690.1L659.6 685.8M667.4 690.1L660 694.9M663.6 690.8L685.8 690.5M685.8 690.5L678.1 686M685.8 690.5L678.2 695.2M681.8 690.8L703.9 690.8M703.9 690.8L696.2 686.3M703.9 690.8L696.2 695.4M700 690.8L721.9 691.4M721.9 691.4L714.4 686.7M721.9 691.4L714.2 695.8M718.2 690.8L739.9 692M739.9 692L732.6 687M739.9 692L732.1 696.1M736.4 690.8L758 692.9M758 692.9L750.9 687.7M758 692.9L750.1 696.7M754.5 690.8L776 693.9M776 693.9L769.2 688.3M776 693.9L767.9 697.3M772.7 690.8L794 694.8M794 694.8L787.4 689M794 694.8L785.7 697.9M790.9 690.8L811.8 695.7M811.8 695.7L805.6 689.6M811.8 695.7L803.5 698.4M9.1 709L14.3 697.8M14.3 697.8L9.3 701.2M14.3 697.8L14.9 703.8M27.3 709L34.6 698.6M34.6 698.6L29 701.1M34.6 698.6L34.1 704.7M45.5 709L53.1 698.3M53.1 698.3L47.4 700.8M53.1 698.3L52.6 704.6M63.6 709L71.5 698.3M71.5 698.3L65.7 700.7M71.5 698.3L70.9 704.6M81.8 709L90 698.2M90 698.2L84.1 700.6M90 698.2L89.3 704.5M100 709L109.7 699M109.7 699L103.4 700.7M109.7 699L108.2 705.3M118.2 709L127.9 698.7M127.9 698.7L121.6 700.5M127.9 698.7L126.5 705.1M136.4 709L146.1 698.7M146.1 698.7L139.8 700.5M146.1 698.7L144.7 705.1M154.5 709L164.2 699.1M164.2 699.1L157.9 700.8M164.2 699.1L162.7 705.4M172.7 709L182.4 699.5M182.4 699.5L176.2 701M182.4 699.5L180.8 705.7M190.9 709L200.8 699.8M200.8 699.8L194.6 701.1M200.8 699.8L199.1 705.9M209.1 709L220.4 700.2M220.4 700.2L213.9 701M220.4 700.2L218.1 706.3M227.3 709L239.8 699.7M239.8 699.7L232.8 700.4M239.8 699.7L237.1 706.2M245.5 709L259.7 699M259.7 699L252.2 699.5M259.7 699L256.6 705.8M263.6 709L279.2 698.6M279.2 698.6L271.3 699M279.2 698.6L275.8 705.7M281.8 709L298.2 698.4M298.2 698.4L290.1 698.7M298.2 698.4L294.6 705.7M300 709L316.7 698.6M316.7 698.6L308.5 698.7M316.7 698.6L313 705.9M318.2 709L334.8 699M334.8 699L326.7 699M334.8 699L331 706.2M336.4 709L352.2 699M352.2 699L344.3 699.2M352.2 699L348.6 706.1M354.5 709L369.3 699.2M369.3 699.2L361.7 699.6M369.3 699.2L366 706.1M372.7 709L386.2 699.6M386.2 699.6L379 700.1M386.2 699.6L383.2 706.2M390.9 709L402.6 699.9M402.6 699.9L395.9 700.7M402.6 699.9L400.2 706.2M409.1 709L418.7 700.3M418.7 700.3L412.7 701.5M418.7 700.3L416.9 706.3M427.3 709L436.9 698.3M436.9 698.3L430.6 700.3M436.9 698.3L435.6 704.8M445.5 709L457.2 694M457.2 694L449.7 696.9M457.2 694L456.2 702M463.6 709L477.2 692.9M477.2 692.9L469 695.7M477.2 692.9L475.8 701.4M481.8 709L497.7 692.6M497.7 692.6L488.8 695M497.7 692.6L495.6 701.5M500 709L517.1 693.1M517.1 693.1L508 695M517.1 693.1L514.6 702M518.2 709L536.1 692.9M536.1 692.9L526.7 694.7M536.1 692.9L533.3 702M536.4 709L554.8 693.6M554.8 693.6L545.4 695.1M554.8 693.6L551.7 702.6M554.5 709L574.2 695.3M574.2 695.3L564.7 695.9M574.2 695.3L570.3 703.9M572.7 709L593.4 697.1M593.4 697.1L583.9 696.9M593.4 697.1L588.8 705.4M590.9 709L612.9 700.1M612.9 700.1L603.6 698.7M612.9 700.1L607.2 707.7M609.1 709L632 704.2M632 704.2L623.2 701.1M632 704.2L625.2 710.5M627.3 709L650.5 705.8M650.5 705.8L641.9 702.1M650.5 705.8L643.2 711.6M645.5 709L669 707M669 707L660.6 702.9M669 707L661.4 712.5M663.6 709L687.4 707.6M687.4 707.6L679 703.2M687.4 707.6L679.6 712.9M681.8 709L705.5 708.2M705.5 708.2L697.3 703.6M705.5 708.2L697.6 713.3M700 709L723.5 708.6M723.5 708.6L715.4 703.9M723.5 708.6L715.6 713.6M718.2 709L741.6 709M741.6 709L733.6 704.2M741.6 709L733.6 713.8M736.4 709L759.6 709.8M759.6 709.8L751.9 704.8M759.6 709.8L751.5 714.3M754.5 709L777.6 710.6M777.6 710.6L770.1 705.3M777.6 710.6L769.4 714.8M772.7 709L795.5 711.4M795.5 711.4L788.2 705.9M795.5 711.4L787.2 715.3M790.9 709L813.4 712.2M813.4 712.2L806.3 706.5M813.4 712.2L805 715.8M9.1 727.2L19.7 716.6M19.7 716.6L13.1 718.3M19.7 716.6L18 723.2M27.3 727.2L39 717.4M39 717.4L32.2 718.5M39 717.4L36.7 723.9M45.5 727.2L57.7 717.5M57.7 717.5L50.8 718.4M57.7 717.5L55.2 724.1M63.6 727.2L76.3 717.7M76.3 717.7L69.3 718.4M76.3 717.7L73.7 724.3M81.8 727.2L95 718M95 718L87.9 718.5M95 718L92.1 724.5M100 727.2L112.8 716.9M112.8 716.9L105.6 717.9M112.8 716.9L110.3 723.7M118.2 727.2L131.6 717.4M131.6 717.4L124.4 718.1M131.6 717.4L128.8 724.2M136.4 727.2L150.1 718.3M150.1 718.3L142.9 718.5M150.1 718.3L147 724.8M154.5 727.2L167.8 718.9M167.8 718.9L160.8 719.1M167.8 718.9L164.6 725.2M172.7 727.2L185.1 719.8M185.1 719.8L178.4 719.8M185.1 719.8L182 725.6M190.9 727.2L202.7 720.4M202.7 720.4L196.3 720.3M202.7 720.4L199.6 726M209.1 727.2L221.6 721.4M221.6 721.4L215.2 720.7M221.6 721.4L218 726.7M227.3 727.2L240.8 721.2M240.8 721.2L234.1 720.4M240.8 721.2L236.9 726.7M245.5 727.2L260.6 720.8M260.6 720.8L253.4 719.8M260.6 720.8L256.3 726.6M263.6 727.2L280.4 720.4M280.4 720.4L272.8 719.2M280.4 720.4L275.7 726.6M281.8 727.2L299.9 720.4M299.9 720.4L291.9 718.9M299.9 720.4L294.9 726.7M300 727.2L319 720.5M319 720.5L310.8 718.9M319 720.5L313.7 727M318.2 727.2L337.4 721M337.4 721L329.3 719.1M337.4 721L331.9 727.3M336.4 727.2L354.9 720M354.9 720L346.7 718.6M354.9 720L349.8 726.5M354.5 727.2L371.9 719.2M371.9 719.2L363.9 718.4M371.9 719.2L367.4 725.9M372.7 727.2L388.3 718.9M388.3 718.9L380.7 718.5M388.3 718.9L384.4 725.4M390.9 727.2L405.1 719M405.1 719L397.9 718.9M405.1 719L401.6 725.3M409.1 727.2L421.2 719M421.2 719L414.5 719.4M421.2 719L418.4 725.1M427.3 727.2L439.5 717.7M439.5 717.7L432.6 718.5M439.5 717.7L437 724.2M445.5 727.2L459.3 713.8M459.3 713.8L451.5 715.6M459.3 713.8L457.2 721.6M463.6 727.2L478.8 712.6M478.8 712.6L470.4 714.5M478.8 712.6L476.6 720.9M481.8 727.2L499.4 712.4M499.4 712.4L490.4 713.9M499.4 712.4L496.4 721.1M500 727.2L518.8 712.5M518.8 712.5L509.4 713.7M518.8 712.5L515.4 721.4M518.2 727.2L537.8 711.9M537.8 711.9L528.1 713.1M537.8 711.9L534.3 721M536.4 727.2L556.5 712.6M556.5 712.6L546.8 713.4M556.5 712.6L552.7 721.6M554.5 727.2L575.2 713.3M575.2 713.3L565.4 713.8M575.2 713.3L571 722.2M572.7 727.2L594.3 714.8M594.3 714.8L584.5 714.6M594.3 714.8L589.5 723.3M590.9 727.2L613.4 716.7M613.4 716.7L603.7 715.7M613.4 716.7L607.9 724.8M609.1 727.2L632.6 719.6M632.6 719.6L623.1 717.4M632.6 719.6L626.2 726.9M627.3 727.2L651.4 721.2M651.4 721.2L642.1 718.3M651.4 721.2L644.5 728.1M645.5 727.2L670.2 722.9M670.2 722.9L661 719.3M670.2 722.9L662.8 729.3M663.6 727.2L688.7 724.1M688.7 724.1L679.7 720.1M688.7 724.1L680.9 730.2M681.8 727.2L707 725.5M707 725.5L698.2 721M707 725.5L698.9 731.1M700 727.2L725 726.3M725 726.3L716.4 721.6M725 726.3L716.8 731.7M718.2 727.2L743 727.2M743 727.2L734.7 722.2M743 727.2L734.7 732.2M736.4 727.2L761.1 727.6M761.1 727.6L752.8 722.5M761.1 727.6L752.7 732.5M754.5 727.2L779.1 728.1M779.1 728.1L771 722.8M779.1 728.1L770.6 732.7M772.7 727.2L797 728.7M797 728.7L789.1 723.3M797 728.7L788.5 733.1M790.9 727.2L815 729.3M815 729.3L807.2 723.7M815 729.3L806.4 733.5M9.1 745.4L23.1 733.7M23.1 733.7L15.4 734.9M23.1 733.7L20.5 741M27.3 745.4L41.7 733.8M41.7 733.8L33.9 734.9M41.7 733.8L39 741.2M45.5 745.4L60.1 734M60.1 734L52.3 734.9M60.1 734L57.3 741.3M63.6 745.4L78.6 734.3M78.6 734.3L70.7 735M78.6 734.3L75.6 741.6M81.8 745.4L97.2 734.6M97.2 734.6L89.3 735.2M97.2 734.6L93.9 741.9M100 745.4L115.6 734.5M115.6 734.5L107.6 735M115.6 734.5L112.4 741.8M118.2 745.4L133.8 734.5M133.8 734.5L125.8 735M133.8 734.5L130.5 741.8M136.4 745.4L151.7 734.6M151.7 734.6L143.8 735.2M151.7 734.6L148.5 741.9M154.5 745.4L169.5 735.9M169.5 735.9L161.9 736.1M169.5 735.9L166.1 742.7M172.7 745.4L186.4 737.5M186.4 737.5L179.4 737.4M186.4 737.5L183 743.7M190.9 745.4L203.9 739.3M203.9 739.3L197.4 738.6M203.9 739.3L200.2 744.8M209.1 745.4L222.4 740.6M222.4 740.6L216 739.3M222.4 740.6L218.3 745.6M227.3 745.4L240.5 740.9M240.5 740.9L234.2 739.5M240.5 740.9L236.3 745.9M245.5 745.4L259.6 741M259.6 741L253 739.4M259.6 741L255.1 746M263.6 745.4L279 741M279 741L272.2 739.1M279 741L274.2 746.2M281.8 745.4L298.5 741M298.5 741L291.3 738.9M298.5 741L293.3 746.4M300 745.4L317.2 741.3M317.2 741.3L310 739M317.2 741.3L311.8 746.6M318.2 745.4L335.6 741.7M335.6 741.7L328.4 739.2M335.6 741.7L330 746.9M336.4 745.4L353.6 740.7M353.6 740.7L346.3 738.6M353.6 740.7L348.3 746.2M354.5 745.4L372.1 739.5M372.1 739.5L364.4 737.8M372.1 739.5L367 745.5M372.7 745.4L389.6 738.6M389.6 738.6L382 737.3M389.6 738.6L385 744.8M390.9 745.4L407.1 738.2M407.1 738.2L399.5 737.3M407.1 738.2L402.7 744.4M409.1 745.4L424.2 738M424.2 738L416.9 737.4M424.2 738L420.2 744.2M427.3 745.4L442.2 736.8M442.2 736.8L434.7 736.6M442.2 736.8L438.6 743.3M445.5 745.4L461.3 734.7M461.3 734.7L453.3 735.1M461.3 734.7L457.9 742M463.6 745.4L480.7 733.9M480.7 733.9L472.2 734.3M480.7 733.9L477.1 741.6M481.8 745.4L501.3 733.2M501.3 733.2L492.1 733.4M501.3 733.2L497.1 741.4M500 745.4L520.8 733.4M520.8 733.4L511.3 733.2M520.8 733.4L516.2 741.7M518.2 745.4L539.8 731.9M539.8 731.9L529.9 732.1M539.8 731.9L535.3 740.7M536.4 745.4L558.3 732.2M558.3 732.2L548.3 732.2M558.3 732.2L553.6 741M554.5 745.4L576.8 732.6M576.8 732.6L566.8 732.4M576.8 732.6L571.9 741.3M572.7 745.4L595.5 733.3M595.5 733.3L585.5 732.7M595.5 733.3L590.3 741.9M590.9 745.4L614.4 734.4M614.4 734.4L604.4 733.4M614.4 734.4L608.8 742.8M609.1 745.4L633.3 735.6M633.3 735.6L623.3 734M633.3 735.6L627.2 743.7M627.3 745.4L652.3 737.3M652.3 737.3L642.4 735M652.3 737.3L645.6 745M645.5 745.4L670.9 738.1M670.9 738.1L661 735.5M670.9 738.1L663.9 745.6M663.6 745.4L689.5 739.4M689.5 739.4L679.7 736.3M689.5 739.4L682.1 746.5M681.8 745.4L707.9 740.8M707.9 740.8L698.3 737.1M707.9 740.8L700.1 747.5M700 745.4L726 741.9M726 741.9L716.7 737.9M726 741.9L718.1 748.2M718.2 745.4L744.2 743M744.2 743L735 738.6M744.2 743L736 749M736.4 745.4L762.3 744M762.3 744L753.4 739.3M762.3 744L753.9 749.7M754.5 745.4L780.2 744.6M780.2 744.6L771.5 739.7M780.2 744.6L771.8 750M772.7 745.4L798.2 745.2M798.2 745.2L789.6 740.2M798.2 745.2L789.7 750.4M790.9 745.4L816.1 745.8M816.1 745.8L807.7 740.6M816.1 745.8L807.6 750.8M9.1 763.6L25.3 750.9M25.3 750.9L16.9 752M25.3 750.9L22.2 758.8M27.3 763.6L44.2 750.7M44.2 750.7L35.6 751.7M44.2 750.7L41 758.8M45.5 763.6L63.1 750.5M63.1 750.5L54.3 751.3M63.1 750.5L59.7 758.7M63.6 763.6L81.9 750.4M81.9 750.4L72.9 751.2M81.9 750.4L78.3 758.7M81.8 763.6L100.5 750.5M100.5 750.5L91.4 751.1M100.5 750.5L96.8 758.8M100 763.6L118.8 750.4M118.8 750.4L109.7 751M118.8 750.4L115.1 758.8M118.2 763.6L137 750.4M137 750.4L127.8 751M137 750.4L133.3 758.8M136.4 763.6L154.9 750.6M154.9 750.6L145.8 751.2M154.9 750.6L151.2 758.9M154.5 763.6L172.4 752.6M172.4 752.6L163.8 752.7M172.4 752.6L168.5 760.2M172.7 763.6L187.6 755.7M187.6 755.7L180.3 755.3M187.6 755.7L183.8 762M190.9 763.6L204.8 758.1M204.8 758.1L198.1 757M204.8 758.1L200.7 763.5M209.1 763.6L223.4 759.7M223.4 759.7L216.9 757.9M223.4 759.7L218.7 764.6M227.3 763.6L241 760.3M241 760.3L234.8 758.3M241 760.3L236.4 764.9M245.5 763.6L259.5 760.7M259.5 760.7L253.3 758.5M259.5 760.7L254.7 765.1M263.6 763.6L278.6 760.9M278.6 760.9L272.2 758.5M278.6 760.9L273.4 765.4M281.8 763.6L297.7 761.1M297.7 761.1L291.1 758.4M297.7 761.1L292.2 765.6M300 763.6L316.5 761.3M316.5 761.3L309.8 758.4M316.5 761.3L310.8 765.8M318.2 763.6L335.1 761.5M335.1 761.5L328.3 758.5M335.1 761.5L329.2 766.1M336.4 763.6L353.5 760.6M353.5 760.6L346.5 757.9M353.5 760.6L347.8 765.6M354.5 763.6L372.8 759.6M372.8 759.6L365.3 757M372.8 759.6L367.1 765M372.7 763.6L391 758.7M391 758.7L383.3 756.5M391 758.7L385.5 764.4M390.9 763.6L409.1 758.4M409.1 758.4L401.4 756.3M409.1 758.4L403.7 764.2M409.1 763.6L426.9 757.8M426.9 757.8L419.2 756M426.9 757.8L421.7 763.8M427.3 763.6L445.2 757M445.2 757L437.3 755.5M445.2 757L440.1 763.3M445.5 763.6L464.1 755.3M464.1 755.3L455.7 754.3M464.1 755.3L459.2 762.2M463.6 763.6L483.6 753.8M483.6 753.8L474.7 753.1M483.6 753.8L478.7 761.4M481.8 763.6L503.1 753.2M503.1 753.2L493.7 752.4M503.1 753.2L497.9 761.1M500 763.6L522.2 752.8M522.2 752.8L512.5 751.9M522.2 752.8L516.9 760.9M518.2 763.6L541.6 752.1M541.6 752.1L531.5 751.3M541.6 752.1L536.1 760.6M536.4 763.6L559.9 752.1M559.9 752.1L549.8 751.2M559.9 752.1L554.4 760.6M554.5 763.6L578.2 752M578.2 752L568.1 751.1M578.2 752L572.7 760.6M572.7 763.6L596.8 752.4M596.8 752.4L586.6 751.3M596.8 752.4L591 760.9M590.9 763.6L615.3 752.7M615.3 752.7L605.1 751.4M615.3 752.7L609.4 761.2M609.1 763.6L633.4 751.7M633.4 751.7L623 750.8M633.4 751.7L627.7 760.5M627.3 763.6L652.2 752.5M652.2 752.5L641.8 751.2M652.2 752.5L646.2 761.1M645.5 763.6L670.8 753.3M670.8 753.3L660.4 751.7M670.8 753.3L664.5 761.7M663.6 763.6L689.5 754.9M689.5 754.9L679.3 752.6M689.5 754.9L682.7 762.9M681.8 763.6L708.2 756.5M708.2 756.5L698.1 753.6M708.2 756.5L700.9 764.1M700 763.6L726.7 758.1M726.7 758.1L716.8 754.6M726.7 758.1L719 765.2M718.2 763.6L745 759.6M745 759.6L735.4 755.6M745 759.6L736.9 766.3M736.4 763.6L763.3 761.2M763.3 761.2L753.9 756.7M763.3 761.2L754.9 767.3M754.5 763.6L781.3 762M781.3 762L772.2 757.2M781.3 762L772.8 767.8M772.7 763.6L799.3 762.8M799.3 762.8L790.3 757.8M799.3 762.8L790.7 768.3M790.9 763.6L817.2 763.6M817.2 763.6L808.5 758.3M817.2 763.6L808.5 768.8" stroke="#fff" stroke-width="1" fill="none" shape-rendering="crispEdges"/>
<path d="M9.5 28V772M81.5 28V772M154.5 28V772M227.5 28V772M299.5 28V772M372.5 28V772M445.5 28V772M518.5 28V772M590.5 28V772M663.5 28V772M736.5 28V772M0 36.5H800M0 109.5H800M0 181.5H800M0 254.5H800M0 327.5H800M0 399.5H800M0 472.5H800M0 545.5H800M0 618.5H800M0 690.5H800M0 763.5H800" stroke="#808080" stroke-width="1" fill="none" shape-rendering="crispEdges"/>
<path d="M0 27.5H800M0.5 28V773" stroke="#000" stroke-width="1" fill="none" shape-rendering="crispEdges"/>
<path d="M1.5 28v4M1.5 773v-5M9.5 28v17M9.5 773v-18M16.5 28v4M16.5 773v-5M23.5 28v4M23.5 773v-5M30.5 28v4M30.5 773v-5M38.5 28v4M38.5 773v-5M45.5 28v9M45.5 773v-10M52.5 28v4M52.5 773v-5M59.5 28v4M59.5 773v-5M67.5 28v4M67.5 773v-5M74.5 28v4M74.5 773v-5M81.5 28v17M81.5 773v-18M89.5 28v4M89.5 773v-5M96.5 28v4M96.5 773v-5M103.5 28v4M103.5 773v-5M110.5 28v4M110.5 773v-5M118.5 28v9M118.5 773v-10M125.5 28v4M125.5 773v-5M132.5 28v4M132.5 773v-5M139.5 28v4M139.5 773v-5M147.5 28v4M147.5 773v-5M154.5 28v17M154.5 773v-18M161.5 28v4M161.5 773v-5M169.5 28v4M169.5 773v-5M176.5 28v4M176.5 773v-5M183.5 28v4M183.5 773v-5M190.5 28v9M190.5 773v-10M198.5 28v4M198.5 773v-5M205.5 28v4M205.5 773v-5M212.5 28v4M212.5 773v-5M219.5 28v4M219.5 773v-5M227.5 28v17M227.5 773v-18M234.5 28v4M234.5 773v-5M241.5 28v4M241.5 773v-5M249.5 28v4M249.5 773v-5M256.5 28v4M256.5 773v-5M263.5 28v9M263.5 773v-10M270.5 28v4M270.5 773v-5M278.5 28v4M278.5 773v-5M285.5 28v4M285.5 773v-5M292.5 28v4M292.5 773v-5M299.5 28v17M299.5 773v-18M307.5 28v4M307.5 773v-5M314.5 28v4M314.5 773v-5M321.5 28v4M321.5 773v-5M329.5 28v4M329.5 773v-5M336.5 28v9M336.5 773v-10M343.5 28v4M343.5 773v-5M350.5 28v4M350.5 773v-5M358.5 28v4M358.5 773v-5M365.5 28v4M365.5 773v-5M372.5 28v17M372.5 773v-18M379.5 28v4M379.5 773v-5M387.5 28v4M387.5 773v-5M394.5 28v4M394.5 773v-5M401.5 28v4M401.5 773v-5M409.5 28v9M409.5 773v-10M416.5 28v4M416.5 773v-5M423.5 28v4M423.5 773v-5M430.5 28v4M430.5 773v-5M438.5 28v4M438.5 773v-5M445.5 28v17M445.5 773v-18M452.5 28v4M452.5 773v-5M459.5 28v4M459.5 773v-5M467.5 28v4M467.5 773v-5M474.5 28v4M474.5 773v-5M481.5 28v9M481.5 773v-10M489.5 28v4M489.5 773v-5M496.5 28v4M496.5 773v-5M503.5 28v4M503.5 773v-5M510.5 28v4M510.5 773v-5M518.5 28v17M518.5 773v-18M525.5 28v4M525.5 773v-5M532.5 28v4M532.5 773v-5M539.5 28v4M539.5 773v-5M547.5 28v4M547.5 773v-5M554.5 28v9M554.5 773v-10M561.5 28v4M561.5 773v-5M569.5 28v4M569.5 773v-5M576.5 28v4M576.5 773v-5M583.5 28v4M583.5 773v-5M590.5 28v17M590.5 773v-18M598.5 28v4M598.5 773v-5M605.5 28v4M605.5 773v-5M612.5 28v4M612.5 773v-5M619.5 28v4M619.5 773v-5M627.5 28v9M627.5 773v-10M634.5 28v4M634.5 773v-5M641.5 28v4M641.5 773v-5M649.5 28v4M649.5 773v-5M656.5 28v4M656.5 773v-5M663.5 28v17M663.5 773v-18M670.5 28v4M670.5 773v-5M678.5 28v4M678.5 773v-5M685.5 28v4M685.5 773v-5M692.5 28v4M692.5 773v-5M699.5 28v9M699.5 773v-10M707.5 28v4M707.5 773v-5M714.5 28v4M714.5 773v-5M721.5 28v4M721.5 773v-5M729.5 28v4M729.5 773v-5M736.5 28v17M736.5 773v-18M743.5 28v4M743.5 773v-5M750.5 28v4M750.5 773v-5M758.5 28v4M758.5 773v-5M765.5 28v4M765.5 773v-5M772.5 28v9M772.5 773v-10M779.5 28v4M779.5 773v-5M787.5 28v4M787.5 773v-5M794.5 28v4M794.5 773v-5M0 29.5h5M800 29.5h-5M0 36.5h18M800 36.5h-18M0 43.5h5M800 43.5h-5M0 50.5h5M800 50.5h-5M0 58.5h5M800 58.5h-5M0 65.5h5M800 65.5h-5M0 72.5h10M800 72.5h-10M0 79.5h5M800 79.5h-5M0 87.5h5M800 87.5h-5M0 94.5h5M800 94.5h-5M0 101.5h5M800 101.5h-5M0 109.5h18M800 109.5h-18M0 116.5h5M800 116.5h-5M0 123.5h5M800 123.5h-5M0 130.5h5M800 130.5h-5M0 138.5h5M800 138.5h-5M0 145.5h10M800 145.5h-10M0 152.5h5M800 152.5h-5M0 159.5h5M800 159.5h-5M0 167.5h5M800 167.5h-5M0 174.5h5M800 174.5h-5M0 181.5h18M800 181.5h-18M0 189.5h5M800 189.5h-5M0 196.5h5M800 196.5h-5M0 203.5h5M800 203.5h-5M0 210.5h5M800 210.5h-5M0 218.5h10M800 218.5h-10M0 225.5h5M800 225.5h-5M0 232.5h5M800 232.5h-5M0 239.5h5M800 239.5h-5M0 247.5h5M800 247.5h-5M0 254.5h18M800 254.5h-18M0 261.5h5M800 261.5h-5M0 269.5h5M800 269.5h-5M0 276.5h5M800 276.5h-5M0 283.5h5M800 283.5h-5M0 290.5h10M800 290.5h-10M0 298.5h5M800 298.5h-5M0 305.5h5M800 305.5h-5M0 312.5h5M800 312.5h-5M0 319.5h5M800 319.5h-5M0 327.5h18M800 327.5h-18M0 334.5h5M800 334.5h-5M0 341.5h5M800 341.5h-5M0 349.5h5M800 349.5h-5M0 356.5h5M800 356.5h-5M0 363.5h10M800 363.5h-10M0 370.5h5M800 370.5h-5M0 378.5h5M800 378.5h-5M0 385.5h5M800 385.5h-5M0 392.5h5M800 392.5h-5M0 399.5h18M800 399.5h-18M0 407.5h5M800 407.5h-5M0 414.5h5M800 414.5h-5M0 421.5h5M800 421.5h-5M0 429.5h5M800 429.5h-5M0 436.5h10M800 436.5h-10M0 443.5h5M800 443.5h-5M0 450.5h5M800 450.5h-5M0 458.5h5M800 458.5h-5M0 465.5h5M800 465.5h-5M0 472.5h18M800 472.5h-18M0 479.5h5M800 479.5h-5M0 487.5h5M800 487.5h-5M0 494.5h5M800 494.5h-5M0 501.5h5M800 501.5h-5M0 509.5h10M800 509.5h-10M0 516.5h5M800 516.5h-5M0 523.5h5M800 523.5h-5M0 530.5h5M800 530.5h-5M0 538.5h5M800 538.5h-5M0 545.5h18M800 545.5h-18M0 552.5h5M800 552.5h-5M0 559.5h5M800 559.5h-5M0 567.5h5M800 567.5h-5M0 574.5h5M800 574.5h-5M0 581.5h10M800 581.5h-10M0 589.5h5M800 589.5h-5M0 596.5h5M800 596.5h-5M0 603.5h5M800 603.5h-5M0 610.5h5M800 610.5h-5M0 618.5h18M800 618.5h-18M0 625.5h5M800 625.5h-5M0 632.5h5M800 632.5h-5M0 639.5h5M800 639.5h-5M0 647.5h5M800 647.5h-5M0 654.5h10M800 654.5h-10M0 661.5h5M800 661.5h-5M0 669.5h5M800 669.5h-5M0 676.5h5M800 676.5h-5M0 683.5h5M800 683.5h-5M0 690.5h18M800 690.5h-18M0 698.5h5M800 698.5h-5M0 705.5h5M800 705.5h-5M0 712.5h5M800 712.5h-5M0 719.5h5M800 719.5h-5M0 727.5h10M800 727.5h-10M0 734.5h5M800 734.5h-5M0 741.5h5M800 741.5h-5M0 749.5h5M800 749.5h-5M0 756.5h5M800 756.5h-5M0 763.5h18M800 763.5h-18M0 770.5h5M800 770.5h-5" stroke="#000" stroke-width="1" fill="none" shape-rendering="crispEdges"/>
<g clip-path="url(#mc)">
<text class="g" x="771.5" y="31.5" font-size="10.6" textLength="20.5" lengthAdjust="spacingAndGlyphs">31S</text>
<text class="g" x="771.5" y="104.5" font-size="10.6" textLength="20.5" lengthAdjust="spacingAndGlyphs">32S</text>
<text class="g" x="771.5" y="176.5" font-size="10.6" textLength="20.5" lengthAdjust="spacingAndGlyphs">33S</text>
<text class="g" x="771.5" y="249.5" font-size="10.6" textLength="20.5" lengthAdjust="spacingAndGlyphs">34S</text>
<text class="g" x="771.5" y="322.5" font-size="10.6" textLength="20.5" lengthAdjust="spacingAndGlyphs">35S</text>
<text class="g" x="771.5" y="394.5" font-size="10.6" textLength="20.5" lengthAdjust="spacingAndGlyphs">36S</text>
<text class="g" x="771.5" y="467.5" font-size="10.6" textLength="20.5" lengthAdjust="spacingAndGlyphs">37S</text>
<text class="g" x="771.5" y="540.5" font-size="10.6" textLength="20.5" lengthAdjust="spacingAndGlyphs">38S</text>
<text class="g" x="771.5" y="613.5" font-size="10.6" textLength="20.5" lengthAdjust="spacingAndGlyphs">39S</text>
<text class="g" x="771.5" y="685.5" font-size="10.6" textLength="20.5" lengthAdjust="spacingAndGlyphs">40S</text>
<text class="g" x="771.5" y="758.5" font-size="10.6" textLength="20.5" lengthAdjust="spacingAndGlyphs">41S</text>
<text class="g" transform="translate(13.8 743.8) rotate(90)" font-size="10.6" textLength="21" lengthAdjust="spacingAndGlyphs">61W</text>
<text class="g" transform="translate(85.8 743.8) rotate(90)" font-size="10.6" textLength="21" lengthAdjust="spacingAndGlyphs">60W</text>
<text class="g" transform="translate(158.8 743.8) rotate(90)" font-size="10.6" textLength="21" lengthAdjust="spacingAndGlyphs">59W</text>
<text class="g" transform="translate(231.8 743.8) rotate(90)" font-size="10.6" textLength="21" lengthAdjust="spacingAndGlyphs">58W</text>
<text class="g" transform="translate(303.8 743.8) rotate(90)" font-size="10.6" textLength="21" lengthAdjust="spacingAndGlyphs">57W</text>
<text class="g" transform="translate(376.8 743.8) rotate(90)" font-size="10.6" textLength="21" lengthAdjust="spacingAndGlyphs">56W</text>
<text class="g" transform="translate(449.8 743.8) rotate(90)" font-size="10.6" textLength="21" lengthAdjust="spacingAndGlyphs">55W</text>
<text class="g" transform="translate(522.8 743.8) rotate(90)" font-size="10.6" textLength="21" lengthAdjust="spacingAndGlyphs">54W</text>
<text class="g" transform="translate(594.8 743.8) rotate(90)" font-size="10.6" textLength="21" lengthAdjust="spacingAndGlyphs">53W</text>
<text class="g" transform="translate(667.8 743.8) rotate(90)" font-size="10.6" textLength="21" lengthAdjust="spacingAndGlyphs">52W</text>
<text class="g" transform="translate(740.8 743.8) rotate(90)" font-size="10.6" textLength="21" lengthAdjust="spacingAndGlyphs">51W</text>
</g>
<text class="t" x="5" y="50.6" textLength="383" lengthAdjust="spacingAndGlyphs">modelo GEFS-WAVE (NCEP)</text>
<text class="t" x="5" y="72.7" textLength="495" lengthAdjust="spacingAndGlyphs">forecast date: 2024-04-21 00:00:00</text>
<text class="t" x="42" y="95.2" textLength="446" lengthAdjust="spacingAndGlyphs">valid date: 2024-04-21 00:00:00</text>
<path clip-path="url(#mc)" d="M236.25 28L235 38.25L233.75 50.75L228.75 59.5L225 68.25L227.5 77L225 84.5L223.75 94.5L213.75 98.25L212.5 100.75L216.25 107L216.25 113.25L213.25 120.75L220.5 129.5L216.25 137L212 143.25L211.25 154.5L213.75 167L217 175.75L215.5 182L213.75 187L210 189.5L201.25 188.25L196.25 188.25L195 190.75L197 194.5L196.25 202L192.5 207L190 213.25L188.75 220.75L188.75 217L187.5 229.5L188.75 238.25L193.75 243.25L195 254.5L198.75 258.25L200 267L197.5 270.75L191.25 274L185 275.25L190 277L194.5 280L191.25 285.75L190.75 290.75L196.25 294.5L203.75 299.5L211.25 304.5L218.75 309.5L230 313.25L241.25 315.75L252.5 322L260 327L270 333.25L277.5 339.5L283.75 347L288.75 353.25L290.75 359L287.5 364.5L280 372L275 377L272.5 384.5L271.75 392L273.75 400.75L277.5 407L283.75 414.5L287.5 417L295 423.25L305 425.75L315 424.5L317.5 422L320 427L322.5 437L324.5 449.5L325 464.5L318.75 473.25L310 483.25L302.5 493.25L295 503.25L287.5 510.75L280 518.25L271.25 525.75L263.75 534.5L261.25 543.25L261.25 552L255 557L245 562L232.5 568.25L223.75 572L215 575.75L207.5 578.25L200 580.75L175 587L150 594.5L125 599.5L100 604.5L82.5 608.25L32.5 613.25L17.5 615.75L0 617.5M212 143.25L215.5 152L217.5 158.25L217 165.75L221.25 170.75L223.75 174.5L223 182L220 187L215.5 189.5L210 190L203.75 189.5L201.25 190.75L201.25 198.25L198.75 205.75L196.25 210.75L198.75 214.5L196.25 219.5L195.75 227L197.5 237L197.5 244.5L201.25 250.75L206.25 257L211.25 262L217.5 265.75L221.25 270.75L227.5 275.75L233.75 280.75L236.25 285.75L240 288.25L246.25 285.75L255 284.5L262.5 285.75L272.5 284.5L282.5 285.75L291.25 288.25L296.25 292L302.5 297L307.5 302L315 304.5L325 304.5L330 307L333.75 309.5L341.25 310L345 311.25L345 313L342.5 314.4L343 317L347.5 319.4L352.5 320L356.25 318.75L360.6 322.5L364.4 320L370.6 318.75L376.25 314.4L382.5 311.9L388 310.6L393.75 310L401.25 310.25L407.5 311.9L415 312.5L420 313.75L423 316.9L425 318.75L430 320L437.5 318.25L445 320.75L448.75 325L453.75 323.25L465 318.25L475 314.5L485 310.75L493.75 307L496.25 302L493.75 299.5L496.25 295.75L500 298.25L498.75 302L506.25 303.25L510 298.25L516.25 293.25L525 287L532.5 282L535 279.5L535.6 275L538.75 269.4L545 264.4L552.5 258.75L553.75 250L556.25 242.5L561.25 236.25L563 235.6L570 231.9L576.25 226.9L582.5 221.25L590 215L600 208L607.5 201.25L615 192.5L620 186.25L625 177L631.25 157L636 145.5L640.5 136.5L646.5 127.5L655.5 120L666 111L675 102.75L687 96L699 88.5L711 81L723 72L735 62.25L747 49.5L756 41.25L762 33L766.25 27M373.5 42.25L381 42.25L386.25 40L390 34.75L393 31.75L396.75 31.75L398.25 29.5L400.5 28L406.5 27.7L411 31.75L417 37.75L420 43L424.5 47.5L427.5 52.75L433.5 55L438 59.5L442.5 57L453.75 65.75L466 68L480 74.5L492.5 89.5L507.5 101.5L511 99.5L517.5 104.5L523.75 105.75L530 112L536 113L537.5 120.75L542.5 125.75L543.75 134.5L550 142L560 149.5L572.5 153.25L578.75 157L583.25 162L575 169.5L568.75 174.5L567.5 179.5L566.25 180L557.5 184.4L553 190L551.25 196.25L552.75 205L553 213.75L552 221.25L551.5 227.5L553.75 231.25L557.5 232L560 234.4L563 235.6M702 28L700.5 33L701.25 38.25L703.5 42L699 44.25L691.5 45.75L689.25 49.5L689.25 54L684 55.5L676.5 57L669.75 58.5L666.75 60.75L663.75 64.5L662 70L660 77.25L658.5 76.5L657 78.75L658.5 81L660.75 79.5L660 77.25M658.5 81L655.5 87L649.5 88.5L648 93L645.75 97.5L648.75 100.5L652.5 103.5L648 106.5L645.75 109.5L645 114L648.75 115.5L652.5 113.25L655.5 111L657 113.25L654 115.5L656.25 117L657.75 120L660 115.5L660.75 109.5L664.5 105.75L671.25 102.75L674.25 99M657.75 96L658.5 94.5L661.5 96L666 98.25L672 99L675 97.5L674.25 95.25L677.25 94.5L682.5 93.75L687 90.75L691.5 87L696 84L700.5 80.25L702.75 81.75L702 78L703.5 74.25L705.75 72L706.5 74.25L711 74.25L715.5 72L720 67.5L723.75 60L725.25 52.5L724.5 46.5L726 42L730.5 41.25L735 40.5L736.5 45L739.5 43.5L740.25 41.25L738 39.75L739.5 36L739.5 30L738 28" stroke="#000" stroke-width="1" fill="none" shape-rendering="crispEdges" stroke-linejoin="round"/>
<defs><linearGradient id="cb" x1="0" y1="1" x2="0" y2="0">
<stop offset="0.0000" stop-color="#0000ff"/>
<stop offset="0.2667" stop-color="#00ffff"/>
<stop offset="0.4000" stop-color="#00f200"/>
<stop offset="0.5333" stop-color="#ffff00"/>
<stop offset="0.6833" stop-color="#ff8000"/>
<stop offset="0.8467" stop-color="#ff0000"/>
<stop offset="1.0000" stop-color="#be0082"/>
</linearGradient></defs>
<rect x="32.5" y="160.5" width="49" height="608" fill="#fff" stroke="#000" stroke-width="1" shape-rendering="crispEdges"/>
<rect x="34" y="162" width="46" height="606" fill="url(#cb)" shape-rendering="crispEdges"/>
<text class="h" x="34.5" y="147.5" font-size="16" textLength="43" lengthAdjust="spacingAndGlyphs">[m/s]</text>
<text class="h" x="86.3" y="164.8" font-size="15" textLength="17.4" lengthAdjust="spacingAndGlyphs">30</text>
<text class="h" x="86.3" y="316.9" font-size="15" textLength="17.4" lengthAdjust="spacingAndGlyphs">22</text>
<text class="h" x="86.3" y="468.9" font-size="15" textLength="17.4" lengthAdjust="spacingAndGlyphs">15</text>
<text class="h" x="86.3" y="621.0" font-size="15" textLength="8.7" lengthAdjust="spacingAndGlyphs">8</text>
<text class="h" x="86.3" y="773.0" font-size="15" textLength="8.7" lengthAdjust="spacingAndGlyphs">0</text>
</svg></body></html>
